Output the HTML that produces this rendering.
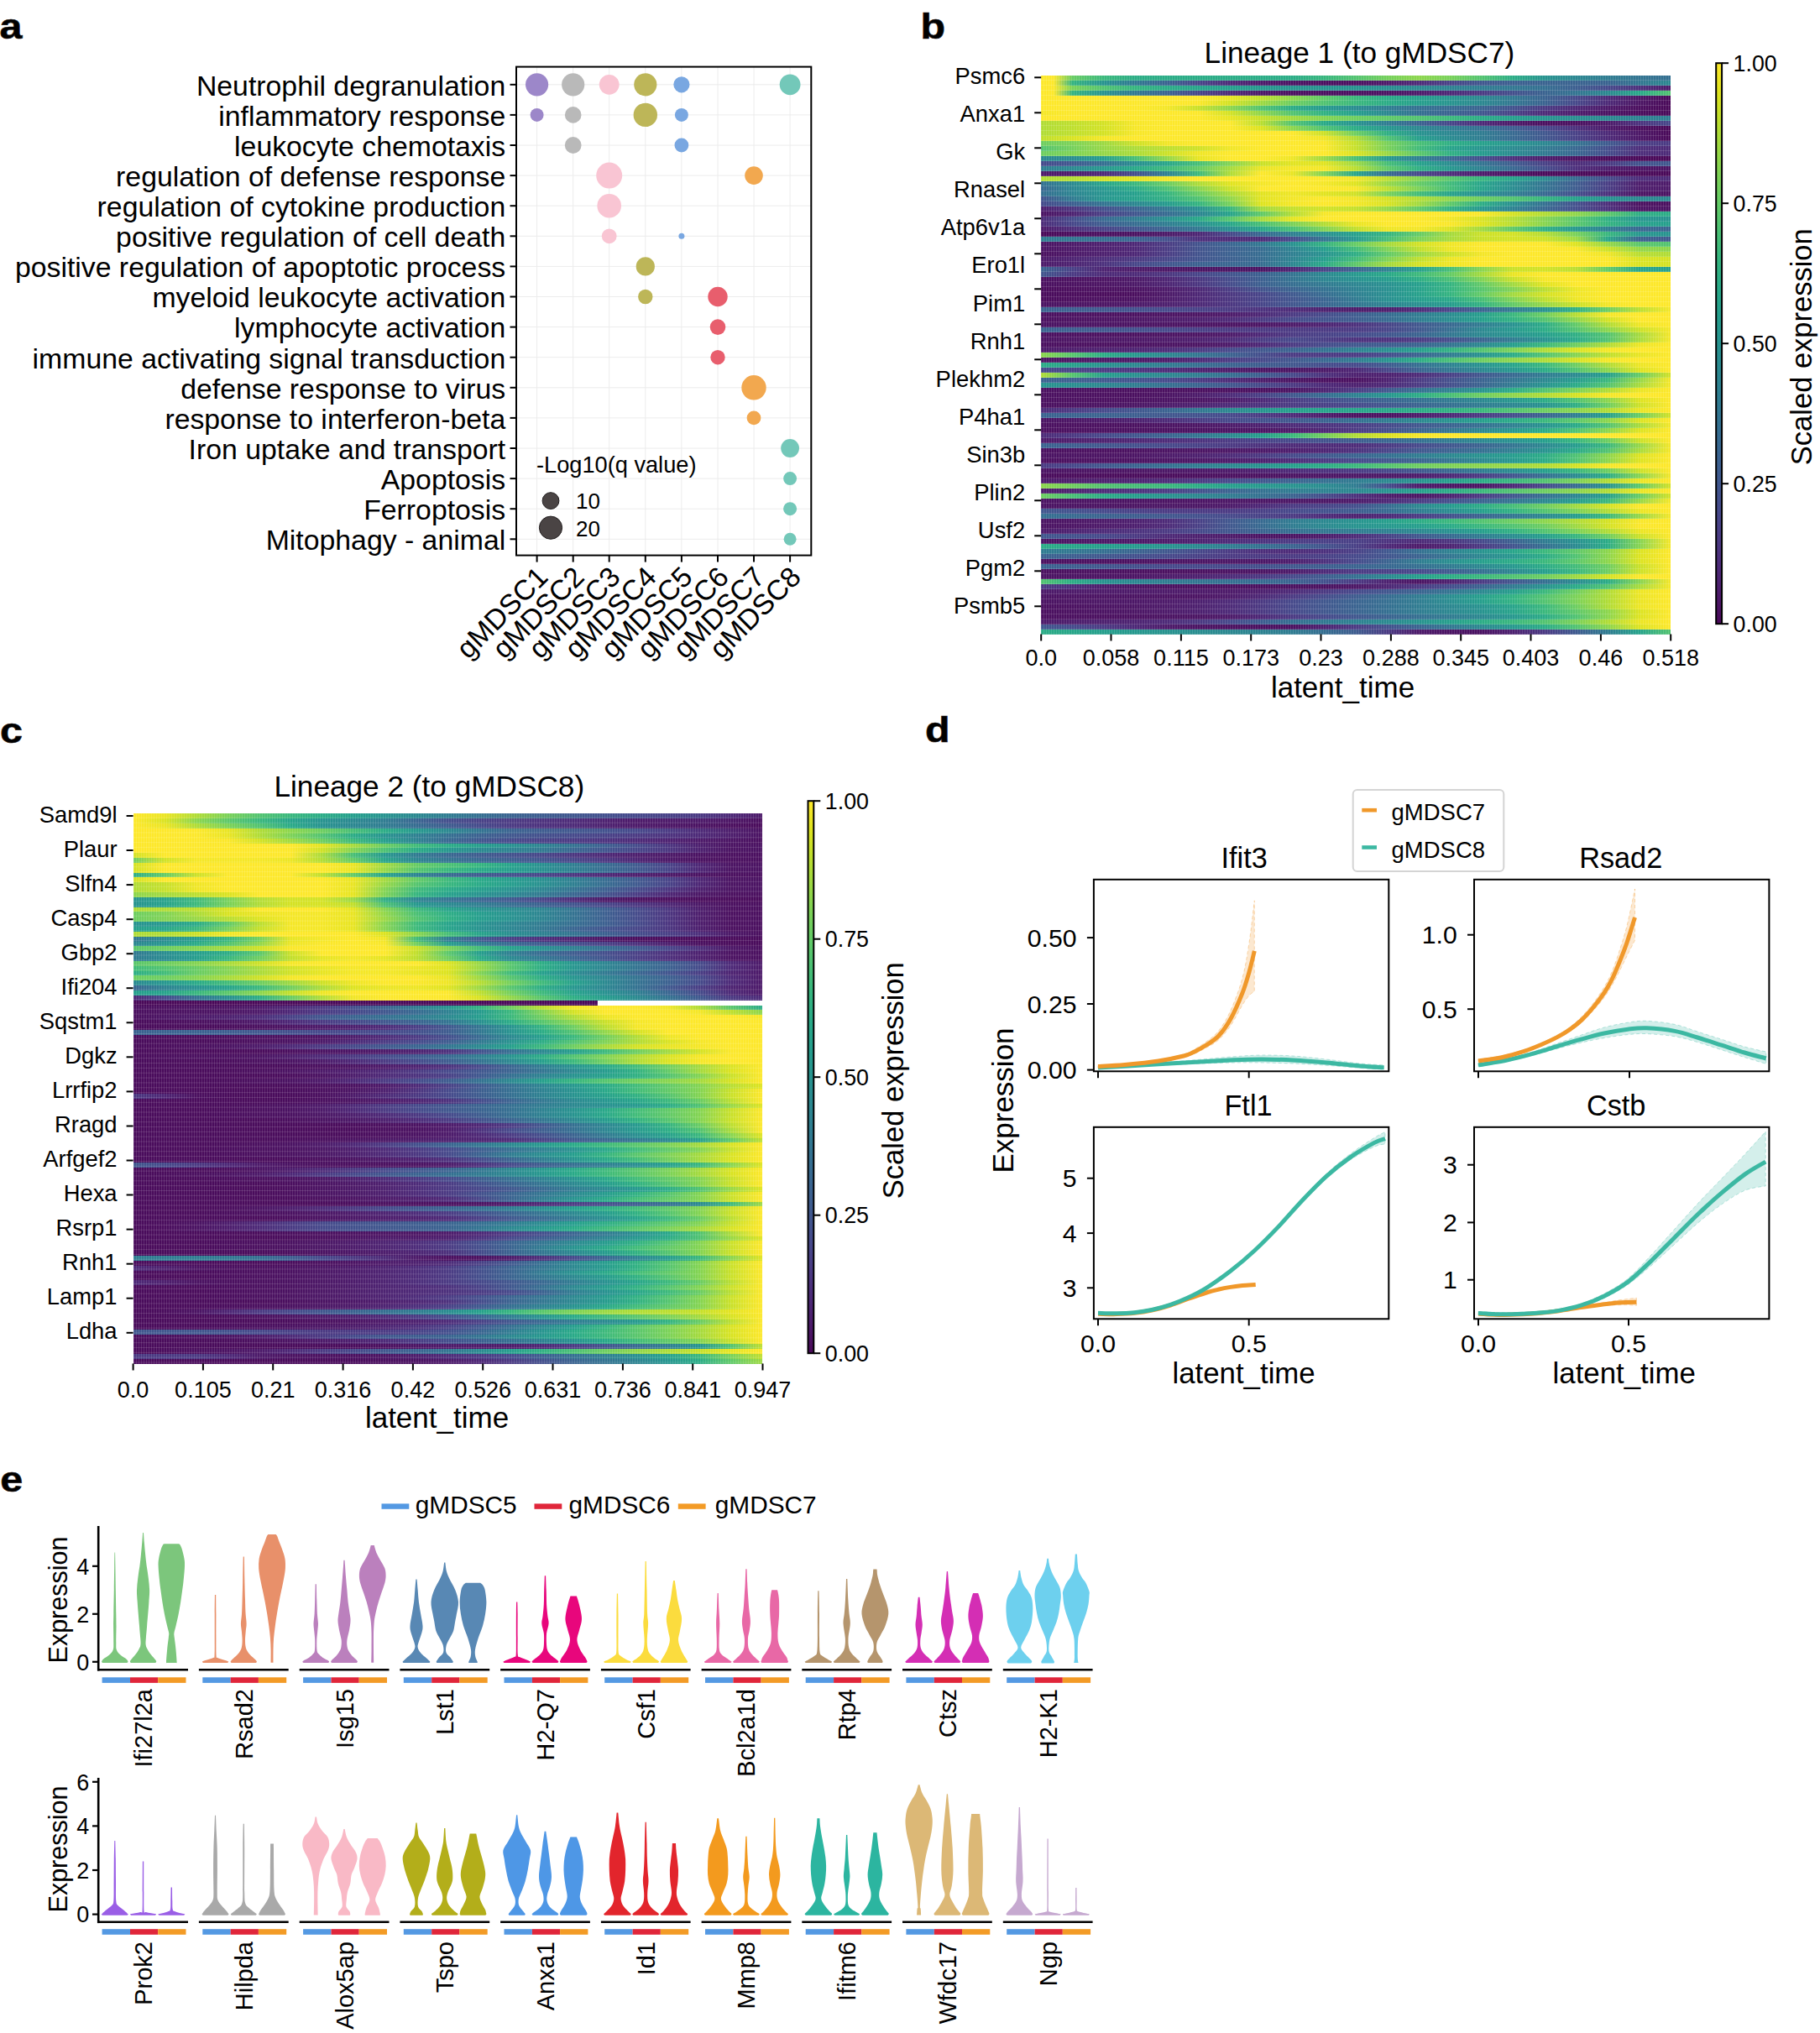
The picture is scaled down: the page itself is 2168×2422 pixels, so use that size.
<!DOCTYPE html><html><head><meta charset="utf-8"><title>Figure</title><style>
html,body{margin:0;padding:0;background:#fff}
#pg{position:relative;width:2168px;height:2422px;overflow:hidden;background:#fff;font-family:"Liberation Sans", Arial, Helvetica, sans-serif}
.hm{position:absolute;overflow:hidden}.hm i{position:absolute;left:0;width:100%;display:block}
.gr{position:absolute;left:0;top:0;width:100%;height:100%;display:block;background-image:linear-gradient(90deg,rgba(255,255,255,.13) 1px,transparent 1px),linear-gradient(0deg,rgba(255,255,255,.13) 1px,transparent 1px)}
svg{position:absolute;left:0;top:0}
svg text{font-family:"Liberation Sans", Arial, Helvetica, sans-serif;fill:#000}
</style></head><body><div id="pg">
<div class="hm" style="left:1240.2px;top:89.5px;width:750.0px;height:666.1px"><i style="top:0.00px;height:6.60px;background:linear-gradient(90deg,#fde82b 0.0%,#fde82b 2.0%,#68cc63 5.0%,#3ab87c 10.0%,#2cad85 15.0%,#2bac86 20.0%,#2bac86 25.0%,#2bac86 30.0%,#2bac86 35.0%,#2bac86 40.0%,#37b67e 45.0%,#52c370 50.0%,#74d05b 55.0%,#8cd64c 60.0%,#78d159 65.0%,#52c370 70.0%,#2bac86 75.0%,#27938f 80.0%,#2b8691 85.0%,#2f7c91 90.0%,#327491 95.0%,#346f91 100.0%)"></i><i style="top:6.00px;height:6.60px;background:linear-gradient(90deg,#fde82b 0.0%,#fde82b 2.0%,#34b480 5.0%,#27938f 10.0%,#317891 15.0%,#3a6390 20.0%,#474689 25.0%,#4d2a78 30.0%,#4d1b6b 35.0%,#4b1363 40.0%,#4b1060 45.0%,#4b1060 50.0%,#4d1a6a 55.0%,#4d2a78 60.0%,#484287 65.0%,#40578e 70.0%,#3c5f90 75.0%,#3a6390 80.0%,#3a6390 85.0%,#3a6390 90.0%,#327691 95.0%,#2b8890 100.0%)"></i><i style="top:12.00px;height:6.60px;background:linear-gradient(90deg,#fde82b 0.0%,#fde82b 2.0%,#7bd257 5.0%,#52c370 10.0%,#35b57f 15.0%,#2bac86 20.0%,#27a48a 25.0%,#259f8c 30.0%,#26988e 35.0%,#27938f 40.0%,#27938f 45.0%,#27938f 50.0%,#288e90 55.0%,#2b8890 60.0%,#2d8291 65.0%,#2f7c91 70.0%,#317791 75.0%,#346f91 80.0%,#3c5e90 85.0%,#46498b 90.0%,#4d2f7c 95.0%,#4d1a6a 100.0%)"></i><i style="top:18.00px;height:6.60px;background:linear-gradient(90deg,#fde82b 0.0%,#fde82b 2.0%,#34b480 5.0%,#27938f 10.0%,#317891 15.0%,#3a6390 20.0%,#464689 25.0%,#4d2a78 30.0%,#4c1969 35.0%,#4b1060 40.0%,#4b1060 45.0%,#4b1060 50.0%,#4b1363 55.0%,#4d1a6a 60.0%,#4d2776 65.0%,#4b3a83 70.0%,#434f8c 75.0%,#3a6390 80.0%,#327491 85.0%,#2b8890 90.0%,#28a889 95.0%,#52c370 100.0%)"></i><i style="top:24.00px;height:6.60px;background:linear-gradient(90deg,#fde82b,#fde82b,#fde82b,#fde82b,#fde82b,#fde82b,#e8e522,#bfdf2d,#8cd64c,#5ec968,#3ab87c,#2aab87,#259f8c,#27948f,#2b8890,#317791,#3a6390,#46488a,#4d2a78,#4c1665,#4a0959)"></i><i style="top:30.00px;height:6.60px;background:linear-gradient(90deg,#fde82b,#fde82b,#fde82b,#fde82b,#fde82b,#fbe72a,#d4e224,#9ed941,#6dce60,#50c371,#3ab87c,#2bac86,#259f8c,#27948f,#2b8890,#317791,#3a6390,#46488a,#4d2a78,#4c1665,#4a0959)"></i><i style="top:36.01px;height:6.60px;background:linear-gradient(90deg,#fde82b,#fde82b,#fde82b,#fde82b,#f5e727,#c9e028,#8cd64c,#51c370,#2bac86,#259a8e,#298c90,#2f7d91,#346f91,#376a91,#3a6390,#42518d,#4b3a83,#4d2876,#4d1a6a,#4b0f5f,#4a0959)"></i><i style="top:42.01px;height:6.60px;background:linear-gradient(90deg,#f5e727,#fde82b,#fde82b,#fde82b,#fde82b,#fde82a,#d4e224,#8fd64b,#52c370,#31b282,#259f8c,#2b8790,#346f91,#3a6290,#40578e,#484186,#4d2a78,#4d1c6c,#4b1363,#4a0c5d,#4a0959)"></i><i style="top:48.01px;height:6.60px;background:linear-gradient(90deg,#fde82b,#fde82b,#fde82b,#fde82b,#fde82b,#fde82b,#e8e522,#c6e02a,#a1da3f,#83d452,#6dce60,#60c967,#52c370,#3cb97c,#2bac86,#259e8c,#27938f,#298d90,#2b8890,#2d8191,#2f7c91)"></i><i style="top:54.01px;height:6.60px;background:linear-gradient(90deg,#b0dc36,#bedf2d,#d4e224,#f7e728,#fde82b,#fde82b,#fde82b,#b9de30,#52c370,#29aa87,#27938f,#2f7c91,#3a6390,#464689,#4d2a78,#4c1968,#4b1060,#4b1060,#4d1a6a,#4c327e,#46498b)"></i><i style="top:60.01px;height:6.60px;background:linear-gradient(90deg,#b0dc36,#bedf2d,#d4e224,#f7e728,#fde82b,#fde82b,#fde82b,#dde320,#8cd64c,#50c371,#2bac86,#26988e,#2b8890,#2f7c91,#346f91,#3d5e90,#46498b,#4c307c,#4d1a6a,#4b0e5e,#4a0959)"></i><i style="top:66.01px;height:6.60px;background:linear-gradient(90deg,#b0dc36,#bedf2d,#d4e224,#f7e728,#fde82b,#fde82b,#fde82b,#fde82b,#fde82b,#cde127,#6dce60,#2faf83,#27938f,#2b8691,#2f7c91,#376a91,#40578e,#484086,#4d2a78,#4c1767,#4a0959)"></i><i style="top:72.01px;height:6.60px;background:linear-gradient(90deg,#bfdf2d,#d9e322,#f5e727,#fde82b,#fde82b,#fde82b,#fde82b,#fde82b,#fde82b,#f1e626,#b0dc36,#52c370,#259f8c,#298b90,#2f7c91,#376991,#40578e,#484086,#4d2a78,#4c1767,#4a0959)"></i><i style="top:78.01px;height:6.60px;background:linear-gradient(90deg,#6dce60,#7cd257,#9cd942,#cde127,#f2e626,#fde82b,#fde82b,#fde82b,#fde82b,#fbe72a,#c4e02a,#79d159,#49c074,#2eaf84,#26a18b,#26968f,#2b8791,#337491,#3e5a8f,#493e85,#4b3a83)"></i><i style="top:84.01px;height:6.60px;background:linear-gradient(90deg,#52c370,#74d05b,#98d845,#addc38,#bddf2e,#d0e126,#f1e626,#fde82b,#fde82b,#fce82a,#c6e02a,#79d158,#41bb79,#27a38a,#26958f,#2a8a90,#307b91,#386791,#444d8c,#4d2e7b,#4d2a78)"></i><i style="top:90.01px;height:6.60px;background:linear-gradient(90deg,#6dce60,#7ed355,#95d747,#abdc39,#cce127,#efe625,#fde82b,#fde82b,#fde82b,#fde82b,#dde320,#9ad844,#5cc869,#30b083,#259c8d,#298b90,#307a91,#386791,#444d8c,#4d2e7b,#4d2a78)"></i><i style="top:96.01px;height:6.60px;background:linear-gradient(90deg,#2b8890,#298c90,#259d8d,#46be76,#91d74a,#e8e522,#fde82b,#fde82b,#efe625,#9ed941,#48bf75,#269a8e,#2e7f91,#386891,#444d8c,#4d2f7c,#4d1c6c,#4b1161,#4a0b5b,#4a0959,#4a0959)"></i><i style="top:102.02px;height:6.60px;background:linear-gradient(90deg,#46498b,#40588f,#356f91,#288e90,#28a689,#47bf75,#84d452,#c9e128,#e2e420,#e2e420,#a0da40,#46be76,#26a38b,#298c90,#337491,#3e5c8f,#484186,#4d2c79,#4b3982,#41538d,#40578e)"></i><i style="top:108.02px;height:6.60px;background:linear-gradient(90deg,#2f7c91,#2a8a90,#26998e,#28a988,#3cb97b,#64cb65,#a6db3c,#ece524,#f5e727,#f5e727,#bade2f,#60c967,#2fb083,#26988e,#2d8191,#386891,#444d8c,#4d2f7c,#4d1d6d,#4c1464,#4b1363)"></i><i style="top:114.02px;height:6.60px;background:linear-gradient(90deg,#4d1a6a,#4d1b6a,#4d2a78,#434f8c,#2d8191,#3dba7b,#aedc37,#fde82b,#e9e523,#81d353,#27a58a,#356d91,#46488a,#4d2e7b,#4d1c6c,#4b1161,#4a0b5b,#4a0959,#4a0959,#4a0959,#4a0959)"></i><i style="top:120.02px;height:6.60px;background:linear-gradient(90deg,#b0dc36,#b3dd34,#d1e225,#e2e420,#f3e626,#fde82b,#fde82b,#fde82b,#fde82b,#fde82b,#f2e626,#b9de30,#82d353,#57c66c,#35b57f,#26a38b,#2a8a90,#376a91,#454c8b,#4d2c7a,#4d2a78)"></i><i style="top:126.02px;height:6.60px;background:linear-gradient(90deg,#347091,#2a8990,#27a58a,#39b77d,#68cc63,#addc38,#e0e41f,#f5e727,#fde82b,#f5e727,#dfe41f,#98d845,#65cb64,#40bb7a,#27a58a,#298d90,#327491,#3e5c8f,#493e85,#4d1d6c,#4d1a6a)"></i><i style="top:132.02px;height:6.60px;background:linear-gradient(90deg,#386791,#2b8691,#26988e,#2aab87,#4bc173,#87d450,#cbe127,#fde82b,#fde82b,#fde82b,#f9e729,#bedf2d,#7bd258,#43bd78,#27a48a,#298c90,#327491,#3e5c8f,#493e85,#4d1d6c,#4d1a6a)"></i><i style="top:138.02px;height:6.60px;background:linear-gradient(90deg,#356e91,#2c8491,#26958f,#25a08c,#34b480,#68cc63,#a8db3b,#e2e420,#efe625,#e2e420,#d0e126,#7cd257,#42bc78,#27a38a,#288f90,#2e7f91,#376991,#434e8c,#4c317d,#4c1464,#4b1363)"></i><i style="top:144.02px;height:6.60px;background:linear-gradient(90deg,#42518d,#307a91,#26978e,#26a18b,#30b083,#4fc271,#8dd64c,#e3e420,#f3e627,#fde82b,#f3e627,#d5e223,#b2dd35,#8dd64c,#6ece5f,#53c46f,#35b57f,#26a18b,#279290,#2b8890,#2b8890)"></i><i style="top:150.02px;height:6.60px;background:linear-gradient(90deg,#454a8b,#3c5e90,#327491,#2b8790,#259b8d,#34b480,#77d15a,#dee420,#f4e727,#fde82b,#f4e727,#dae322,#a2da3f,#5fc968,#2dae85,#288f90,#347091,#43508d,#4d2f7b,#4b1161,#4b1060)"></i><i style="top:156.02px;height:6.60px;background:linear-gradient(90deg,#4d1e6e,#4c337e,#434e8c,#3b6290,#317791,#288f90,#35b57f,#a3da3e,#c4e02b,#d2e225,#c4e02b,#96d846,#60ca67,#31b182,#26988e,#2d8191,#386891,#444e8c,#4c317d,#4c1464,#4b1363)"></i><i style="top:162.02px;height:6.60px;background:linear-gradient(90deg,#4b1363,#4d2271,#494086,#40568e,#366b91,#2c8491,#26a38a,#5fc968,#b2dd34,#f7e728,#fde82b,#fde82b,#fde82b,#fde82b,#f9e729,#d5e223,#b2dd34,#90d64a,#5dc869,#2eae84,#2bac86)"></i><i style="top:168.03px;height:6.60px;background:linear-gradient(90deg,#4d2a78,#454b8b,#376991,#307b91,#289090,#28a888,#55c56e,#a7db3c,#e5e521,#fde82b,#fde82b,#fde82b,#fde82b,#f2e626,#d8e322,#b3dd34,#85d451,#59c76b,#2fb083,#26968f,#27938f)"></i><i style="top:174.03px;height:6.60px;background:linear-gradient(90deg,#4d2a78,#464689,#3d5e90,#366d91,#2f7d91,#288f90,#27a689,#47bf75,#7ad158,#b3dd34,#eae523,#fde82b,#fde82b,#fae729,#dfe41f,#b9de30,#88d54f,#5ac76b,#34b480,#26a28b,#259f8c)"></i><i style="top:180.03px;height:6.60px;background:linear-gradient(90deg,#4d1a6a,#4d2d7a,#484187,#41548e,#3a6491,#317891,#288e90,#28a689,#48bf75,#80d355,#c1df2c,#efe625,#f4e627,#dce321,#a1da3f,#5dc869,#30b183,#26988e,#2e7f91,#386691,#3a6390)"></i><i style="top:186.03px;height:6.60px;background:linear-gradient(90deg,#4a0959,#4a0d5d,#4b1060,#4b1262,#4c1968,#4d2674,#464789,#376991,#2e8091,#289090,#26a18b,#34b480,#64cb65,#a4da3d,#cce127,#d4e224,#b6dd32,#78d159,#38b77e,#26988e,#27938f)"></i><i style="top:192.03px;height:6.60px;background:linear-gradient(90deg,#2f7c91,#327591,#356d91,#396591,#434f8c,#4d2f7c,#4d2a78,#4d2a78,#46498b,#337491,#269a8e,#45bd77,#7bd257,#a8db3b,#c8e029,#d4e224,#cee126,#9dd942,#28a789,#3b6190,#40578e)"></i><i style="top:198.03px;height:6.60px;background:linear-gradient(90deg,#4b1363,#4c1969,#4d1f6f,#4d2776,#4a3b83,#42538d,#396491,#317891,#279290,#32b281,#66cc64,#a4da3e,#d3e224,#f0e625,#fde82b,#fde82b,#fde82b,#dee420,#98d845,#5ac76b,#52c370)"></i><i style="top:204.03px;height:6.60px;background:linear-gradient(90deg,#4b1363,#4c1969,#4d1f6f,#4d2776,#4a3c84,#42538d,#3c6090,#366c91,#2d8391,#259e8d,#41bb79,#7ed356,#bfdf2d,#eee624,#fde82b,#fde82b,#fde82b,#fae72a,#cde127,#94d747,#8cd64c)"></i><i style="top:210.03px;height:6.60px;background:linear-gradient(90deg,#4b1060,#4c1868,#4d206f,#4d2776,#4a3c84,#42538d,#3b6190,#366d91,#2e7f91,#27938f,#2eae84,#61ca67,#99d845,#cbe128,#f4e627,#fde82b,#fde82b,#fde82b,#f0e626,#b9de30,#b0dc36)"></i><i style="top:216.03px;height:6.60px;background:linear-gradient(90deg,#4d1a6a,#4d2372,#4d2e7b,#4b3881,#474589,#41548e,#3c5f90,#366c91,#2d8391,#259e8d,#41bb79,#7ed356,#bfdf2d,#eee624,#fde82b,#fde82b,#fde82b,#fde82b,#fce82a,#dae321,#d4e224)"></i><i style="top:222.03px;height:6.60px;background:linear-gradient(90deg,#4d1a6a,#4d2271,#4c317d,#474689,#41558e,#3b6190,#396691,#366d91,#2b8791,#29aa88,#5dc869,#a2da3f,#d5e224,#f0e625,#fde82b,#fde82b,#fde82b,#fde82b,#fce82a,#dae321,#d4e224)"></i><i style="top:228.03px;height:6.60px;background:linear-gradient(90deg,#3a6390,#484086,#4d2271,#4d1b6a,#4c1666,#4b1363,#4b1363,#4b1363,#4d2473,#484387,#3b6290,#2d8291,#25a08c,#46be76,#89d54f,#cbe127,#d4e224,#bbde2f,#63cb65,#27a58a,#259f8c)"></i><i style="top:234.04px;height:6.60px;background:linear-gradient(90deg,#40578e,#4a3a83,#4d2a78,#4d2a78,#4c357f,#474589,#41538d,#3b6090,#337391,#2a8890,#26998e,#28a888,#3db97b,#64cb65,#a4da3d,#ebe523,#fde82b,#fde82b,#fde82b,#fde82b,#fde82b)"></i><i style="top:240.04px;height:6.60px;background:linear-gradient(90deg,#4b1060,#4b1161,#4c1464,#4c1968,#4d2473,#4b3680,#454b8b,#3c5f90,#337391,#2c8591,#279190,#259c8d,#2cad85,#49bf75,#80d355,#c8e029,#f6e728,#fde82b,#fde82b,#fde82b,#fde82b)"></i><i style="top:246.04px;height:6.60px;background:linear-gradient(90deg,#4b1060,#4b1161,#4c1464,#4c1968,#4d2473,#4b3680,#454b8b,#3c6090,#356e91,#307a91,#2c8591,#289190,#25a08c,#34b480,#62ca67,#a2da3f,#e2e420,#fde82b,#fde82b,#fde82b,#fde82b)"></i><i style="top:252.04px;height:6.60px;background:linear-gradient(90deg,#4a0c5c,#4b0e5e,#4b1060,#4b1262,#4d1a6a,#4d2775,#4a3c84,#42538d,#3a6390,#337191,#2d8191,#289090,#26a18b,#34b480,#57c66c,#82d353,#bbde2f,#ede624,#fde82b,#fde82b,#fde82b)"></i><i style="top:258.04px;height:6.60px;background:linear-gradient(90deg,#4a0c5c,#4a0c5c,#4a0c5c,#4b0f5f,#4c1968,#4d2775,#4b3680,#474589,#3f598f,#366c91,#2e7e91,#289090,#26a18b,#34b480,#63cb66,#a3da3e,#d3e224,#f0e625,#fde82b,#fde82b,#fde82b)"></i><i style="top:264.04px;height:6.60px;background:linear-gradient(90deg,#4a0c5c,#4b0e5e,#4b1060,#4b1262,#4d1b6a,#4d2776,#4b3680,#474589,#41558e,#396491,#307a91,#289090,#259d8d,#28a888,#45be76,#7fd355,#bddf2e,#eee624,#fde82b,#fde82b,#fde82b)"></i><i style="top:270.04px;height:6.60px;background:linear-gradient(90deg,#4b1363,#4b1363,#4c1464,#4c1969,#4d1f6e,#4d2876,#4b3580,#474589,#40568e,#396591,#327591,#2c8591,#289090,#259c8d,#32b281,#62ca66,#97d846,#cbe128,#f4e627,#fde82b,#fde82b)"></i><i style="top:276.04px;height:6.60px;background:linear-gradient(90deg,#3a6390,#3d5e90,#40578e,#43508d,#46498b,#484187,#4b3a83,#4c327e,#4d2a78,#4d206f,#4d1a6a,#4d1d6c,#4d2a78,#474689,#3a6390,#307b91,#27938f,#31b282,#6dce60,#bcde2f,#f5e727)"></i><i style="top:282.04px;height:6.60px;background:linear-gradient(90deg,#4b1060,#4b1060,#4b1060,#4b1161,#4b1363,#4c1564,#4d1a6a,#4d2876,#4b3a83,#454b8b,#3e5c8f,#366b91,#2f7c91,#298c90,#259f8c,#39b77d,#6dce60,#b7de32,#f5e727,#fde82b,#fde82b)"></i><i style="top:288.04px;height:6.60px;background:linear-gradient(90deg,#4b1060,#4b1161,#4b1363,#4c1665,#4d1a6a,#4d206f,#4d2a78,#4b3a83,#46498b,#42528d,#3e5c8f,#376a91,#2f7c91,#298d90,#259f8c,#31b182,#52c370,#8fd64b,#d4e224,#fde82a,#fde82b)"></i><i style="top:294.04px;height:6.60px;background:linear-gradient(90deg,#4b1363,#4b1363,#4b1363,#4b1363,#4b1363,#4b1363,#4b1363,#4c1565,#4d1a6a,#4d2372,#4c307c,#484387,#40578e,#386891,#2f7c91,#279290,#2bac86,#61ca67,#b0dc36,#efe625,#fde82b)"></i><i style="top:300.05px;height:6.60px;background:linear-gradient(90deg,#3a6390,#3d5e90,#40578e,#43508d,#46498b,#484086,#4b3a83,#4b3a83,#4b3a83,#4b3a83,#4b3a83,#474589,#40578e,#356f91,#2b8890,#26998e,#2bac86,#52c370,#8cd64c,#cbe127,#f5e727)"></i><i style="top:306.05px;height:6.60px;background:linear-gradient(90deg,#4b1060,#4b1060,#4b1060,#4b1161,#4b1363,#4c1564,#4d1a6a,#4d2978,#4b3a83,#484187,#46498b,#41558e,#3a6390,#327691,#2b8890,#27938f,#259f8c,#2faf83,#52c370,#a5da3d,#f5e727)"></i><i style="top:312.05px;height:6.60px;background:linear-gradient(90deg,#4b1363,#4c1564,#4c1766,#4c1767,#4d1a6a,#4d206f,#4d2a78,#4a3c84,#46498b,#493e85,#4c307c,#4c307d,#4b3a83,#444d8c,#3a6390,#307b91,#27938f,#2aab87,#52c370,#a7db3c,#f5e727)"></i><i style="top:318.05px;height:6.60px;background:linear-gradient(90deg,#4b1060,#4b1060,#4b1060,#4b1161,#4b1363,#4c1564,#4d1a6a,#4d2877,#4b3a83,#454a8b,#40578e,#3d5c8f,#3a6390,#337391,#2b8890,#259e8c,#3ab87c,#6fce5e,#b0dc36,#ede624,#fde82b)"></i><i style="top:324.05px;height:6.60px;background:linear-gradient(90deg,#4d1a6a,#4d1d6c,#4d206f,#4d2372,#4d2a78,#4b3982,#46498b,#40578e,#3a6390,#337191,#2d8191,#288f90,#259f8c,#31b182,#52c370,#7dd256,#b0dc36,#d9e322,#f5e727,#fde82b,#fde82b)"></i><i style="top:330.05px;height:6.60px;background:linear-gradient(90deg,#8cd64c,#57c66d,#2bac86,#26988e,#2b8890,#327691,#3a6390,#444d8c,#4b3a83,#4b3a83,#4b3a83,#444c8c,#3a6390,#307b91,#27938f,#2bac86,#52c370,#86d450,#bfdf2d,#e9e522,#fde82b)"></i><i style="top:336.05px;height:6.60px;background:linear-gradient(90deg,#4b1363,#4c1564,#4c1766,#4c1766,#4d1a6a,#4d2877,#4b3a83,#46488a,#40578e,#386891,#2f7c91,#27938f,#2bac86,#48bf75,#6dce60,#8fd64b,#b0dc36,#d6e223,#f5e727,#fde82b,#fde82b)"></i><i style="top:342.05px;height:6.60px;background:linear-gradient(90deg,#2bac86,#26a18b,#27938f,#2b8890,#2f7c91,#356f91,#3a6390,#3d5c8f,#40578e,#444c8c,#46498b,#3e5a8f,#346f91,#2d8291,#27938f,#27a48a,#3ab87c,#6dce60,#b0dc36,#ede624,#fde82b)"></i><i style="top:348.05px;height:6.60px;background:linear-gradient(90deg,#46498b,#484287,#4b3a83,#4c327e,#4d2a78,#4d2170,#4d1a6a,#4c1464,#4b1363,#4c1968,#4d2675,#474689,#3a6390,#317791,#2b8890,#26988e,#2bac86,#50c371,#8cd64c,#dde320,#fde82b)"></i><i style="top:354.05px;height:6.60px;background:linear-gradient(90deg,#b0dc36,#55c56e,#259f8c,#289090,#2b8890,#2f7d91,#346f91,#3d5d90,#46498b,#4c317d,#4d206f,#4d206f,#4d2a78,#493f86,#40578e,#376991,#2f7c91,#2a8b90,#259f8c,#64cb65,#d4e224)"></i><i style="top:360.05px;height:6.60px;background:linear-gradient(90deg,#3a6390,#3d5e90,#40578e,#42518d,#46498b,#4a3a83,#4d2a78,#4d1d6c,#4b1363,#4b1060,#4b1060,#4d2271,#4b3a83,#43508c,#3a6390,#327591,#2b8890,#259d8d,#3ab87c,#95d747,#f5e727)"></i><i style="top:366.05px;height:6.60px;background:linear-gradient(90deg,#27938f,#288f90,#2b8890,#2f7d91,#346f91,#3a6390,#40578e,#46488a,#4b3a83,#4d2978,#4d206f,#4d2877,#4b3a83,#444e8c,#3a6390,#307b91,#27938f,#2aab87,#52c370,#a7db3c,#f5e727)"></i><i style="top:372.06px;height:6.60px;background:linear-gradient(90deg,#4b1060,#4b1060,#4b1060,#4b1060,#4b1060,#4b1060,#4b1060,#4b1060,#4b1363,#4d2372,#4b3a83,#40578e,#346f91,#2d8291,#27938f,#2bac86,#52c370,#7dd256,#b0dc36,#ebe523,#fde82b)"></i><i style="top:378.06px;height:6.60px;background:linear-gradient(90deg,#4b1060,#4b1060,#4b1060,#4b1060,#4b1363,#4d1c6b,#4d2a78,#494086,#40578e,#366b91,#2d8191,#26968f,#2bac86,#47bf75,#6dce60,#8fd64b,#b0dc36,#d6e223,#f5e727,#fde82b,#fde82b)"></i><i style="top:384.06px;height:6.60px;background:linear-gradient(90deg,#4b1060,#4b1060,#4b1060,#4b1161,#4b1363,#4c1564,#4d1a6a,#4d2877,#4b3a83,#46498b,#40578e,#3a6390,#346f91,#307b91,#2b8890,#26988e,#2bac86,#50c371,#8cd64c,#dde320,#fde82b)"></i><i style="top:390.06px;height:6.60px;background:linear-gradient(90deg,#4b1060,#4b1161,#4b1363,#4c1665,#4d1a6a,#4d2170,#4d2a78,#4c327e,#4b3a83,#484086,#46498b,#40568e,#3a6390,#346f91,#2f7c91,#2b8691,#27938f,#2faf83,#6dce60,#cde127,#fde82b)"></i><i style="top:396.06px;height:6.60px;background:linear-gradient(90deg,#4d2a78,#4b3882,#46498b,#40568e,#3a6390,#327691,#2b8890,#26958f,#259f8c,#26a38b,#27a48a,#28a789,#2bac86,#30b182,#3ab87c,#50c371,#6dce60,#8ad54e,#b0dc36,#e9e523,#fde82b)"></i><i style="top:402.06px;height:6.60px;background:linear-gradient(90deg,#3a6390,#3a6390,#3a6390,#3d5e90,#40578e,#42518d,#46498b,#4a3b83,#4d2a78,#4d1b6a,#4b1060,#4b1161,#4d1a6a,#4d2776,#4b3a83,#444d8c,#3a6390,#2e7f91,#259f8c,#68cc63,#d4e224)"></i><i style="top:408.06px;height:6.60px;background:linear-gradient(90deg,#4b1363,#4c1565,#4d1a6a,#4d206f,#4d2a78,#4b3a83,#46498b,#43508d,#40578e,#3a6290,#346f91,#2f7c91,#2b8890,#27938f,#259f8c,#2aab87,#3ab87c,#5cc86a,#8cd64c,#dbe321,#fde82b)"></i><i style="top:414.06px;height:6.60px;background:linear-gradient(90deg,#4b1060,#4b1060,#4b1060,#4b1161,#4b1363,#4c1665,#4d1a6a,#4d2170,#4d2a78,#4c317d,#4b3a83,#46488a,#40578e,#3a6290,#346f91,#2e8091,#27938f,#29aa87,#52c370,#a7db3c,#f5e727)"></i><i style="top:420.06px;height:6.60px;background:linear-gradient(90deg,#4b1060,#4b1060,#4b1060,#4b1060,#4b1060,#4b1161,#4b1363,#4c1564,#4d1a6a,#4d2776,#4b3a83,#434f8c,#3a6390,#327691,#2b8890,#26988e,#2bac86,#50c371,#8cd64c,#dde320,#fde82b)"></i><i style="top:426.06px;height:6.60px;background:linear-gradient(90deg,#4d2a78,#4b3882,#46498b,#40568e,#3a6390,#327491,#2b8890,#259e8c,#3ab87c,#71cf5d,#b0dc36,#dbe321,#f5e727,#fde82b,#fde82b,#fde82b,#fde82b,#fde82b,#fde82b,#fde82b,#fde82b)"></i><i style="top:432.06px;height:6.60px;background:linear-gradient(90deg,#4d1a6a,#4d1d6c,#4d206f,#4d2473,#4d2a78,#4c317d,#4b3a83,#484187,#46498b,#42528d,#3e5c8f,#396591,#346f91,#307c91,#2b8890,#279290,#259f8c,#36b67f,#6dce60,#cbe127,#fde82b)"></i><i style="top:438.07px;height:6.60px;background:linear-gradient(90deg,#3a6390,#3d5e90,#40578e,#43508d,#46498b,#484187,#4b3a83,#4c317d,#4d2a78,#4d2a78,#4d2a78,#4b3882,#46498b,#40568e,#3a6390,#327491,#2b8890,#259d8d,#3ab87c,#95d747,#f5e727)"></i><i style="top:444.07px;height:6.60px;background:linear-gradient(90deg,#4b1060,#4b1060,#4b1060,#4b1161,#4b1363,#4c1564,#4c1766,#4c1969,#4d1d6d,#4d2473,#4c307c,#474488,#40578e,#3a6390,#346f91,#2e8091,#27938f,#29aa87,#52c370,#a7db3c,#f5e727)"></i><i style="top:450.07px;height:6.60px;background:linear-gradient(90deg,#4b1363,#4b1363,#4b1363,#4c1565,#4d1a6a,#4d206f,#4d2a78,#4b3982,#46498b,#40578e,#3a6390,#346f91,#2f7c91,#2b8890,#27938f,#259d8d,#2bac86,#4ec272,#8cd64c,#dde320,#fde82b)"></i><i style="top:456.07px;height:6.60px;background:linear-gradient(90deg,#4b1060,#4b1060,#4b1060,#4b1161,#4b1363,#4c1665,#4d1a6a,#4d206f,#4d2a78,#4b3982,#46498b,#40568e,#3a6390,#327591,#2b8890,#26988e,#2bac86,#50c371,#8cd64c,#dde320,#fde82b)"></i><i style="top:462.07px;height:6.60px;background:linear-gradient(90deg,#4b3a83,#46478a,#40578e,#3a6390,#346f91,#2f7c91,#2b8890,#27938f,#259f8c,#2bac86,#3ab87c,#53c46f,#6dce60,#7dd256,#8cd64c,#9cd943,#b0dc36,#d4e224,#f5e727,#fde82b,#fde82b)"></i><i style="top:468.07px;height:6.60px;background:linear-gradient(90deg,#4b1363,#4b1363,#4b1363,#4c1564,#4c1766,#4c1767,#4d1a6a,#4d2170,#4d2a78,#4c317d,#4b3a83,#46478a,#40578e,#386891,#2f7c91,#298d90,#259f8c,#37b67e,#6dce60,#cbe127,#fde82b)"></i><i style="top:474.07px;height:6.60px;background:linear-gradient(90deg,#4a0c5c,#4a0c5c,#4a0c5c,#4a0c5c,#4a0c5c,#4a0e5e,#4b1060,#4b1161,#4b1363,#4c1565,#4c1766,#4c1766,#4d1a6a,#4d2675,#4b3a83,#41548e,#346f91,#298b90,#2bac86,#86d451,#f5e727)"></i><i style="top:480.07px;height:6.60px;background:linear-gradient(90deg,#4d1a6a,#4d1d6c,#4d206f,#4d2372,#4d2a78,#4b3982,#46498b,#40578e,#3a6390,#346f91,#2f7c91,#2b8890,#27938f,#259f8c,#2bac86,#39b77d,#52c370,#7ad158,#b0dc36,#ebe523,#fde82b)"></i><i style="top:486.07px;height:6.60px;background:linear-gradient(90deg,#8cd64c,#6fce5e,#52c370,#45be77,#3ab87c,#2bac86,#259f8c,#26998e,#27938f,#298c90,#2f7c91,#434e8c,#4d1a6a,#4b1363,#4b1363,#4d2877,#46498b,#366c91,#27938f,#5cc86a,#d4e224)"></i><i style="top:492.07px;height:6.60px;background:linear-gradient(90deg,#4d1a6a,#4d2170,#4d2a78,#4c307c,#4b3a83,#434f8c,#3a6390,#347191,#2f7c91,#2d8291,#2b8890,#279390,#259f8c,#2bac86,#3ab87c,#52c370,#6dce60,#8ad54e,#b0dc36,#e9e523,#fde82b)"></i><i style="top:498.07px;height:6.60px;background:linear-gradient(90deg,#6dce60,#48bf75,#2bac86,#259e8c,#27938f,#2b8890,#2f7c91,#347191,#3a6390,#454b8b,#4c307c,#4d1c6b,#4b1363,#4d2170,#4b3a83,#40568e,#346f91,#2b8691,#259f8c,#66cc64,#d4e224)"></i><i style="top:504.08px;height:6.60px;background:linear-gradient(90deg,#4b1363,#4b1363,#4b1363,#4b1363,#4b1363,#4c1565,#4c1766,#4c1766,#4c1766,#4c1766,#4d1a6a,#4d2776,#4b3a83,#434f8c,#3a6390,#327591,#2b8890,#259d8d,#3ab87c,#95d747,#f5e727)"></i><i style="top:510.08px;height:6.60px;background:linear-gradient(90deg,#4b1363,#4b1363,#4b1363,#4c1564,#4c1766,#4c1766,#4d1a6a,#4d2877,#4b3a83,#484287,#434e8c,#376a91,#2b8890,#259a8e,#2bac86,#45be77,#6dce60,#a0da40,#d4e224,#fbe72a,#fde82b)"></i><i style="top:516.08px;height:6.60px;background:linear-gradient(90deg,#40578e,#42518d,#46498b,#484086,#4b3a83,#4b3a83,#4b3a83,#494086,#46498b,#42518d,#3e5c8f,#376a91,#2f7c91,#298d90,#259f8c,#31b282,#52c370,#7bd257,#b0dc36,#ebe523,#fde82b)"></i><i style="top:522.08px;height:6.60px;background:linear-gradient(90deg,#346f91,#376a91,#3a6390,#3d5d8f,#40578e,#43508d,#46498b,#484287,#4b3a83,#4d2a79,#4d206f,#4d2877,#4b3a83,#434f8c,#3a6390,#327591,#2b8890,#259d8d,#3ab87c,#95d747,#f5e727)"></i><i style="top:528.08px;height:6.60px;background:linear-gradient(90deg,#4b1363,#4c1565,#4d1a6a,#4d1f6f,#4d2a78,#494086,#40578e,#376a91,#2f7c91,#2a8890,#27938f,#259f8c,#2bac86,#3ab87c,#52c370,#6dce60,#8cd64c,#b0dc36,#d4e224,#f9e729,#fde82b)"></i><i style="top:534.08px;height:6.60px;background:linear-gradient(90deg,#4b1363,#4c1565,#4d1a6a,#4d1f6f,#4d2a78,#494086,#40578e,#376a91,#2f7c91,#2a8990,#27938f,#26998e,#259f8c,#2aab87,#3ab87c,#50c371,#6dce60,#9ed941,#d4e224,#fbe72a,#fde82b)"></i><i style="top:540.08px;height:6.60px;background:linear-gradient(90deg,#4d1a6a,#4d2170,#4d2a78,#4c317d,#4b3a83,#46488a,#40578e,#3a6490,#346f91,#327791,#2f7c91,#2d8191,#2b8890,#279290,#259f8c,#31b182,#52c370,#7bd257,#b0dc36,#ebe523,#fde82b)"></i><i style="top:546.08px;height:6.60px;background:linear-gradient(90deg,#40578e,#42528d,#46498b,#4b3a83,#4d2a78,#4d206f,#4d1a6a,#4c1464,#4b1363,#4d1b6b,#4d2a78,#494086,#40578e,#376991,#2f7c91,#298d90,#259f8c,#37b67e,#6dce60,#cbe127,#fde82b)"></i><i style="top:552.08px;height:6.60px;background:linear-gradient(90deg,#4b1363,#4c1564,#4c1766,#4c1767,#4d1a6a,#4d2170,#4d2a78,#4c327e,#4b3a83,#493f86,#494086,#4c337f,#4d2a78,#4c357f,#46498b,#3b6190,#2f7c91,#279190,#2bac86,#84d452,#f5e727)"></i><i style="top:558.08px;height:6.60px;background:linear-gradient(90deg,#2bac86,#27a689,#259f8c,#269a8e,#27938f,#2a8890,#2f7c91,#347091,#3a6390,#42538d,#494086,#4d2877,#4d1a6a,#4d2372,#4b3a83,#41548e,#346f91,#298b90,#2bac86,#86d451,#f5e727)"></i><i style="top:564.08px;height:6.60px;background:linear-gradient(90deg,#2f7c91,#317791,#346f91,#3a6490,#40578e,#46488a,#4b3a83,#4d2e7b,#4d2a78,#4c307d,#494086,#3f588f,#346f91,#2d8291,#27938f,#27a58a,#3ab87c,#5ec869,#8cd64c,#dbe321,#fde82b)"></i><i style="top:570.09px;height:6.60px;background:linear-gradient(90deg,#3a6390,#3d5e90,#40578e,#43508d,#46498b,#484086,#4b3a83,#4b3a83,#4b3a83,#494086,#46498b,#41558e,#3a6390,#327591,#2b8890,#26988e,#2bac86,#50c371,#8cd64c,#dde320,#fde82b)"></i><i style="top:576.09px;height:6.60px;background:linear-gradient(90deg,#4b1060,#4b1060,#4b1060,#4b1161,#4b1363,#4c1564,#4c1766,#4c1767,#4d1d6d,#4c307c,#46498b,#3a6390,#2f7c91,#288f90,#259f8c,#2bac86,#3ab87c,#5cc86a,#8cd64c,#dbe321,#fde82b)"></i><i style="top:582.09px;height:6.60px;background:linear-gradient(90deg,#3a6390,#3d5e90,#40578e,#434f8c,#46498b,#46498b,#46498b,#434f8c,#40578e,#3d5d8f,#3a6390,#386891,#346f91,#307a91,#2b8890,#26988e,#2bac86,#42bc78,#6dce60,#c9e028,#fde82b)"></i><i style="top:588.09px;height:6.60px;background:linear-gradient(90deg,#4b1060,#4b1060,#4b1060,#4b1060,#4b1060,#4b1161,#4b1363,#4c1564,#4d1a6a,#4d2978,#4b3a83,#484086,#46498b,#3e5b8f,#346f91,#2b8790,#259f8c,#39b77d,#6dce60,#cbe127,#fde82b)"></i><i style="top:594.09px;height:6.60px;background:linear-gradient(90deg,#4b1363,#4b1363,#4b1363,#4c1565,#4d1a6a,#4d206f,#4d2a78,#4b3882,#46498b,#3e5c8f,#346f91,#2a8890,#259f8c,#2cad85,#3ab87c,#50c371,#6dce60,#9ed941,#d4e224,#fbe72a,#fde82b)"></i><i style="top:600.09px;height:6.60px;background:linear-gradient(90deg,#52c370,#2cad85,#27938f,#2b8691,#2f7c91,#327591,#346f91,#366b91,#3a6390,#42518d,#4b3a83,#4d2170,#4b1363,#4d206f,#4b3a83,#41558e,#346f91,#298b90,#2bac86,#86d451,#f5e727)"></i><i style="top:606.09px;height:6.60px;background:linear-gradient(90deg,#4b3a83,#4d2a79,#4d1a6a,#4b1363,#4b1060,#4b1060,#4b1060,#4b1060,#4b1060,#4b1161,#4c1766,#4d2674,#4b3a83,#434e8c,#3a6390,#307b91,#27938f,#2aab87,#52c370,#a7db3c,#f5e727)"></i><i style="top:612.09px;height:6.60px;background:linear-gradient(90deg,#4d1a6a,#4d1a6a,#4d1a6a,#4d1a6a,#4d1a6a,#4d1a6a,#4d1a6a,#4d206f,#4d2a78,#4b3982,#46498b,#40568e,#3a6390,#327491,#2b8890,#259e8c,#3ab87c,#6fce5e,#b0dc36,#ede624,#fde82b)"></i><i style="top:618.09px;height:6.60px;background:linear-gradient(90deg,#4b1363,#4b1363,#4b1363,#4b1363,#4b1363,#4c1464,#4d1a6a,#4d2876,#4b3a83,#454b8b,#3e5c8f,#366b91,#2f7c91,#298d90,#259f8c,#31b282,#52c370,#7bd257,#b0dc36,#ebe523,#fde82b)"></i><i style="top:624.09px;height:6.60px;background:linear-gradient(90deg,#4b1363,#4c1564,#4c1766,#4c1767,#4d1a6a,#4d206f,#4d2a78,#4b3982,#46498b,#40578e,#3a6390,#356f91,#2f7c91,#298d90,#259f8c,#31b282,#52c370,#7bd257,#b0dc36,#ebe523,#fde82b)"></i><i style="top:630.09px;height:6.60px;background:linear-gradient(90deg,#4b1060,#4b1161,#4b1363,#4c1665,#4d1a6a,#4d206f,#4d2a78,#4b3982,#46498b,#40578e,#3a6390,#346f91,#2f7c91,#2b8790,#27938f,#27a48a,#3ab87c,#6dce60,#b0dc36,#ede624,#fde82b)"></i><i style="top:636.10px;height:6.60px;background:linear-gradient(90deg,#4b1060,#4b1161,#4b1363,#4c1665,#4d1a6a,#4d206f,#4d2a78,#4b3982,#46498b,#40578e,#3a6390,#346f91,#2f7c91,#2b8790,#27938f,#27a48a,#3ab87c,#5ec869,#8cd64c,#dbe321,#fde82b)"></i><i style="top:642.10px;height:6.60px;background:linear-gradient(90deg,#4b1060,#4b1060,#4b1060,#4b1161,#4b1363,#4c1564,#4d1a6a,#4d2877,#4b3a83,#46498b,#40578e,#3a6390,#346f91,#307b91,#2b8890,#26988e,#2bac86,#50c371,#8cd64c,#dde320,#fde82b)"></i><i style="top:648.10px;height:6.60px;background:linear-gradient(90deg,#4d1a6a,#4d1d6c,#4d206f,#4d2372,#4d2a78,#4b3881,#46498b,#3d5d90,#346f91,#307991,#2d8191,#2a8a90,#27938f,#259f8c,#2bac86,#39b77d,#52c370,#7ad158,#b0dc36,#ebe523,#fde82b)"></i><i style="top:654.10px;height:6.60px;background:linear-gradient(90deg,#40578e,#454a8b,#4b3a83,#4d2877,#4d1a6a,#4b1363,#4b1060,#4b1060,#4b1060,#4d2271,#4b3a83,#43508c,#3a6390,#327691,#2b8890,#26988e,#2bac86,#50c371,#8cd64c,#dde320,#fde82b)"></i><i style="top:660.10px;height:6.60px;background:linear-gradient(90deg,#2bac86,#27a689,#259f8c,#26998e,#27938f,#298e90,#2b8890,#2d8391,#2f7c91,#356e91,#3e5c8f,#4a3b83,#4d1a6a,#4b1363,#4b1363,#4d2170,#4b3a83,#3e5a8f,#2f7c91,#26a38b,#52c370)"></i><b class="gr" style="background-size:3px 6.001px"></b></div>
<div class="hm" style="left:158.6px;top:969.4px;width:749.9px;height:655.3px"><i style="top:0.00px;height:6.45px;background:linear-gradient(90deg,#fde82b,#ebe523,#b0dc36,#7ad158,#52c370,#39b77d,#2bac86,#259f8c,#27938f,#2b8890,#2f7c91,#356f91,#3a6390,#3d5c8f,#40578e,#43508d,#46498b,#484287,#4b3a83,#4d2977,#4d1a6a)"></i><i style="top:5.85px;height:6.45px;background:linear-gradient(90deg,#fde82b,#dbe321,#8cd64c,#5ec869,#3ab87c,#27a48a,#27938f,#2a8890,#2f7c91,#396591,#434e8c,#484287,#4b3a83,#4c317d,#4d2a78,#4d2170,#4d1a6a,#4d1a6a,#4d1a6a,#4c1565,#4b1060)"></i><i style="top:11.70px;height:6.45px;background:linear-gradient(90deg,#fde82b,#ebe523,#b0dc36,#7dd256,#52c370,#2aab87,#27938f,#2b8791,#2f7c91,#366c91,#3e5c8f,#454a8b,#4b3a83,#4c307d,#4d2a78,#4d2170,#4d1a6a,#4c1666,#4b1363,#4b0f5f,#4a0c5c)"></i><i style="top:17.55px;height:6.45px;background:linear-gradient(90deg,#fde82b,#fde82b,#fde82b,#e9e523,#b0dc36,#8cd64c,#6dce60,#47be76,#2bac86,#26998e,#2b8890,#327491,#3a6390,#3e5c8f,#40578e,#42518d,#46498b,#4a3a83,#4d2a78,#4d1d6c,#4b1363)"></i><i style="top:23.40px;height:6.45px;background:linear-gradient(90deg,#fde82b,#fde82b,#fde82b,#ebe523,#b0dc36,#7dd256,#52c370,#2bac86,#27938f,#2e8091,#346f91,#3b6190,#40578e,#434f8c,#46498b,#484187,#4b3a83,#4c327e,#4d2a78,#4d1e6d,#4b1363)"></i><i style="top:29.25px;height:6.45px;background:linear-gradient(90deg,#fde82b,#fde82b,#fde82b,#fbe72a,#d4e224,#a2da3f,#6dce60,#3cb97b,#259f8c,#2d8391,#386891,#40578e,#46498b,#494086,#4b3a83,#4c327e,#4d2a78,#4d2171,#4d1a6a,#4b1464,#4b1060)"></i><i style="top:35.11px;height:6.45px;background:linear-gradient(90deg,#fde82b,#fde82b,#fde82b,#fde82b,#fde82b,#fde82b,#e3e420,#a7db3c,#6bcd61,#40bb79,#2bac86,#259e8c,#279290,#2c8491,#337291,#3c5f90,#454b8b,#4b3580,#4d206f,#4b1363,#4b1363)"></i><i style="top:40.96px;height:6.45px;background:linear-gradient(90deg,#fde82b,#fde82b,#fde82b,#fde82b,#fde82b,#fde82b,#cfe126,#84d452,#4cc173,#2aab86,#26978e,#2a8990,#2d8291,#317991,#396691,#41548e,#474589,#4b3680,#4d2170,#4b1363,#4b1363)"></i><i style="top:46.81px;height:6.45px;background:linear-gradient(90deg,#d4e224,#fde82b,#fde82b,#fde82b,#fde82b,#fde82b,#aadb3a,#48bf75,#26998e,#307b91,#386891,#3e5c8f,#42518d,#474689,#4b3680,#4d2876,#4d1f6e,#4c1968,#4b1363,#4b1060,#4b1060)"></i><i style="top:52.66px;height:6.45px;background:linear-gradient(90deg,#6dce60,#d2e225,#f5e727,#f5e727,#f5e727,#ede624,#b2dd35,#63cb66,#27a58a,#2c8591,#337491,#386791,#3d5e90,#41548e,#474689,#4b3781,#4d2574,#4c1868,#4b1262,#4b1060,#4b1060)"></i><i style="top:58.51px;height:6.45px;background:linear-gradient(90deg,#d4e224,#fde82b,#fde82b,#fde82b,#fde82b,#fde82b,#fde82b,#eae523,#a1da40,#65cb64,#4bc173,#35b57f,#26a28b,#289090,#2e7e91,#366c91,#3f5a8f,#474388,#4d2675,#4b1363,#4b1363)"></i><i style="top:64.36px;height:6.45px;background:linear-gradient(90deg,#d4e224,#fde82b,#fde82b,#fde82b,#fde82b,#fde82b,#fde82b,#e9e523,#96d846,#55c56e,#38b77d,#29aa87,#259e8d,#289090,#2e7f91,#366c91,#3f5a8f,#474388,#4d2675,#4b1363,#4b1363)"></i><i style="top:70.21px;height:6.45px;background:linear-gradient(90deg,#2bac86,#64cb65,#cde127,#fde82b,#fde82b,#fde82b,#c0df2c,#62ca66,#27a58a,#2c8491,#366c91,#3e5b8f,#42518d,#474689,#4b3680,#4d2876,#4d1f6e,#4c1968,#4b1363,#4b1060,#4b1060)"></i><i style="top:76.06px;height:6.45px;background:linear-gradient(90deg,#d4e224,#fde82b,#fde82b,#fde82b,#fde82b,#fde82b,#fde82b,#ebe523,#a3da3e,#63cb66,#3db97b,#29aa88,#259d8d,#289090,#2e7f91,#366c91,#3f5a8f,#474388,#4d2675,#4b1363,#4b1363)"></i><i style="top:81.91px;height:6.45px;background:linear-gradient(90deg,#b0dc36,#c6e02a,#f0e625,#fde82b,#fde82b,#fde82b,#fde82b,#e9e523,#96d846,#55c56e,#38b77d,#29aa87,#259e8d,#289090,#2e7f91,#366c91,#3f5a8f,#474388,#4d2675,#4b1363,#4b1363)"></i><i style="top:87.76px;height:6.45px;background:linear-gradient(90deg,#b0dc36,#c6e02a,#f0e625,#fde82b,#fde82b,#fde82b,#fde82b,#e7e522,#83d452,#3fba7a,#2aab87,#259e8c,#279290,#2c8491,#337291,#3c5f90,#454b8b,#4b3580,#4d206f,#4b1363,#4b1363)"></i><i style="top:93.61px;height:6.45px;background:linear-gradient(90deg,#8cd64c,#a4da3e,#bddf2e,#dbe321,#fde82b,#fde82b,#fde82b,#e6e521,#7dd256,#36b67f,#26a28b,#27938f,#2b8791,#317991,#396691,#42538d,#4a3c84,#4d2675,#4c1867,#4b1060,#4b1060)"></i><i style="top:99.47px;height:6.45px;background:linear-gradient(90deg,#27938f,#26a28b,#3db97b,#77d15a,#b2dd35,#d4e224,#d3e224,#9cd942,#2faf83,#2c8591,#337391,#396691,#40588f,#474488,#4d2b79,#4c1867,#4b1161,#4b0f5f,#4a0d5d,#4a0c5c,#4a0c5c)"></i><i style="top:105.32px;height:6.45px;background:linear-gradient(90deg,#27938f,#26a28b,#3db97b,#77d05a,#b0dc36,#d5e224,#d6e223,#c2df2b,#4cc173,#26998e,#2a8a90,#2f7e91,#356e91,#3b6090,#41548e,#474689,#4b3680,#4d2775,#4c1968,#4b1060,#4b1060)"></i><i style="top:111.17px;height:6.45px;background:linear-gradient(90deg,#b0dc36,#b0dc36,#bbde2f,#dbe321,#fde82b,#fde82b,#fde82b,#e7e522,#85d451,#3db97b,#26a38a,#27948f,#298e90,#2c8591,#337391,#3c5f90,#454b8b,#4b3580,#4d1e6d,#4b1060,#4b1060)"></i><i style="top:117.02px;height:6.45px;background:linear-gradient(90deg,#6dce60,#7fd355,#a8db3b,#d9e322,#ece524,#f5e727,#f5e727,#e9e523,#91d749,#4ac074,#2dae85,#259e8d,#279290,#2c8491,#337291,#3c5f90,#454b8b,#4b3580,#4d1e6d,#4b1060,#4b1060)"></i><i style="top:122.87px;height:6.45px;background:linear-gradient(90deg,#6dce60,#81d354,#99d845,#b7de32,#dee420,#f5e727,#f5e727,#eae523,#9ad844,#53c46f,#2fb083,#259e8d,#279290,#2c8491,#337291,#3c5f90,#454b8b,#4b3580,#4d1e6d,#4b1060,#4b1060)"></i><i style="top:128.72px;height:6.45px;background:linear-gradient(90deg,#27938f,#26998e,#2aab87,#5fc968,#b9de30,#f5e727,#f5e727,#e8e522,#87d550,#3dba7b,#27a48a,#27938f,#2b8691,#307a91,#356e91,#3c6090,#444c8b,#4b3580,#4d1e6d,#4b1060,#4b1060)"></i><i style="top:134.57px;height:6.45px;background:linear-gradient(90deg,#259f8c,#27a689,#3bb87c,#79d159,#c6e029,#f5e727,#f5e727,#e8e522,#87d550,#3dba7b,#27a48a,#27938f,#2b8691,#317891,#396591,#41548e,#474689,#4b3680,#4d1f6e,#4b1060,#4b1060)"></i><i style="top:140.42px;height:6.45px;background:linear-gradient(90deg,#b0dc36,#b0dc36,#cde127,#f3e627,#fde82b,#fde82b,#fde82b,#fde82b,#dde320,#8cd64c,#47bf76,#27a48a,#288e90,#2d8191,#337391,#3b6090,#444e8c,#494086,#4d2f7c,#4c1868,#4b1060)"></i><i style="top:146.27px;height:6.45px;background:linear-gradient(90deg,#317891,#298c90,#259e8c,#37b67e,#74d05c,#e8e522,#f5e727,#fde82b,#f2e626,#42bc78,#307b91,#3f598f,#493f85,#4d2d7b,#4d2170,#4c1464,#4a0e5e,#4a0c5c,#4a0c5c,#4a0c5c,#4a0c5c)"></i><i style="top:152.12px;height:6.45px;background:linear-gradient(90deg,#2b8790,#26978e,#2aab87,#4fc271,#90d64a,#eee625,#fbe72a,#fde82b,#f8e729,#72cf5d,#259f8c,#2e7f91,#386791,#3e5a8f,#434e8c,#494086,#4c307c,#4d1f6e,#4b1161,#4a0c5c,#4a0c5c)"></i><i style="top:157.97px;height:6.45px;background:linear-gradient(90deg,#59c66b,#6ccd60,#84d451,#a7db3c,#cfe126,#fae729,#fde82b,#fde82b,#fde82b,#cbe127,#7dd256,#41bb79,#26a28b,#289090,#2e8091,#356d91,#3e5b8f,#474589,#4d2f7b,#4c1767,#4b1060)"></i><i style="top:163.83px;height:6.45px;background:linear-gradient(90deg,#317891,#298d90,#259d8d,#2dad85,#58c66c,#cbe127,#fde82b,#fde82b,#fde82b,#c1df2c,#5cc86a,#259f8c,#2e7e91,#376a91,#3e5c8f,#444e8c,#494086,#4c307c,#4d2170,#4b1262,#4b1060)"></i><i style="top:169.68px;height:6.45px;background:linear-gradient(90deg,#307b91,#298b90,#259e8c,#38b77d,#6fce5e,#c1df2c,#e6e521,#f3e626,#e6e521,#bcde2e,#6fce5f,#2aab87,#2a8a90,#317891,#386691,#41538d,#493f86,#4d2f7c,#4d2170,#4b1262,#4b1060)"></i><i style="top:175.53px;height:6.45px;background:linear-gradient(90deg,#59c66b,#6ccd60,#84d451,#a7db3c,#cee126,#f5e727,#fde82b,#fde82b,#fde82b,#fde82b,#dee420,#98d845,#57c66d,#2cad85,#26968f,#2c8591,#337391,#3b6190,#454b8b,#4d2978,#4d1a6a)"></i><i style="top:181.38px;height:6.45px;background:linear-gradient(90deg,#40bb79,#50c370,#67cc63,#84d452,#a9db3a,#d2e225,#e8e522,#f5e727,#f5e727,#ece524,#dfe41f,#9ad844,#57c66d,#2cad85,#26968f,#2c8591,#337391,#3b6190,#454b8b,#4d2978,#4d1a6a)"></i><i style="top:187.23px;height:6.45px;background:linear-gradient(90deg,#2dae84,#41bc79,#68cc63,#85d451,#a9db3a,#d2e225,#e8e522,#f5e727,#f5e727,#e9e523,#dce320,#84d452,#3eba7b,#25a08c,#2a8b90,#317991,#386791,#41548e,#493e85,#4d2372,#4d1a6a)"></i><i style="top:193.08px;height:6.45px;background:linear-gradient(90deg,#6dce60,#6dce60,#84d451,#a7db3c,#cee126,#f4e727,#fde82b,#fde82b,#fde82b,#fde82b,#eae523,#9ed941,#57c56d,#2cad85,#26968f,#2c8591,#337391,#3b6190,#454b8b,#4d2978,#4d1a6a)"></i><i style="top:198.93px;height:6.45px;background:linear-gradient(90deg,#2a8a90,#26978f,#29aa88,#42bc78,#6bcd61,#9ed941,#cee126,#efe625,#fce82a,#fbe72a,#efe625,#b8de31,#73d05c,#3fba7a,#26a18b,#2a8990,#337391,#3b6190,#454b8b,#4d2978,#4d1a6a)"></i><i style="top:204.78px;height:6.45px;background:linear-gradient(90deg,#396591,#2d8291,#279290,#26a38b,#3ab87d,#70ce5e,#addc38,#dee420,#ebe523,#eee624,#e1e41f,#9dd942,#57c66d,#2cad85,#26978f,#2b8691,#337291,#3f598f,#493e85,#4d2372,#4d1a6a)"></i><i style="top:210.63px;height:6.45px;background:linear-gradient(90deg,#259f8c,#26a28b,#37b67e,#5bc76a,#8ad54e,#c3e02b,#efe625,#fde82b,#fde82b,#fde82b,#fde82b,#c0df2c,#73cf5c,#3db97b,#26a28b,#279190,#2e7f91,#396691,#454b8b,#4d2977,#4d1a6a)"></i><i style="top:216.48px;height:6.45px;background:linear-gradient(90deg,#4d2675,#46498b,#347091,#288e90,#2cad85,#66cb64,#b1dd36,#f1e626,#fde82b,#fde82b,#fde82b,#d9e322,#94d748,#57c56d,#2eaf84,#259d8d,#2a8a90,#337391,#3f598f,#4b3982,#4d2a78)"></i><i style="top:222.33px;height:6.45px;background:linear-gradient(90deg,#4a0959 0,#4a0959 73.86%,#fff 73.86%,#fff 100%)"></i><i style="top:228.18px;height:6.45px;background:linear-gradient(90deg,#4b1060,#4b1161,#4b1363,#4c1564,#4d1a6a,#4d2776,#4b3a83,#444e8c,#3a6390,#307a91,#27938f,#31b282,#6dce60,#b9de30,#f5e727,#fde82b,#fde82b,#f1e626,#b0dc36,#5ac76b,#2bac86)"></i><i style="top:234.04px;height:6.45px;background:linear-gradient(90deg,#4b1060,#4b1161,#4b1363,#4c1564,#4d1a6a,#4d2877,#4b3a83,#46478a,#40578e,#376a91,#2d8191,#259a8e,#3ab87c,#81d354,#d4e224,#fde82b,#fde82b,#fde82b,#f5e727,#c0df2c,#8cd64c)"></i><i style="top:239.89px;height:6.45px;background:linear-gradient(90deg,#4b1060,#4b1464,#4d1a6a,#4d206f,#4d2a78,#484086,#40578e,#3a6490,#346f91,#307a91,#2b8890,#259d8d,#3ab87c,#6fce5e,#b0dc36,#ede624,#fde82b,#fde82b,#fde82b,#fde82b,#f5e727)"></i><i style="top:245.74px;height:6.45px;background:linear-gradient(90deg,#4a0c5c,#4a0d5d,#4b1060,#4b1363,#4d1a6a,#4d2877,#4b3a83,#46488a,#40578e,#3a6390,#327491,#288f90,#2bac86,#54c56e,#8cd64c,#c9e028,#f5e727,#fde82b,#fde82b,#fde82b,#fde82b)"></i><i style="top:251.59px;height:6.45px;background:linear-gradient(90deg,#4a0c5c,#4a0c5c,#4a0c5c,#4a0d5d,#4b1060,#4c1464,#4d1a6a,#4d206f,#4d2a78,#493e85,#40578e,#327491,#27938f,#32b381,#6dce60,#b9de30,#f5e727,#fde82b,#fde82b,#fde82b,#fde82b)"></i><i style="top:257.44px;height:6.45px;background:linear-gradient(90deg,#3a6390,#3a6390,#3a6390,#3d5e90,#40578e,#434f8c,#46498b,#46498b,#46498b,#434f8c,#3e5c8f,#327691,#27938f,#2bac86,#52c370,#91d74a,#d4e224,#fde82a,#fde82b,#fde82b,#fde82b)"></i><i style="top:263.29px;height:6.45px;background:linear-gradient(90deg,#4a0c5c,#4a0c5c,#4a0c5c,#4a0e5e,#4b1060,#4b1060,#4b1363,#4d1d6c,#4d2a78,#4b3a83,#434e8c,#376a91,#2b8890,#259f8c,#3ab87c,#6fce5e,#b0dc36,#ede624,#fde82b,#fde82b,#fde82b)"></i><i style="top:269.14px;height:6.45px;background:linear-gradient(90deg,#4a0c5c,#4a0c5c,#4a0c5c,#4a0d5d,#4b1060,#4b1363,#4d1a6a,#4d2877,#4b3a83,#46498b,#3e5c8f,#317791,#27938f,#2cad85,#52c370,#7fd355,#b0dc36,#d9e322,#f5e727,#fde82b,#fde82b)"></i><i style="top:274.99px;height:6.45px;background:linear-gradient(90deg,#4a0c5c,#4a0d5d,#4b1060,#4b1363,#4d1a6a,#4d2877,#4b3a83,#46488a,#40578e,#3a6491,#327491,#2a8990,#259f8c,#3bb87c,#6dce60,#a5da3d,#d4e224,#e9e523,#f5e727,#fde82b,#fde82b)"></i><i style="top:280.84px;height:6.45px;background:linear-gradient(90deg,#4a0c5c,#4a0c5c,#4a0c5c,#4a0c5c,#4a0c5c,#4b0f5f,#4b1363,#4c1565,#4d1a6a,#4d2170,#4c307c,#43508d,#346f91,#2a8890,#259f8c,#3cb97c,#6dce60,#a2da3f,#d4e224,#fbe72a,#fde82b)"></i><i style="top:286.69px;height:6.45px;background:linear-gradient(90deg,#4a0c5c,#4a0e5e,#4b1060,#4b1060,#4b1363,#4d1d6c,#4d2a78,#4b3982,#46498b,#3f588f,#386891,#2f7d91,#27938f,#2bac86,#52c370,#7fd355,#b0dc36,#d9e322,#f5e727,#fde82b,#fde82b)"></i><i style="top:292.54px;height:6.45px;background:linear-gradient(90deg,#4a0c5c,#4a0c5c,#4a0c5c,#4a0d5d,#4b1060,#4b1363,#4d1a6a,#4d2877,#4b3a83,#454a8b,#3e5c8f,#347191,#2b8890,#259f8c,#3ab87c,#71cf5d,#b0dc36,#dbe321,#f5e727,#fde82b,#fde82b)"></i><i style="top:298.40px;height:6.45px;background:linear-gradient(90deg,#4a0c5c,#4a0c5c,#4a0c5c,#4a0c5c,#4a0c5c,#4a0d5d,#4b1060,#4b1463,#4d1a6a,#4d2271,#4c307c,#46498b,#3a6390,#2f7c91,#27938f,#28a889,#41bc79,#6fce5f,#a4da3e,#dae321,#fde82b)"></i><i style="top:304.25px;height:6.45px;background:linear-gradient(90deg,#4a0c5c,#4a0c5c,#4a0c5c,#4a0d5d,#4b1060,#4c1464,#4d1a6a,#4d2070,#4d2a78,#4b3982,#46498b,#40568e,#3a6390,#327491,#2b8890,#259b8d,#30b182,#62ca66,#a4da3e,#dce320,#fde82b)"></i><i style="top:310.10px;height:6.45px;background:linear-gradient(90deg,#4a0c5c,#4a0c5c,#4a0c5c,#4a0c5c,#4a0c5c,#4b0e5e,#4b1363,#4d1e6d,#4d2a78,#4c337e,#494086,#3f588f,#346f91,#2d8391,#27938f,#26a18b,#30b182,#52c370,#83d452,#cae128,#fde82b)"></i><i style="top:315.95px;height:6.45px;background:linear-gradient(90deg,#4a0c5c,#4a0c5c,#4a0c5c,#4a0d5d,#4b1060,#4b1363,#4d1a6a,#4d2877,#4b3a83,#454a8b,#3e5c8f,#347191,#2b8890,#259f8c,#35b57f,#55c56e,#73cf5c,#89d54e,#a4da3e,#d6e223,#fde82b)"></i><i style="top:321.80px;height:6.45px;background:linear-gradient(90deg,#4a0c5c,#4a0c5c,#4a0c5c,#4a0c5c,#4a0c5c,#4a0d5d,#4b1060,#4b1262,#4d1a6a,#4d2a78,#494086,#3f598f,#346f91,#2c8491,#26988e,#29aa87,#41bc79,#61ca67,#83d452,#b7de32,#e0e41f)"></i><i style="top:327.65px;height:6.45px;background:linear-gradient(90deg,#4a0c5c,#4a0c5c,#4a0c5c,#4a0c5c,#4a0c5c,#4a0d5d,#4b1060,#4c1665,#4d206f,#4c337e,#46498b,#3d5d8f,#346f91,#2d8191,#27938f,#28a889,#41bc79,#60c967,#83d452,#c8e029,#fde82b)"></i><i style="top:333.50px;height:6.45px;background:linear-gradient(90deg,#4b3a83,#4d2574,#4b1060,#4a0c5c,#4a0c5c,#4a0c5c,#4b1060,#4d1b6b,#4d2a78,#4b3982,#46498b,#3d5c8f,#346f91,#2d8291,#27938f,#26a18b,#30b182,#52c370,#83d452,#cae128,#fde82b)"></i><i style="top:339.35px;height:6.45px;background:linear-gradient(90deg,#4a0c5c,#4a0c5c,#4a0c5c,#4a0c5c,#4a0c5c,#4a0d5d,#4b1060,#4b1463,#4d1a6a,#4d2271,#4c307c,#454a8b,#3a6390,#327791,#2b8890,#26968f,#27a58a,#3bb87c,#68cc63,#b9de30,#fde82b)"></i><i style="top:345.20px;height:6.45px;background:linear-gradient(90deg,#4a0c5c,#4a0c5c,#4a0c5c,#4a0d5d,#4b1060,#4b1363,#4d1a6a,#4d2877,#4b3a83,#46498b,#40578e,#3a6390,#346f91,#2f7c91,#2b8890,#289090,#269a8e,#2bac86,#4fc271,#97d845,#e0e41f)"></i><i style="top:351.05px;height:6.45px;background:linear-gradient(90deg,#4a0c5c,#4a0c5c,#4a0c5c,#4a0d5d,#4b1060,#4b1363,#4d1a6a,#4d2877,#4b3a83,#46498b,#40578e,#3a6290,#346f91,#2d8191,#27938f,#28a889,#41bc79,#60c967,#83d452,#c8e029,#fde82b)"></i><i style="top:356.90px;height:6.45px;background:linear-gradient(90deg,#4a0c5c,#4a0c5c,#4a0c5c,#4a0d5e,#4b1060,#4b1262,#4c1766,#4d1f6e,#4d2a78,#4b3882,#46498b,#3d5c8f,#346f91,#2d8191,#27938f,#28a889,#41bc79,#60c967,#83d452,#c8e029,#fde82b)"></i><i style="top:362.76px;height:6.45px;background:linear-gradient(90deg,#4a0c5c,#4a0c5c,#4a0c5c,#4a0c5c,#4a0c5c,#4b0f5f,#4b1363,#4c1968,#4d206f,#4d2b79,#4b3a83,#434f8c,#3a6390,#327591,#2b8890,#259b8d,#30b182,#53c46f,#83d452,#cae128,#fde82b)"></i><i style="top:368.61px;height:6.45px;background:linear-gradient(90deg,#4a0c5c,#4a0c5c,#4a0c5c,#4a0c5c,#4a0c5c,#4a0c5c,#4a0c5c,#4a0d5d,#4b1060,#4b1363,#4d1a6a,#4d2675,#4b3a83,#40568e,#346f91,#2c8591,#269a8e,#33b380,#68cc63,#bbde2f,#fde82b)"></i><i style="top:374.46px;height:6.45px;background:linear-gradient(90deg,#4a0c5c,#4a0c5c,#4a0c5c,#4a0c5c,#4a0c5c,#4a0c5c,#4a0c5c,#4a0d5d,#4b1060,#4b1262,#4d1a6a,#4c2f7c,#46498b,#3d5d8f,#346f91,#2c8591,#269a8e,#2cad85,#4fc271,#a8db3b,#fde82b)"></i><i style="top:380.31px;height:6.45px;background:linear-gradient(90deg,#4a0c5c,#4a0c5c,#4a0c5c,#4a0c5c,#4a0c5c,#4a0c5c,#4a0c5c,#4a0d5d,#4b1060,#4b1363,#4d1a6a,#4d2776,#4b3a83,#434e8c,#3a6390,#317991,#288f90,#26a18b,#39b77d,#87d550,#e0e41f)"></i><i style="top:386.16px;height:6.45px;background:linear-gradient(90deg,#4a0c5c,#4a0c5c,#4a0c5c,#4a0c5c,#4a0c5c,#4a0d5e,#4b1060,#4b1363,#4c1766,#4d1b6b,#4d206f,#4d2372,#4d2a78,#494086,#40578e,#396691,#317791,#2a8990,#26a08c,#5ec968,#bfdf2d)"></i><i style="top:392.01px;height:6.45px;background:linear-gradient(90deg,#4a0c5c,#4a0c5c,#4a0c5c,#4a0d5d,#4b1060,#4b1363,#4d1a6a,#4d2776,#4b3a83,#434f8c,#3a6390,#327691,#2b8890,#26998e,#29aa88,#3cb97b,#59c66c,#7ad258,#a4da3e,#d8e322,#fde82b)"></i><i style="top:397.86px;height:6.45px;background:linear-gradient(90deg,#4a0c5c,#4a0c5c,#4a0c5c,#4a0d5e,#4b1060,#4b1262,#4c1766,#4d1f6e,#4d2a78,#4b3882,#46498b,#3d5c8f,#346f91,#2d8191,#27938f,#28a889,#41bc79,#60c967,#83d452,#c8e029,#fde82b)"></i><i style="top:403.71px;height:6.45px;background:linear-gradient(90deg,#4a0c5c,#4a0c5c,#4a0c5c,#4a0d5e,#4b1060,#4b1262,#4c1766,#4d1f6e,#4d2a78,#4b3781,#46498b,#3a6290,#2f7c91,#298e90,#259e8d,#33b380,#59c66c,#7cd257,#a4da3e,#d8e322,#fde82b)"></i><i style="top:409.56px;height:6.45px;background:linear-gradient(90deg,#4a0c5c,#4a0c5c,#4a0c5c,#4a0c5c,#4a0c5c,#4a0d5d,#4b1060,#4b1463,#4d1a6a,#4d2271,#4c307c,#46498b,#3a6390,#2f7c91,#27938f,#28a889,#41bc79,#6fce5f,#a4da3e,#dae321,#fde82b)"></i><i style="top:415.41px;height:6.45px;background:linear-gradient(90deg,#40578e,#454a8b,#4b3a83,#4d2877,#4d1a6a,#4b1363,#4b1060,#4b1060,#4b1060,#4b1262,#4d1a6a,#4c2f7c,#46498b,#3d5d8f,#346f91,#2e7f91,#288f90,#26a08c,#39b77d,#87d550,#e0e41f)"></i><i style="top:421.26px;height:6.45px;background:linear-gradient(90deg,#4a0c5c,#4a0c5c,#4a0c5c,#4b0e5e,#4b1363,#4d1d6d,#4d2a78,#4b3982,#46498b,#40568e,#3a6390,#327591,#2b8890,#26998e,#29aa88,#3cb97b,#59c66c,#7ad258,#a4da3e,#d8e322,#fde82b)"></i><i style="top:427.12px;height:6.45px;background:linear-gradient(90deg,#4a0c5c,#4a0d5d,#4b1060,#4b1363,#4d1a6a,#4d2877,#4b3a83,#46498b,#40578e,#3a6390,#346f91,#307b91,#2b8890,#26988e,#29aa88,#3cb97b,#59c66c,#7ad258,#a4da3e,#d8e322,#fde82b)"></i><i style="top:432.97px;height:6.45px;background:linear-gradient(90deg,#4a0c5c,#4a0c5c,#4a0c5c,#4a0d5e,#4b1060,#4b1262,#4c1766,#4d1f6e,#4d2a78,#4b3882,#46498b,#3d5c8f,#346f91,#2d8191,#27938f,#28a889,#41bc79,#60c967,#83d452,#c8e029,#fde82b)"></i><i style="top:438.82px;height:6.45px;background:linear-gradient(90deg,#4a0c5c,#4a0c5c,#4a0c5c,#4a0c5c,#4a0c5c,#4b0f5f,#4b1363,#4c1968,#4d206f,#4d2b79,#4b3a83,#434f8c,#3a6390,#327591,#2b8890,#259b8d,#30b182,#53c46f,#83d452,#cae128,#fde82b)"></i><i style="top:444.67px;height:6.45px;background:linear-gradient(90deg,#4a0c5c,#4a0c5c,#4a0c5c,#4a0c5c,#4a0c5c,#4b0f5f,#4b1363,#4c1968,#4d206f,#4d2c7a,#4b3a83,#46478a,#40578e,#376991,#2f7c91,#2a8b90,#269a8e,#2cad85,#4fc271,#97d845,#e0e41f)"></i><i style="top:450.52px;height:6.45px;background:linear-gradient(90deg,#4a0c5c,#4a0c5c,#4a0c5c,#4a0c5c,#4a0c5c,#4b0f5f,#4b1363,#4c1968,#4d206f,#4d2b79,#4b3a83,#434f8c,#3a6390,#327591,#2b8890,#259b8d,#30b182,#53c46f,#83d452,#cae128,#fde82b)"></i><i style="top:456.37px;height:6.45px;background:linear-gradient(90deg,#4a0c5c,#4a0c5c,#4a0c5c,#4a0c5c,#4a0c5c,#4a0d5d,#4b1060,#4c1464,#4d1a6a,#4d1f6e,#4d2a78,#474689,#3a6390,#2f7c91,#27938f,#28a888,#41bc79,#60c967,#83d452,#c8e029,#fde82b)"></i><i style="top:462.22px;height:6.45px;background:linear-gradient(90deg,#4a0c5c,#4a0c5c,#4a0c5c,#4a0c5c,#4a0c5c,#4a0c5c,#4a0c5c,#4a0e5e,#4b1060,#4b1060,#4b1060,#4b1363,#4d1a6a,#4d2876,#4b3a83,#454c8b,#3c5e90,#347091,#2a8a90,#3cb97b,#9dd942)"></i><i style="top:468.07px;height:6.45px;background:linear-gradient(90deg,#4a0c5c,#4a0c5c,#4a0c5c,#4b0e5e,#4b1363,#4d1d6d,#4d2a78,#4b3982,#46498b,#40578e,#3a6390,#356f91,#2f7c91,#298d90,#259e8d,#2dad85,#41bc79,#5ec968,#83d452,#c8e029,#fde82b)"></i><i style="top:473.92px;height:6.45px;background:linear-gradient(90deg,#4a0c5c,#4a0c5c,#4a0c5c,#4a0d5e,#4b1060,#4b1262,#4c1766,#4d1c6c,#4d2372,#4d2c7a,#4b3a83,#434e8c,#3a6390,#327591,#2b8890,#259b8d,#30b182,#53c46f,#83d452,#cae128,#fde82b)"></i><i style="top:479.77px;height:6.45px;background:linear-gradient(90deg,#4a0c5c,#4a0c5c,#4a0c5c,#4a0c5c,#4a0c5c,#4b0f5f,#4b1363,#4c1868,#4d1d6d,#4d2170,#4d2a78,#493f86,#40578e,#376991,#2f7c91,#289190,#27a58a,#3cb97b,#68cc63,#b9de30,#fde82b)"></i><i style="top:485.62px;height:6.45px;background:linear-gradient(90deg,#4a0c5c,#4b0e5e,#4b1363,#4d1d6d,#4d2a78,#4a3a83,#46498b,#42518d,#40578e,#3d5c8f,#3a6390,#356e91,#2f7c91,#298d90,#259e8d,#2dad85,#41bc79,#5ec968,#83d452,#c8e029,#fde82b)"></i><i style="top:491.48px;height:6.45px;background:linear-gradient(90deg,#4a0c5c,#4b0e5e,#4b1363,#4d1d6d,#4d2a78,#4a3a83,#46498b,#42518d,#40578e,#3e5c8f,#3a6390,#327491,#2b8890,#26998e,#29aa88,#3cb97b,#59c66c,#7ad258,#a4da3e,#d8e322,#fde82b)"></i><i style="top:497.33px;height:6.45px;background:linear-gradient(90deg,#4a0c5c,#4a0c5c,#4a0c5c,#4a0c5c,#4a0c5c,#4a0e5e,#4b1060,#4b1161,#4b1363,#4c1564,#4d1a6a,#4d2776,#4b3a83,#434e8c,#3a6390,#317891,#288f90,#28a789,#4fc271,#aadb3a,#fde82b)"></i><i style="top:503.18px;height:6.45px;background:linear-gradient(90deg,#4a0c5c,#4a0c5c,#4a0c5c,#4a0c5c,#4a0c5c,#4a0d5d,#4b1060,#4c1564,#4d1a6a,#4d1b6b,#4d206f,#4c327e,#46498b,#3d5c8f,#346f91,#2c8591,#269a8e,#2dad85,#4fc271,#97d845,#e0e41f)"></i><i style="top:509.03px;height:6.45px;background:linear-gradient(90deg,#4a0c5c,#4a0c5c,#4a0c5c,#4a0d5e,#4b1060,#4b1262,#4c1766,#4d1c6c,#4d2372,#4d2c7a,#4b3a83,#434e8c,#3a6390,#327591,#2b8890,#259b8d,#30b182,#53c46f,#83d452,#cae128,#fde82b)"></i><i style="top:514.88px;height:6.45px;background:linear-gradient(90deg,#4a0c5c,#4a0c5c,#4a0c5c,#4a0d5e,#4b1060,#4b1262,#4c1766,#4d1c6c,#4d2372,#4d2c7a,#4b3a83,#444e8c,#3a6390,#307c91,#27938f,#28a888,#41bc79,#60c967,#83d452,#c8e029,#fde82b)"></i><i style="top:520.73px;height:6.45px;background:linear-gradient(90deg,#4a0c5c,#4a0c5c,#4a0c5c,#4a0c5c,#4a0c5c,#4b0f5f,#4b1363,#4c1767,#4d1d6d,#4d2473,#4c307c,#454a8b,#3a6390,#327691,#2b8890,#259b8d,#30b182,#53c46f,#83d452,#cae128,#fde82b)"></i><i style="top:526.58px;height:6.45px;background:linear-gradient(90deg,#2f7c91,#2f7c91,#2f7c91,#317891,#346f91,#3d5e90,#46498b,#4b3982,#4d2a78,#4d1b6a,#4b1060,#4b1060,#4d1a6a,#4d2e7b,#46498b,#396591,#2d8391,#259c8d,#39b77d,#89d54e,#e0e41f)"></i><i style="top:532.43px;height:6.45px;background:linear-gradient(90deg,#4a0c5c,#4a0c5c,#4a0c5c,#4a0c5c,#4a0c5c,#4a0d5d,#4b1060,#4c1464,#4d1a6a,#4d206f,#4d2a78,#493f85,#40578e,#346f91,#2b8890,#259c8d,#30b182,#53c46f,#83d452,#cae128,#fde82b)"></i><i style="top:538.28px;height:6.45px;background:linear-gradient(90deg,#4d2a78,#4d1f6e,#4b1363,#4b1060,#4b1060,#4b1262,#4c1766,#4d1c6c,#4d2372,#4d2c7a,#4b3a83,#434e8c,#3a6390,#327591,#2b8890,#259b8d,#30b182,#53c46f,#83d452,#cae128,#fde82b)"></i><i style="top:544.13px;height:6.45px;background:linear-gradient(90deg,#4a0c5c,#4a0c5c,#4a0c5c,#4a0d5e,#4b1060,#4b1262,#4c1766,#4d1c6c,#4d2372,#4d2c7a,#4b3a83,#444e8c,#3a6390,#307c91,#27938f,#28a888,#41bc79,#60c967,#83d452,#c8e029,#fde82b)"></i><i style="top:549.98px;height:6.45px;background:linear-gradient(90deg,#4a0c5c,#4a0c5c,#4a0c5c,#4a0d5e,#4b1060,#4b1262,#4c1766,#4d1c6c,#4d2372,#4d2c7a,#4b3a83,#434e8c,#3a6390,#327591,#2b8890,#259b8d,#30b182,#53c46f,#83d452,#cae128,#fde82b)"></i><i style="top:555.83px;height:6.45px;background:linear-gradient(90deg,#4d2a78,#4d1f6e,#4b1363,#4b1060,#4b1060,#4b1262,#4c1766,#4d1c6c,#4d2372,#4d2d7b,#4b3a83,#46478a,#40578e,#386891,#2f7c91,#289190,#27a58a,#3cb97b,#68cc63,#b9de30,#fde82b)"></i><i style="top:561.69px;height:6.45px;background:linear-gradient(90deg,#4a0c5c,#4a0c5c,#4a0c5c,#4a0d5e,#4b1060,#4b1262,#4c1766,#4d1d6c,#4d2372,#4d2877,#4c307c,#484187,#40578e,#356f91,#2b8890,#259c8d,#30b182,#53c46f,#83d452,#cae128,#fde82b)"></i><i style="top:567.54px;height:6.45px;background:linear-gradient(90deg,#4a0c5c,#4a0c5c,#4a0c5c,#4a0d5e,#4b1060,#4b1262,#4c1766,#4d1d6c,#4d2372,#4d2977,#4c307c,#4b3a83,#46498b,#3b6190,#2f7c91,#279190,#27a58a,#3cb97b,#68cc63,#b9de30,#fde82b)"></i><i style="top:573.39px;height:6.45px;background:linear-gradient(90deg,#4a0c5c,#4a0c5c,#4a0c5c,#4a0d5e,#4b1060,#4b1262,#4c1766,#4d1c6c,#4d2372,#4d2c7a,#4b3a83,#434e8c,#3a6390,#327591,#2b8890,#259b8d,#30b182,#53c46f,#83d452,#cae128,#fde82b)"></i><i style="top:579.24px;height:6.45px;background:linear-gradient(90deg,#4a0c5c,#4a0c5c,#4a0c5c,#4a0c5c,#4a0c5c,#4b0f5f,#4b1363,#4c1767,#4d1d6d,#4d2473,#4c307c,#454a8b,#3a6390,#327691,#2b8890,#259b8d,#30b182,#53c46f,#83d452,#cae128,#fde82b)"></i><i style="top:585.09px;height:6.45px;background:linear-gradient(90deg,#4a0c5c,#4a0c5c,#4a0c5c,#4a0d5e,#4b1060,#4b1262,#4c1766,#4d1c6b,#4d2372,#4d2f7c,#494086,#3f598f,#346f91,#2d8291,#27938f,#28a889,#41bc79,#60c967,#83d452,#c8e029,#fde82b)"></i><i style="top:590.94px;height:6.45px;background:linear-gradient(90deg,#4a0c5c,#4a0d5d,#4b1363,#4d2574,#4b3a83,#46498b,#40578e,#3a6390,#346f91,#2f7d91,#298c90,#25a08c,#35b57f,#59c76b,#7dd256,#9bd943,#b1dd35,#bbde2f,#c6e02a,#e4e421,#fde82b)"></i><i style="top:596.79px;height:6.45px;background:linear-gradient(90deg,#4a0c5c,#4a0c5c,#4a0c5c,#4a0d5d,#4b1060,#4c1464,#4d1a6a,#4d206f,#4d2a78,#4a3b83,#434e8c,#3a6491,#2f7c91,#27948f,#29aa88,#3db97b,#59c66c,#7ad258,#a4da3e,#d8e322,#fde82b)"></i><i style="top:602.64px;height:6.45px;background:linear-gradient(90deg,#4a0c5c,#4a0c5c,#4a0c5c,#4a0c5c,#4a0c5c,#4a0d5d,#4b1060,#4c1464,#4d1a6a,#4d206f,#4d2a78,#494086,#40578e,#376991,#2f7c91,#2a8a90,#269a8e,#32b381,#68cc63,#bbde2f,#fde82b)"></i><i style="top:608.49px;height:6.45px;background:linear-gradient(90deg,#4a0c5c,#4a0c5c,#4a0c5c,#4a0d5e,#4b1060,#4b1262,#4c1766,#4d1c6b,#4d2372,#4d2f7c,#494086,#40588f,#346f91,#2b8890,#259e8d,#34b480,#59c66c,#7cd257,#a4da3e,#d8e322,#fde82b)"></i><i style="top:614.34px;height:6.45px;background:linear-gradient(90deg,#40578e,#40578e,#40578e,#42518d,#46498b,#484086,#4b3a83,#4b3a83,#4b3a83,#484187,#434e8c,#3a6390,#2f7c91,#27948f,#29aa88,#3db97b,#59c66c,#7ad258,#a4da3e,#d8e322,#fde82b)"></i><i style="top:620.19px;height:6.45px;background:linear-gradient(90deg,#4a0c5c,#4a0d5d,#4b1060,#4b1363,#4d1a6a,#4d2877,#4b3a83,#454a8b,#40578e,#3d5c8f,#3a6390,#327491,#2b8890,#26998e,#29aa88,#3cb97b,#59c66c,#7ad258,#a4da3e,#d8e322,#fde82b)"></i><i style="top:626.05px;height:6.45px;background:linear-gradient(90deg,#4a0c5c,#4a0c5c,#4a0c5c,#4a0d5d,#4b1060,#4c1464,#4d1a6a,#4d206f,#4d2a78,#4a3c84,#434e8c,#3c5f90,#346f91,#2d8191,#27938f,#28a889,#41bc79,#60c967,#83d452,#c8e029,#fde82b)"></i><i style="top:631.90px;height:6.45px;background:linear-gradient(90deg,#4a0c5c,#4a0c5c,#4a0c5c,#4a0c5c,#4a0c5c,#4a0c5c,#4a0c5c,#4a0d5d,#4b1060,#4c1565,#4d1a6a,#4d1a6a,#4d1a6a,#4d2675,#4b3a83,#42538d,#376a91,#2f7e91,#26958f,#52c370,#bfdf2d)"></i><i style="top:637.75px;height:6.45px;background:linear-gradient(90deg,#4a0c5c,#4a0d5d,#4b1060,#4b1363,#4d1a6a,#4d2877,#4b3a83,#46488a,#40578e,#3a6491,#327491,#2a8a90,#259e8d,#30b083,#4ac074,#6dce60,#90d64a,#acdc38,#c6e02a,#e6e521,#fde82b)"></i><i style="top:643.60px;height:6.45px;background:linear-gradient(90deg,#4b3a83,#4b3a83,#4b3a83,#4d2a79,#4d1a6a,#4b1262,#4b1060,#4b1060,#4b1363,#4d1d6c,#4d2a78,#4b3882,#46498b,#3d5d8f,#346f91,#2e7f91,#288f90,#26a18b,#39b77d,#78d159,#bfdf2d)"></i><i style="top:649.45px;height:6.45px;background:linear-gradient(90deg,#4a0c5c,#4a0c5c,#4a0c5c,#4a0c5c,#4a0c5c,#4a0c5c,#4a0c5c,#4a0d5d,#4b1060,#4b1363,#4d1a6a,#4d2776,#4b3a83,#434f8c,#3a6390,#337391,#2d8391,#26968f,#2bac86,#5ec968,#9dd942)"></i><b class="gr" style="background-size:3px 5.851px"></b></div>
<svg width="2168" height="2422" viewBox="0 0 2168 2422">
<text transform="translate(-0.5 45.8) scale(1.1 0.97)" font-size="44" font-weight="bold" fill="#231815" stroke="#231815" stroke-width="0.7">a</text>
<text transform="translate(1096.6 45.8) scale(1.1 0.97)" font-size="44" font-weight="bold" fill="#231815" stroke="#231815" stroke-width="0.7">b</text>
<text transform="translate(0.0 884.8) scale(1.1 0.97)" font-size="44" font-weight="bold" fill="#231815" stroke="#231815" stroke-width="0.7">c</text>
<text transform="translate(1102.0 884.0) scale(1.1 0.97)" font-size="44" font-weight="bold" fill="#231815" stroke="#231815" stroke-width="0.7">d</text>
<text transform="translate(0.3 1776.5) scale(1.1 0.97)" font-size="44" font-weight="bold" fill="#231815" stroke="#231815" stroke-width="0.7">e</text>
<g>
<line x1="639.6" y1="79.6" x2="639.6" y2="661.6" stroke="#ececec" stroke-width="1.00"/>
<line x1="682.7" y1="79.6" x2="682.7" y2="661.6" stroke="#ececec" stroke-width="1.00"/>
<line x1="725.7" y1="79.6" x2="725.7" y2="661.6" stroke="#ececec" stroke-width="1.00"/>
<line x1="768.8" y1="79.6" x2="768.8" y2="661.6" stroke="#ececec" stroke-width="1.00"/>
<line x1="811.9" y1="79.6" x2="811.9" y2="661.6" stroke="#ececec" stroke-width="1.00"/>
<line x1="855.0" y1="79.6" x2="855.0" y2="661.6" stroke="#ececec" stroke-width="1.00"/>
<line x1="898.0" y1="79.6" x2="898.0" y2="661.6" stroke="#ececec" stroke-width="1.00"/>
<line x1="941.1" y1="79.6" x2="941.1" y2="661.6" stroke="#ececec" stroke-width="1.00"/>
<line x1="615.0" y1="100.8" x2="966.3" y2="100.8" stroke="#ececec" stroke-width="1.00"/>
<line x1="615.0" y1="136.9" x2="966.3" y2="136.9" stroke="#ececec" stroke-width="1.00"/>
<line x1="615.0" y1="173.0" x2="966.3" y2="173.0" stroke="#ececec" stroke-width="1.00"/>
<line x1="615.0" y1="209.1" x2="966.3" y2="209.1" stroke="#ececec" stroke-width="1.00"/>
<line x1="615.0" y1="245.2" x2="966.3" y2="245.2" stroke="#ececec" stroke-width="1.00"/>
<line x1="615.0" y1="281.3" x2="966.3" y2="281.3" stroke="#ececec" stroke-width="1.00"/>
<line x1="615.0" y1="317.4" x2="966.3" y2="317.4" stroke="#ececec" stroke-width="1.00"/>
<line x1="615.0" y1="353.5" x2="966.3" y2="353.5" stroke="#ececec" stroke-width="1.00"/>
<line x1="615.0" y1="389.6" x2="966.3" y2="389.6" stroke="#ececec" stroke-width="1.00"/>
<line x1="615.0" y1="425.7" x2="966.3" y2="425.7" stroke="#ececec" stroke-width="1.00"/>
<line x1="615.0" y1="461.8" x2="966.3" y2="461.8" stroke="#ececec" stroke-width="1.00"/>
<line x1="615.0" y1="497.9" x2="966.3" y2="497.9" stroke="#ececec" stroke-width="1.00"/>
<line x1="615.0" y1="534.0" x2="966.3" y2="534.0" stroke="#ececec" stroke-width="1.00"/>
<line x1="615.0" y1="570.1" x2="966.3" y2="570.1" stroke="#ececec" stroke-width="1.00"/>
<line x1="615.0" y1="606.2" x2="966.3" y2="606.2" stroke="#ececec" stroke-width="1.00"/>
<line x1="615.0" y1="642.3" x2="966.3" y2="642.3" stroke="#ececec" stroke-width="1.00"/>
<circle cx="639.6" cy="100.8" r="13.6" fill="#9c87c9"/>
<circle cx="682.7" cy="100.8" r="13.6" fill="#b9b9b9"/>
<circle cx="725.7" cy="100.8" r="11.9" fill="#f9c5d3"/>
<circle cx="768.8" cy="100.8" r="13.6" fill="#bdb658"/>
<circle cx="811.9" cy="100.8" r="9.6" fill="#79a7e1"/>
<circle cx="941.1" cy="100.8" r="12.4" fill="#73c8b9"/>
<circle cx="639.6" cy="136.9" r="8.0" fill="#9c87c9"/>
<circle cx="682.7" cy="136.9" r="9.8" fill="#b9b9b9"/>
<circle cx="768.8" cy="136.9" r="14.2" fill="#bdb658"/>
<circle cx="811.9" cy="136.9" r="8.0" fill="#79a7e1"/>
<circle cx="682.7" cy="173.0" r="9.9" fill="#b9b9b9"/>
<circle cx="811.9" cy="173.0" r="8.4" fill="#79a7e1"/>
<circle cx="725.7" cy="209.1" r="15.5" fill="#f9c5d3"/>
<circle cx="898.0" cy="209.1" r="10.8" fill="#f2a84f"/>
<circle cx="725.7" cy="245.2" r="14.3" fill="#f9c5d3"/>
<circle cx="725.7" cy="281.3" r="8.9" fill="#f9c5d3"/>
<circle cx="811.9" cy="281.3" r="3.5" fill="#79a7e1"/>
<circle cx="768.8" cy="317.4" r="11.1" fill="#bdb658"/>
<circle cx="768.8" cy="353.5" r="8.7" fill="#bdb658"/>
<circle cx="855.0" cy="353.5" r="11.7" fill="#e85e6d"/>
<circle cx="855.0" cy="389.6" r="9.3" fill="#e85e6d"/>
<circle cx="855.0" cy="425.7" r="8.7" fill="#e85e6d"/>
<circle cx="898.0" cy="461.8" r="14.7" fill="#f2a84f"/>
<circle cx="898.0" cy="497.9" r="8.4" fill="#f2a84f"/>
<circle cx="941.1" cy="534.0" r="10.9" fill="#73c8b9"/>
<circle cx="941.1" cy="570.1" r="8.0" fill="#73c8b9"/>
<circle cx="941.1" cy="606.2" r="8.0" fill="#73c8b9"/>
<circle cx="941.1" cy="642.3" r="7.5" fill="#73c8b9"/>
<rect x="615.0" y="79.6" width="351.3" height="582.0" fill="none" stroke="#000" stroke-width="2"/>
<line x1="607.5" y1="100.8" x2="615.0" y2="100.8" stroke="#000" stroke-width="2.00"/>
<text x="602.2" y="113.6" font-size="33.8" text-anchor="end">Neutrophil degranulation</text>
<line x1="607.5" y1="136.9" x2="615.0" y2="136.9" stroke="#000" stroke-width="2.00"/>
<text x="602.2" y="149.7" font-size="33.8" text-anchor="end">inflammatory response</text>
<line x1="607.5" y1="173.0" x2="615.0" y2="173.0" stroke="#000" stroke-width="2.00"/>
<text x="602.2" y="185.8" font-size="33.8" text-anchor="end">leukocyte chemotaxis</text>
<line x1="607.5" y1="209.1" x2="615.0" y2="209.1" stroke="#000" stroke-width="2.00"/>
<text x="602.2" y="221.9" font-size="33.8" text-anchor="end">regulation of defense response</text>
<line x1="607.5" y1="245.2" x2="615.0" y2="245.2" stroke="#000" stroke-width="2.00"/>
<text x="602.2" y="258.0" font-size="33.8" text-anchor="end">regulation of cytokine production</text>
<line x1="607.5" y1="281.3" x2="615.0" y2="281.3" stroke="#000" stroke-width="2.00"/>
<text x="602.2" y="294.1" font-size="33.8" text-anchor="end">positive regulation of cell death</text>
<line x1="607.5" y1="317.4" x2="615.0" y2="317.4" stroke="#000" stroke-width="2.00"/>
<text x="602.2" y="330.2" font-size="33.8" text-anchor="end">positive regulation of apoptotic process</text>
<line x1="607.5" y1="353.5" x2="615.0" y2="353.5" stroke="#000" stroke-width="2.00"/>
<text x="602.2" y="366.3" font-size="33.8" text-anchor="end">myeloid leukocyte activation</text>
<line x1="607.5" y1="389.6" x2="615.0" y2="389.6" stroke="#000" stroke-width="2.00"/>
<text x="602.2" y="402.4" font-size="33.8" text-anchor="end">lymphocyte activation</text>
<line x1="607.5" y1="425.7" x2="615.0" y2="425.7" stroke="#000" stroke-width="2.00"/>
<text x="602.2" y="438.5" font-size="33.8" text-anchor="end">immune activating signal transduction</text>
<line x1="607.5" y1="461.8" x2="615.0" y2="461.8" stroke="#000" stroke-width="2.00"/>
<text x="602.2" y="474.6" font-size="33.8" text-anchor="end">defense response to virus</text>
<line x1="607.5" y1="497.9" x2="615.0" y2="497.9" stroke="#000" stroke-width="2.00"/>
<text x="602.2" y="510.7" font-size="33.8" text-anchor="end">response to interferon-beta</text>
<line x1="607.5" y1="534.0" x2="615.0" y2="534.0" stroke="#000" stroke-width="2.00"/>
<text x="602.2" y="546.8" font-size="33.8" text-anchor="end">Iron uptake and transport</text>
<line x1="607.5" y1="570.1" x2="615.0" y2="570.1" stroke="#000" stroke-width="2.00"/>
<text x="602.2" y="582.9" font-size="33.8" text-anchor="end">Apoptosis</text>
<line x1="607.5" y1="606.2" x2="615.0" y2="606.2" stroke="#000" stroke-width="2.00"/>
<text x="602.2" y="619.0" font-size="33.8" text-anchor="end">Ferroptosis</text>
<line x1="607.5" y1="642.3" x2="615.0" y2="642.3" stroke="#000" stroke-width="2.00"/>
<text x="602.2" y="655.1" font-size="33.8" text-anchor="end">Mitophagy - animal</text>
<line x1="639.6" y1="661.6" x2="639.6" y2="669.6" stroke="#000" stroke-width="2.00"/>
<text x="654.6" y="689.5" font-size="33.8" text-anchor="end" transform="rotate(-45 654.6 689.5)">gMDSC1</text>
<line x1="682.7" y1="661.6" x2="682.7" y2="669.6" stroke="#000" stroke-width="2.00"/>
<text x="697.7" y="689.5" font-size="33.8" text-anchor="end" transform="rotate(-45 697.7 689.5)">gMDSC2</text>
<line x1="725.7" y1="661.6" x2="725.7" y2="669.6" stroke="#000" stroke-width="2.00"/>
<text x="740.7" y="689.5" font-size="33.8" text-anchor="end" transform="rotate(-45 740.7 689.5)">gMDSC3</text>
<line x1="768.8" y1="661.6" x2="768.8" y2="669.6" stroke="#000" stroke-width="2.00"/>
<text x="783.8" y="689.5" font-size="33.8" text-anchor="end" transform="rotate(-45 783.8 689.5)">gMDSC4</text>
<line x1="811.9" y1="661.6" x2="811.9" y2="669.6" stroke="#000" stroke-width="2.00"/>
<text x="826.9" y="689.5" font-size="33.8" text-anchor="end" transform="rotate(-45 826.9 689.5)">gMDSC5</text>
<line x1="855.0" y1="661.6" x2="855.0" y2="669.6" stroke="#000" stroke-width="2.00"/>
<text x="870.0" y="689.5" font-size="33.8" text-anchor="end" transform="rotate(-45 870.0 689.5)">gMDSC6</text>
<line x1="898.0" y1="661.6" x2="898.0" y2="669.6" stroke="#000" stroke-width="2.00"/>
<text x="913.0" y="689.5" font-size="33.8" text-anchor="end" transform="rotate(-45 913.0 689.5)">gMDSC7</text>
<line x1="941.1" y1="661.6" x2="941.1" y2="669.6" stroke="#000" stroke-width="2.00"/>
<text x="956.1" y="689.5" font-size="33.8" text-anchor="end" transform="rotate(-45 956.1 689.5)">gMDSC8</text>
<text x="639.0" y="563.0" font-size="27.2">-Log10(q value)</text>
<circle cx="656" cy="596.6" r="9.9" fill="#4a4444" stroke="#231f20" stroke-width="1"/>
<circle cx="656" cy="628.7" r="13.6" fill="#4a4444" stroke="#231f20" stroke-width="1"/>
<text x="686.0" y="606.0" font-size="26.0">10</text>
<text x="686.0" y="638.5" font-size="26.0">20</text>
</g>
<g>
<text x="1619.4" y="74.5" font-size="35.2" text-anchor="middle">Lineage 1 (to gMDSC7)</text>
<line x1="1232.2" y1="92.3" x2="1240.2" y2="92.3" stroke="#000" stroke-width="2.00"/>
<line x1="1232.2" y1="134.3" x2="1240.2" y2="134.3" stroke="#000" stroke-width="2.00"/>
<line x1="1232.2" y1="176.3" x2="1240.2" y2="176.3" stroke="#000" stroke-width="2.00"/>
<line x1="1232.2" y1="218.3" x2="1240.2" y2="218.3" stroke="#000" stroke-width="2.00"/>
<line x1="1232.2" y1="260.3" x2="1240.2" y2="260.3" stroke="#000" stroke-width="2.00"/>
<line x1="1232.2" y1="302.3" x2="1240.2" y2="302.3" stroke="#000" stroke-width="2.00"/>
<line x1="1232.2" y1="344.3" x2="1240.2" y2="344.3" stroke="#000" stroke-width="2.00"/>
<line x1="1232.2" y1="386.3" x2="1240.2" y2="386.3" stroke="#000" stroke-width="2.00"/>
<line x1="1232.2" y1="428.3" x2="1240.2" y2="428.3" stroke="#000" stroke-width="2.00"/>
<line x1="1232.2" y1="470.3" x2="1240.2" y2="470.3" stroke="#000" stroke-width="2.00"/>
<line x1="1232.2" y1="512.3" x2="1240.2" y2="512.3" stroke="#000" stroke-width="2.00"/>
<line x1="1232.2" y1="554.3" x2="1240.2" y2="554.3" stroke="#000" stroke-width="2.00"/>
<line x1="1232.2" y1="596.3" x2="1240.2" y2="596.3" stroke="#000" stroke-width="2.00"/>
<line x1="1232.2" y1="638.3" x2="1240.2" y2="638.3" stroke="#000" stroke-width="2.00"/>
<line x1="1232.2" y1="680.3" x2="1240.2" y2="680.3" stroke="#000" stroke-width="2.00"/>
<line x1="1232.2" y1="722.3" x2="1240.2" y2="722.3" stroke="#000" stroke-width="2.00"/>
<text x="1221.2" y="99.8" font-size="27.4" text-anchor="end">Psmc6</text>
<text x="1221.2" y="144.9" font-size="27.4" text-anchor="end">Anxa1</text>
<text x="1221.2" y="190.0" font-size="27.4" text-anchor="end">Gk</text>
<text x="1221.2" y="235.1" font-size="27.4" text-anchor="end">Rnasel</text>
<text x="1221.2" y="280.2" font-size="27.4" text-anchor="end">Atp6v1a</text>
<text x="1221.2" y="325.4" font-size="27.4" text-anchor="end">Ero1l</text>
<text x="1221.2" y="370.5" font-size="27.4" text-anchor="end">Pim1</text>
<text x="1221.2" y="415.6" font-size="27.4" text-anchor="end">Rnh1</text>
<text x="1221.2" y="460.7" font-size="27.4" text-anchor="end">Plekhm2</text>
<text x="1221.2" y="505.8" font-size="27.4" text-anchor="end">P4ha1</text>
<text x="1221.2" y="550.9" font-size="27.4" text-anchor="end">Sin3b</text>
<text x="1221.2" y="596.0" font-size="27.4" text-anchor="end">Plin2</text>
<text x="1221.2" y="641.1" font-size="27.4" text-anchor="end">Usf2</text>
<text x="1221.2" y="686.2" font-size="27.4" text-anchor="end">Pgm2</text>
<text x="1221.2" y="731.3" font-size="27.4" text-anchor="end">Psmb5</text>
<line x1="1240.2" y1="755.5" x2="1240.2" y2="763.5" stroke="#000" stroke-width="2.00"/>
<text x="1240.2" y="793.0" font-size="27.0" text-anchor="middle">0.0</text>
<line x1="1323.5" y1="755.5" x2="1323.5" y2="763.5" stroke="#000" stroke-width="2.00"/>
<text x="1323.5" y="793.0" font-size="27.0" text-anchor="middle">0.058</text>
<line x1="1406.9" y1="755.5" x2="1406.9" y2="763.5" stroke="#000" stroke-width="2.00"/>
<text x="1406.9" y="793.0" font-size="27.0" text-anchor="middle">0.115</text>
<line x1="1490.2" y1="755.5" x2="1490.2" y2="763.5" stroke="#000" stroke-width="2.00"/>
<text x="1490.2" y="793.0" font-size="27.0" text-anchor="middle">0.173</text>
<line x1="1573.5" y1="755.5" x2="1573.5" y2="763.5" stroke="#000" stroke-width="2.00"/>
<text x="1573.5" y="793.0" font-size="27.0" text-anchor="middle">0.23</text>
<line x1="1656.9" y1="755.5" x2="1656.9" y2="763.5" stroke="#000" stroke-width="2.00"/>
<text x="1656.9" y="793.0" font-size="27.0" text-anchor="middle">0.288</text>
<line x1="1740.2" y1="755.5" x2="1740.2" y2="763.5" stroke="#000" stroke-width="2.00"/>
<text x="1740.2" y="793.0" font-size="27.0" text-anchor="middle">0.345</text>
<line x1="1823.5" y1="755.5" x2="1823.5" y2="763.5" stroke="#000" stroke-width="2.00"/>
<text x="1823.5" y="793.0" font-size="27.0" text-anchor="middle">0.403</text>
<line x1="1906.9" y1="755.5" x2="1906.9" y2="763.5" stroke="#000" stroke-width="2.00"/>
<text x="1906.9" y="793.0" font-size="27.0" text-anchor="middle">0.46</text>
<line x1="1990.2" y1="755.5" x2="1990.2" y2="763.5" stroke="#000" stroke-width="2.00"/>
<text x="1990.2" y="793.0" font-size="27.0" text-anchor="middle">0.518</text>
<text x="1599.5" y="831.0" font-size="35.0" text-anchor="middle">latent_time</text>
<defs><linearGradient id="cb1240" x1="0" y1="1" x2="0" y2="0">
<stop offset="0.00" stop-color="#4a0959"/>
<stop offset="0.05" stop-color="#4d1a6a"/>
<stop offset="0.10" stop-color="#4d2a78"/>
<stop offset="0.15" stop-color="#4b3a83"/>
<stop offset="0.20" stop-color="#46498b"/>
<stop offset="0.25" stop-color="#40578e"/>
<stop offset="0.30" stop-color="#3a6390"/>
<stop offset="0.35" stop-color="#346f91"/>
<stop offset="0.40" stop-color="#2f7c91"/>
<stop offset="0.45" stop-color="#2b8890"/>
<stop offset="0.50" stop-color="#27938f"/>
<stop offset="0.55" stop-color="#259e8d"/>
<stop offset="0.60" stop-color="#29aa88"/>
<stop offset="0.65" stop-color="#35b57f"/>
<stop offset="0.70" stop-color="#4ac074"/>
<stop offset="0.75" stop-color="#63cb66"/>
<stop offset="0.80" stop-color="#7dd256"/>
<stop offset="0.85" stop-color="#9dd942"/>
<stop offset="0.90" stop-color="#bfdf2d"/>
<stop offset="0.95" stop-color="#e0e41f"/>
<stop offset="1.00" stop-color="#fde82b"/>
</linearGradient></defs>
<rect x="2044.2" y="75.2" width="6.9" height="668.0" fill="url(#cb1240)" stroke="#000" stroke-width="2"/>
<line x1="2051.1" y1="743.2" x2="2059.1" y2="743.2" stroke="#000" stroke-width="2.00"/>
<text x="2064.6" y="752.7" font-size="26.8">0.00</text>
<line x1="2051.1" y1="576.2" x2="2059.1" y2="576.2" stroke="#000" stroke-width="2.00"/>
<text x="2064.6" y="585.7" font-size="26.8">0.25</text>
<line x1="2051.1" y1="409.2" x2="2059.1" y2="409.2" stroke="#000" stroke-width="2.00"/>
<text x="2064.6" y="418.7" font-size="26.8">0.50</text>
<line x1="2051.1" y1="242.2" x2="2059.1" y2="242.2" stroke="#000" stroke-width="2.00"/>
<text x="2064.6" y="251.7" font-size="26.8">0.75</text>
<line x1="2051.1" y1="75.2" x2="2059.1" y2="75.2" stroke="#000" stroke-width="2.00"/>
<text x="2064.6" y="84.7" font-size="26.8">1.00</text>
<text x="2158.1" y="413.2" font-size="34.5" text-anchor="middle" transform="rotate(-90 2158.1 413.2)">Scaled expression</text>
</g>
<g>
<text x="511.3" y="948.5" font-size="35.2" text-anchor="middle">Lineage 2 (to gMDSC8)</text>
<line x1="150.6" y1="972.0" x2="158.6" y2="972.0" stroke="#000" stroke-width="2.00"/>
<line x1="150.6" y1="1013.0" x2="158.6" y2="1013.0" stroke="#000" stroke-width="2.00"/>
<line x1="150.6" y1="1054.1" x2="158.6" y2="1054.1" stroke="#000" stroke-width="2.00"/>
<line x1="150.6" y1="1095.2" x2="158.6" y2="1095.2" stroke="#000" stroke-width="2.00"/>
<line x1="150.6" y1="1136.2" x2="158.6" y2="1136.2" stroke="#000" stroke-width="2.00"/>
<line x1="150.6" y1="1177.2" x2="158.6" y2="1177.2" stroke="#000" stroke-width="2.00"/>
<line x1="150.6" y1="1218.3" x2="158.6" y2="1218.3" stroke="#000" stroke-width="2.00"/>
<line x1="150.6" y1="1259.3" x2="158.6" y2="1259.3" stroke="#000" stroke-width="2.00"/>
<line x1="150.6" y1="1300.4" x2="158.6" y2="1300.4" stroke="#000" stroke-width="2.00"/>
<line x1="150.6" y1="1341.5" x2="158.6" y2="1341.5" stroke="#000" stroke-width="2.00"/>
<line x1="150.6" y1="1382.5" x2="158.6" y2="1382.5" stroke="#000" stroke-width="2.00"/>
<line x1="150.6" y1="1423.5" x2="158.6" y2="1423.5" stroke="#000" stroke-width="2.00"/>
<line x1="150.6" y1="1464.6" x2="158.6" y2="1464.6" stroke="#000" stroke-width="2.00"/>
<line x1="150.6" y1="1505.7" x2="158.6" y2="1505.7" stroke="#000" stroke-width="2.00"/>
<line x1="150.6" y1="1546.7" x2="158.6" y2="1546.7" stroke="#000" stroke-width="2.00"/>
<line x1="150.6" y1="1587.8" x2="158.6" y2="1587.8" stroke="#000" stroke-width="2.00"/>
<text x="139.6" y="979.5" font-size="27.4" text-anchor="end">Samd9l</text>
<text x="139.6" y="1020.5" font-size="27.4" text-anchor="end">Plaur</text>
<text x="139.6" y="1061.6" font-size="27.4" text-anchor="end">Slfn4</text>
<text x="139.6" y="1102.7" font-size="27.4" text-anchor="end">Casp4</text>
<text x="139.6" y="1143.7" font-size="27.4" text-anchor="end">Gbp2</text>
<text x="139.6" y="1184.8" font-size="27.4" text-anchor="end">Ifi204</text>
<text x="139.6" y="1225.8" font-size="27.4" text-anchor="end">Sqstm1</text>
<text x="139.6" y="1266.8" font-size="27.4" text-anchor="end">Dgkz</text>
<text x="139.6" y="1307.9" font-size="27.4" text-anchor="end">Lrrfip2</text>
<text x="139.6" y="1349.0" font-size="27.4" text-anchor="end">Rragd</text>
<text x="139.6" y="1390.0" font-size="27.4" text-anchor="end">Arfgef2</text>
<text x="139.6" y="1431.0" font-size="27.4" text-anchor="end">Hexa</text>
<text x="139.6" y="1472.1" font-size="27.4" text-anchor="end">Rsrp1</text>
<text x="139.6" y="1513.2" font-size="27.4" text-anchor="end">Rnh1</text>
<text x="139.6" y="1554.2" font-size="27.4" text-anchor="end">Lamp1</text>
<text x="139.6" y="1595.2" font-size="27.4" text-anchor="end">Ldha</text>
<line x1="158.6" y1="1624.5" x2="158.6" y2="1632.5" stroke="#000" stroke-width="2.00"/>
<text x="158.6" y="1664.7" font-size="27.0" text-anchor="middle">0.0</text>
<line x1="241.9" y1="1624.5" x2="241.9" y2="1632.5" stroke="#000" stroke-width="2.00"/>
<text x="241.9" y="1664.7" font-size="27.0" text-anchor="middle">0.105</text>
<line x1="325.2" y1="1624.5" x2="325.2" y2="1632.5" stroke="#000" stroke-width="2.00"/>
<text x="325.2" y="1664.7" font-size="27.0" text-anchor="middle">0.21</text>
<line x1="408.6" y1="1624.5" x2="408.6" y2="1632.5" stroke="#000" stroke-width="2.00"/>
<text x="408.6" y="1664.7" font-size="27.0" text-anchor="middle">0.316</text>
<line x1="491.9" y1="1624.5" x2="491.9" y2="1632.5" stroke="#000" stroke-width="2.00"/>
<text x="491.9" y="1664.7" font-size="27.0" text-anchor="middle">0.42</text>
<line x1="575.2" y1="1624.5" x2="575.2" y2="1632.5" stroke="#000" stroke-width="2.00"/>
<text x="575.2" y="1664.7" font-size="27.0" text-anchor="middle">0.526</text>
<line x1="658.5" y1="1624.5" x2="658.5" y2="1632.5" stroke="#000" stroke-width="2.00"/>
<text x="658.5" y="1664.7" font-size="27.0" text-anchor="middle">0.631</text>
<line x1="741.9" y1="1624.5" x2="741.9" y2="1632.5" stroke="#000" stroke-width="2.00"/>
<text x="741.9" y="1664.7" font-size="27.0" text-anchor="middle">0.736</text>
<line x1="825.2" y1="1624.5" x2="825.2" y2="1632.5" stroke="#000" stroke-width="2.00"/>
<text x="825.2" y="1664.7" font-size="27.0" text-anchor="middle">0.841</text>
<line x1="908.5" y1="1624.5" x2="908.5" y2="1632.5" stroke="#000" stroke-width="2.00"/>
<text x="908.5" y="1664.7" font-size="27.0" text-anchor="middle">0.947</text>
<text x="520.5" y="1701.0" font-size="35.0" text-anchor="middle">latent_time</text>
<defs><linearGradient id="cb158" x1="0" y1="1" x2="0" y2="0">
<stop offset="0.00" stop-color="#4a0959"/>
<stop offset="0.05" stop-color="#4d1a6a"/>
<stop offset="0.10" stop-color="#4d2a78"/>
<stop offset="0.15" stop-color="#4b3a83"/>
<stop offset="0.20" stop-color="#46498b"/>
<stop offset="0.25" stop-color="#40578e"/>
<stop offset="0.30" stop-color="#3a6390"/>
<stop offset="0.35" stop-color="#346f91"/>
<stop offset="0.40" stop-color="#2f7c91"/>
<stop offset="0.45" stop-color="#2b8890"/>
<stop offset="0.50" stop-color="#27938f"/>
<stop offset="0.55" stop-color="#259e8d"/>
<stop offset="0.60" stop-color="#29aa88"/>
<stop offset="0.65" stop-color="#35b57f"/>
<stop offset="0.70" stop-color="#4ac074"/>
<stop offset="0.75" stop-color="#63cb66"/>
<stop offset="0.80" stop-color="#7dd256"/>
<stop offset="0.85" stop-color="#9dd942"/>
<stop offset="0.90" stop-color="#bfdf2d"/>
<stop offset="0.95" stop-color="#e0e41f"/>
<stop offset="1.00" stop-color="#fde82b"/>
</linearGradient></defs>
<rect x="962.5" y="954.2" width="6.8" height="658.0" fill="url(#cb158)" stroke="#000" stroke-width="2"/>
<line x1="969.3" y1="1612.2" x2="977.3" y2="1612.2" stroke="#000" stroke-width="2.00"/>
<text x="982.8" y="1621.7" font-size="26.8">0.00</text>
<line x1="969.3" y1="1447.7" x2="977.3" y2="1447.7" stroke="#000" stroke-width="2.00"/>
<text x="982.8" y="1457.2" font-size="26.8">0.25</text>
<line x1="969.3" y1="1283.2" x2="977.3" y2="1283.2" stroke="#000" stroke-width="2.00"/>
<text x="982.8" y="1292.7" font-size="26.8">0.50</text>
<line x1="969.3" y1="1118.7" x2="977.3" y2="1118.7" stroke="#000" stroke-width="2.00"/>
<text x="982.8" y="1128.2" font-size="26.8">0.75</text>
<line x1="969.3" y1="954.2" x2="977.3" y2="954.2" stroke="#000" stroke-width="2.00"/>
<text x="982.8" y="963.7" font-size="26.8">1.00</text>
<text x="1076.3" y="1287.2" font-size="34.5" text-anchor="middle" transform="rotate(-90 1076.3 1287.2)">Scaled expression</text>
</g>
<g>
<path d="M1308.0 1271.0C1316.7 1270.4 1341.3 1268.8 1360.0 1267.5C1378.7 1266.2 1401.7 1264.5 1420.0 1263.0C1438.3 1261.5 1456.2 1259.8 1470.0 1258.8C1483.8 1257.8 1491.2 1257.1 1502.9 1257.0C1514.6 1256.9 1527.2 1257.2 1540.0 1258.0C1552.8 1258.8 1566.7 1260.5 1580.0 1262.0C1593.3 1263.5 1608.6 1265.9 1620.0 1267.0C1631.4 1268.1 1643.8 1268.5 1648.5 1268.8L1648.5 1274.2C1643.8 1273.9 1631.4 1273.2 1620.0 1272.4C1608.6 1271.6 1593.3 1270.1 1580.0 1269.2C1566.7 1268.3 1552.8 1267.5 1540.0 1267.0C1527.2 1266.5 1514.6 1266.2 1502.9 1266.0C1491.2 1265.8 1483.8 1265.8 1470.0 1266.0C1456.2 1266.2 1438.3 1266.8 1420.0 1267.5C1401.7 1268.2 1378.7 1269.3 1360.0 1270.2C1341.3 1271.1 1316.7 1272.4 1308.0 1272.8Z" fill="#3cb8a2" fill-opacity="0.22" stroke="#3cb8a2" stroke-opacity="0.35" stroke-width="1" stroke-dasharray="4 3"/>
<path d="M1308.0 1269.5C1313.3 1269.2 1328.0 1268.7 1340.0 1267.5C1352.0 1266.3 1368.3 1264.4 1380.0 1262.5C1391.7 1260.6 1402.8 1258.1 1410.0 1256.0C1417.2 1253.9 1418.4 1252.4 1422.9 1249.9C1427.4 1247.4 1432.2 1244.6 1437.0 1241.0C1441.8 1237.4 1446.6 1234.4 1451.4 1228.3C1456.2 1222.2 1460.9 1214.9 1465.7 1204.3C1470.5 1193.7 1476.3 1178.5 1480.0 1164.9C1483.7 1151.4 1485.6 1138.3 1488.0 1123.0C1490.4 1107.7 1493.2 1081.2 1494.3 1072.9L1494.3 1180.9C1493.2 1181.8 1490.4 1183.3 1488.0 1186.0C1485.6 1188.7 1483.7 1191.3 1480.0 1197.3C1476.3 1203.4 1470.5 1215.3 1465.7 1222.3C1460.9 1229.3 1456.2 1234.8 1451.4 1239.1C1446.6 1243.4 1441.8 1245.5 1437.0 1248.2C1432.2 1250.9 1427.4 1253.4 1422.9 1255.3C1418.4 1257.2 1417.2 1257.9 1410.0 1259.6C1402.8 1261.2 1391.7 1263.6 1380.0 1265.2C1368.3 1266.8 1352.0 1268.3 1340.0 1269.3C1328.0 1270.3 1313.3 1271.0 1308.0 1271.3Z" fill="#f0982a" fill-opacity="0.22" stroke="#f0982a" stroke-opacity="0.35" stroke-width="1" stroke-dasharray="4 3"/>
<path d="M1308.0 1272.0C1316.7 1271.5 1341.3 1270.1 1360.0 1269.0C1378.7 1267.9 1401.7 1266.5 1420.0 1265.5C1438.3 1264.5 1456.2 1263.4 1470.0 1262.8C1483.8 1262.2 1491.2 1262.0 1502.9 1262.0C1514.6 1262.0 1527.2 1262.3 1540.0 1263.0C1552.8 1263.7 1566.7 1264.8 1580.0 1266.0C1593.3 1267.2 1608.6 1269.0 1620.0 1270.0C1631.4 1271.0 1643.8 1271.5 1648.5 1271.8" fill="none" stroke="#3cb8a2" stroke-width="5" stroke-linecap="butt"/>
<path d="M1308.0 1270.5C1313.3 1270.2 1328.0 1269.6 1340.0 1268.5C1352.0 1267.4 1368.3 1265.8 1380.0 1264.0C1391.7 1262.2 1402.8 1259.8 1410.0 1258.0C1417.2 1256.2 1418.4 1255.1 1422.9 1252.9C1427.4 1250.7 1432.2 1248.1 1437.0 1245.0C1441.8 1241.9 1446.6 1239.4 1451.4 1234.3C1456.2 1229.2 1460.9 1222.9 1465.7 1214.3C1470.5 1205.7 1476.3 1192.3 1480.0 1182.9C1483.7 1173.5 1485.6 1166.3 1488.0 1158.0C1490.4 1149.7 1493.2 1137.1 1494.3 1132.9" fill="none" stroke="#f0982a" stroke-width="5" stroke-linecap="butt"/>
<rect x="1302.9" y="1047.8" width="351.4" height="228.5" fill="none" stroke="#000" stroke-width="2"/>
<text x="1482.1" y="1033.6" font-size="34.3" text-anchor="middle">Ifit3</text>
<line x1="1294.9" y1="1117.1" x2="1302.9" y2="1117.1" stroke="#000" stroke-width="2.00"/>
<text x="1282.6" y="1127.7" font-size="30.2" text-anchor="end">0.50</text>
<line x1="1294.9" y1="1196.0" x2="1302.9" y2="1196.0" stroke="#000" stroke-width="2.00"/>
<text x="1282.6" y="1206.6" font-size="30.2" text-anchor="end">0.25</text>
<line x1="1294.9" y1="1274.6" x2="1302.9" y2="1274.6" stroke="#000" stroke-width="2.00"/>
<text x="1282.6" y="1285.2" font-size="30.2" text-anchor="end">0.00</text>
<line x1="1308.0" y1="1276.3" x2="1308.0" y2="1284.3" stroke="#000" stroke-width="2.00"/>
<line x1="1487.7" y1="1276.3" x2="1487.7" y2="1284.3" stroke="#000" stroke-width="2.00"/>
</g>
<g>
<path d="M1761.0 1266.9C1766.7 1265.9 1783.9 1263.4 1795.0 1261.0C1806.1 1258.6 1817.5 1255.4 1827.5 1252.4C1837.5 1249.4 1845.7 1246.2 1855.0 1243.0C1864.3 1239.8 1874.0 1236.4 1883.3 1233.2C1892.6 1230.0 1901.7 1226.5 1911.0 1224.0C1920.3 1221.5 1930.6 1219.5 1939.0 1218.2C1947.4 1216.9 1952.1 1215.9 1961.4 1216.3C1970.7 1216.7 1984.9 1218.3 1995.0 1220.4C2005.1 1222.5 2012.7 1226.0 2022.0 1229.0C2031.3 1232.0 2041.5 1235.2 2050.8 1238.2C2060.1 1241.2 2069.2 1244.5 2078.0 1247.0C2086.8 1249.5 2099.5 1252.0 2103.8 1253.0L2103.8 1267.4C2099.5 1266.1 2086.8 1262.4 2078.0 1259.6C2069.2 1256.8 2060.1 1253.8 2050.8 1250.8C2041.5 1247.8 2031.3 1244.3 2022.0 1241.6C2012.7 1238.9 2005.1 1236.5 1995.0 1234.8C1984.9 1233.1 1970.7 1232.0 1961.4 1231.6C1952.1 1231.2 1947.4 1231.8 1939.0 1232.6C1930.6 1233.4 1920.3 1235.0 1911.0 1236.6C1901.7 1238.2 1892.6 1240.1 1883.3 1242.2C1874.0 1244.3 1864.3 1246.8 1855.0 1249.3C1845.7 1251.8 1837.5 1254.4 1827.5 1256.9C1817.5 1259.5 1806.1 1262.3 1795.0 1264.6C1783.9 1266.9 1766.7 1269.5 1761.0 1270.5Z" fill="#3cb8a2" fill-opacity="0.22" stroke="#3cb8a2" stroke-opacity="0.35" stroke-width="1" stroke-dasharray="4 3"/>
<path d="M1761.0 1261.9C1765.8 1261.2 1780.8 1259.5 1790.0 1257.5C1799.2 1255.5 1808.6 1252.7 1816.3 1250.2C1824.0 1247.7 1829.5 1245.4 1836.0 1242.5C1842.5 1239.6 1849.7 1236.1 1855.4 1232.9C1861.1 1229.7 1865.3 1227.0 1870.0 1223.5C1874.7 1220.0 1878.6 1216.7 1883.3 1211.9C1888.0 1207.2 1893.3 1201.1 1898.0 1195.0C1902.7 1188.9 1907.5 1181.6 1911.2 1175.4C1914.9 1169.2 1917.2 1164.6 1920.0 1158.0C1922.8 1151.4 1925.0 1145.1 1928.0 1135.9C1931.0 1126.7 1934.8 1115.8 1938.0 1103.0C1941.2 1090.2 1945.9 1066.3 1947.5 1059.0L1947.5 1120.2C1945.9 1123.3 1941.2 1132.5 1938.0 1139.0C1934.8 1145.5 1931.0 1153.4 1928.0 1159.3C1925.0 1165.2 1922.8 1169.4 1920.0 1174.2C1917.2 1179.0 1914.9 1183.0 1911.2 1188.0C1907.5 1193.0 1902.7 1198.8 1898.0 1204.0C1893.3 1209.2 1888.0 1215.0 1883.3 1219.1C1878.6 1223.3 1874.7 1225.9 1870.0 1228.9C1865.3 1232.0 1861.1 1234.5 1855.4 1237.4C1849.7 1240.3 1842.5 1243.4 1836.0 1246.1C1829.5 1248.8 1824.0 1251.3 1816.3 1253.8C1808.6 1256.3 1799.2 1259.1 1790.0 1261.1C1780.8 1263.0 1765.8 1264.8 1761.0 1265.5Z" fill="#f0982a" fill-opacity="0.22" stroke="#f0982a" stroke-opacity="0.35" stroke-width="1" stroke-dasharray="4 3"/>
<path d="M1761.0 1268.9C1766.7 1267.9 1783.9 1265.3 1795.0 1263.0C1806.1 1260.7 1817.5 1257.7 1827.5 1254.9C1837.5 1252.2 1845.7 1249.3 1855.0 1246.5C1864.3 1243.7 1874.0 1240.8 1883.3 1238.2C1892.6 1235.6 1901.7 1233.0 1911.0 1231.0C1920.3 1229.0 1930.6 1227.2 1939.0 1226.2C1947.4 1225.2 1952.1 1224.4 1961.4 1224.8C1970.7 1225.2 1984.9 1226.5 1995.0 1228.4C2005.1 1230.3 2012.7 1233.2 2022.0 1236.0C2031.3 1238.8 2041.5 1242.2 2050.8 1245.2C2060.1 1248.2 2069.2 1251.4 2078.0 1254.0C2086.8 1256.6 2099.5 1259.8 2103.8 1261.0" fill="none" stroke="#3cb8a2" stroke-width="5" stroke-linecap="butt"/>
<path d="M1761.0 1263.9C1765.8 1263.2 1780.8 1261.5 1790.0 1259.5C1799.2 1257.5 1808.6 1254.7 1816.3 1252.2C1824.0 1249.7 1829.5 1247.3 1836.0 1244.5C1842.5 1241.7 1849.7 1238.4 1855.4 1235.4C1861.1 1232.4 1865.3 1229.8 1870.0 1226.5C1874.7 1223.2 1878.6 1220.3 1883.3 1215.9C1888.0 1211.5 1893.3 1205.6 1898.0 1200.0C1902.7 1194.4 1907.5 1187.9 1911.2 1182.4C1914.9 1176.9 1917.2 1172.6 1920.0 1167.0C1922.8 1161.4 1925.0 1156.2 1928.0 1148.9C1931.0 1141.6 1934.8 1132.3 1938.0 1123.0C1941.2 1113.7 1945.9 1098.0 1947.5 1093.0" fill="none" stroke="#f0982a" stroke-width="5" stroke-linecap="butt"/>
<rect x="1756.0" y="1047.8" width="351.4" height="228.5" fill="none" stroke="#000" stroke-width="2"/>
<text x="1930.7" y="1033.6" font-size="34.3" text-anchor="middle">Rsad2</text>
<line x1="1748.0" y1="1113.7" x2="1756.0" y2="1113.7" stroke="#000" stroke-width="2.00"/>
<text x="1735.7" y="1124.3" font-size="30.2" text-anchor="end">1.0</text>
<line x1="1748.0" y1="1202.2" x2="1756.0" y2="1202.2" stroke="#000" stroke-width="2.00"/>
<text x="1735.7" y="1212.8" font-size="30.2" text-anchor="end">0.5</text>
<line x1="1761.0" y1="1276.3" x2="1761.0" y2="1284.3" stroke="#000" stroke-width="2.00"/>
<line x1="1941.0" y1="1276.3" x2="1941.0" y2="1284.3" stroke="#000" stroke-width="2.00"/>
</g>
<g>
<path d="M1308.0 1563.3C1311.7 1563.4 1322.8 1563.9 1330.0 1563.8C1337.2 1563.7 1344.4 1563.4 1351.4 1562.7C1358.4 1562.0 1364.8 1561.1 1372.0 1559.5C1379.2 1557.9 1387.1 1555.7 1394.3 1553.3C1401.5 1550.9 1407.9 1548.3 1415.0 1545.0C1422.1 1541.7 1428.6 1538.6 1437.1 1533.3C1445.5 1528.0 1456.2 1520.7 1465.7 1513.3C1475.2 1505.9 1484.8 1497.9 1494.3 1489.0C1503.8 1480.1 1513.4 1470.1 1522.9 1459.9C1532.4 1449.7 1541.9 1438.2 1551.4 1428.0C1560.9 1417.8 1570.5 1407.3 1580.0 1398.4C1589.5 1389.5 1599.1 1381.8 1608.6 1374.6C1618.1 1367.4 1630.2 1359.8 1637.1 1355.4C1644.0 1351.1 1647.8 1349.7 1650.0 1348.5L1650.0 1362.9C1647.8 1363.5 1644.0 1363.1 1637.1 1366.2C1630.2 1369.3 1618.1 1375.5 1608.6 1381.8C1599.1 1388.1 1589.5 1395.5 1580.0 1403.8C1570.5 1412.1 1560.9 1421.8 1551.4 1431.6C1541.9 1441.4 1532.4 1452.7 1522.9 1462.6C1513.4 1472.5 1503.8 1482.0 1494.3 1490.8C1484.8 1499.5 1475.2 1507.7 1465.7 1515.1C1456.2 1522.5 1445.5 1529.8 1437.1 1535.1C1428.6 1540.4 1422.1 1543.5 1415.0 1546.8C1407.9 1550.1 1401.5 1552.7 1394.3 1555.1C1387.1 1557.5 1379.2 1559.7 1372.0 1561.3C1364.8 1562.9 1358.4 1563.8 1351.4 1564.5C1344.4 1565.2 1337.2 1565.5 1330.0 1565.6C1322.8 1565.7 1311.7 1565.2 1308.0 1565.1Z" fill="#3cb8a2" fill-opacity="0.22" stroke="#3cb8a2" stroke-opacity="0.35" stroke-width="1" stroke-dasharray="4 3"/>
<path d="M1308.0 1565.3C1311.7 1565.3 1322.8 1565.8 1330.0 1565.6C1337.2 1565.4 1344.4 1565.1 1351.4 1564.3C1358.4 1563.5 1364.8 1562.5 1372.0 1561.0C1379.2 1559.5 1387.1 1557.2 1394.3 1555.0C1401.5 1552.8 1407.9 1550.0 1415.0 1547.5C1422.1 1545.0 1431.1 1541.9 1437.1 1540.0C1443.1 1538.1 1446.2 1537.4 1451.0 1536.3C1455.8 1535.2 1460.9 1534.2 1465.7 1533.4C1470.5 1532.6 1475.0 1532.1 1480.0 1531.6C1485.0 1531.1 1493.1 1530.8 1495.7 1530.6" fill="none" stroke="#f0982a" stroke-width="5" stroke-linecap="butt"/>
<path d="M1308.0 1564.3C1311.7 1564.4 1322.8 1564.9 1330.0 1564.8C1337.2 1564.7 1344.4 1564.4 1351.4 1563.7C1358.4 1563.0 1364.8 1562.1 1372.0 1560.5C1379.2 1558.9 1387.1 1556.7 1394.3 1554.3C1401.5 1551.9 1407.9 1549.3 1415.0 1546.0C1422.1 1542.7 1428.6 1539.6 1437.1 1534.3C1445.5 1529.0 1456.2 1521.7 1465.7 1514.3C1475.2 1506.9 1484.8 1498.8 1494.3 1490.0C1503.8 1481.2 1513.4 1471.4 1522.9 1461.4C1532.4 1451.4 1541.9 1440.0 1551.4 1430.0C1560.9 1420.0 1570.5 1410.0 1580.0 1401.4C1589.5 1392.8 1599.1 1385.3 1608.6 1378.6C1618.1 1371.9 1630.2 1365.1 1637.1 1361.4C1644.0 1357.7 1647.8 1357.3 1650.0 1356.5" fill="none" stroke="#3cb8a2" stroke-width="5" stroke-linecap="butt"/>
<rect x="1302.9" y="1342.8" width="351.4" height="228.5" fill="none" stroke="#000" stroke-width="2"/>
<text x="1487.0" y="1328.6" font-size="34.3" text-anchor="middle">Ftl1</text>
<line x1="1294.9" y1="1403.7" x2="1302.9" y2="1403.7" stroke="#000" stroke-width="2.00"/>
<text x="1282.6" y="1414.3" font-size="30.2" text-anchor="end">5</text>
<line x1="1294.9" y1="1469.1" x2="1302.9" y2="1469.1" stroke="#000" stroke-width="2.00"/>
<text x="1282.6" y="1479.7" font-size="30.2" text-anchor="end">4</text>
<line x1="1294.9" y1="1534.3" x2="1302.9" y2="1534.3" stroke="#000" stroke-width="2.00"/>
<text x="1282.6" y="1544.9" font-size="30.2" text-anchor="end">3</text>
<line x1="1308.0" y1="1571.3" x2="1308.0" y2="1579.3" stroke="#000" stroke-width="2.00"/>
<text x="1308.0" y="1611.0" font-size="30.2" text-anchor="middle">0.0</text>
<line x1="1487.7" y1="1571.3" x2="1487.7" y2="1579.3" stroke="#000" stroke-width="2.00"/>
<text x="1487.7" y="1611.0" font-size="30.2" text-anchor="middle">0.5</text>
<text x="1481.6" y="1648.0" font-size="34.8" text-anchor="middle">latent_time</text>
</g>
<g>
<path d="M1761.0 1564.2C1764.2 1564.4 1773.6 1565.0 1780.0 1565.2C1786.4 1565.4 1791.8 1565.5 1799.6 1565.3C1807.4 1565.1 1817.7 1564.7 1827.0 1564.0C1836.3 1563.3 1846.0 1562.3 1855.4 1561.0C1864.8 1559.7 1874.0 1557.5 1883.3 1556.0C1892.6 1554.5 1904.2 1552.9 1911.2 1551.8C1918.2 1550.7 1920.3 1550.0 1925.0 1549.3C1929.7 1548.6 1935.0 1548.0 1939.1 1547.5C1943.2 1547.0 1947.7 1546.5 1949.4 1546.3L1949.4 1555.3C1947.7 1555.2 1943.2 1554.8 1939.1 1554.7C1935.0 1554.6 1929.7 1554.6 1925.0 1554.7C1920.3 1554.8 1918.2 1554.7 1911.2 1555.4C1904.2 1556.1 1892.6 1557.5 1883.3 1558.7C1874.0 1559.9 1864.8 1561.6 1855.4 1562.8C1846.0 1564.0 1836.3 1565.1 1827.0 1565.8C1817.7 1566.5 1807.4 1566.9 1799.6 1567.1C1791.8 1567.3 1786.4 1567.2 1780.0 1567.0C1773.6 1566.8 1764.2 1566.2 1761.0 1566.0Z" fill="#f0982a" fill-opacity="0.22" stroke="#f0982a" stroke-opacity="0.35" stroke-width="1" stroke-dasharray="4 3"/>
<path d="M1761.0 1562.4C1764.2 1562.6 1773.6 1563.4 1780.0 1563.6C1786.4 1563.8 1791.8 1564.0 1799.6 1563.8C1807.4 1563.6 1817.7 1563.2 1827.0 1562.5C1836.3 1561.8 1846.0 1561.1 1855.4 1559.6C1864.8 1558.0 1874.0 1556.3 1883.3 1553.2C1892.6 1550.1 1901.9 1546.0 1911.2 1541.0C1920.5 1536.0 1929.8 1531.0 1939.1 1523.3C1948.4 1515.6 1957.7 1504.9 1967.0 1495.1C1976.3 1485.2 1985.6 1474.5 1994.9 1464.2C2004.2 1453.9 2013.6 1443.3 2022.9 1433.3C2032.2 1423.3 2041.5 1413.9 2050.8 1404.2C2060.1 1394.5 2070.0 1384.2 2078.7 1374.9C2087.4 1365.6 2099.1 1352.6 2103.2 1348.1L2103.2 1412.9C2099.1 1413.8 2087.4 1414.5 2078.7 1418.1C2070.0 1421.8 2060.1 1428.4 2050.8 1434.8C2041.5 1441.2 2032.2 1448.8 2022.9 1456.7C2013.6 1464.6 2004.2 1473.7 1994.9 1482.2C1985.6 1490.7 1976.3 1499.6 1967.0 1507.7C1957.7 1515.7 1948.4 1524.0 1939.1 1530.5C1929.8 1537.0 1920.5 1542.0 1911.2 1546.4C1901.9 1550.8 1892.6 1554.0 1883.3 1556.8C1874.0 1559.6 1864.8 1561.6 1855.4 1563.2C1846.0 1564.7 1836.3 1565.4 1827.0 1566.1C1817.7 1566.8 1807.4 1567.2 1799.6 1567.4C1791.8 1567.6 1786.4 1567.4 1780.0 1567.2C1773.6 1567.0 1764.2 1566.2 1761.0 1566.0Z" fill="#3cb8a2" fill-opacity="0.22" stroke="#3cb8a2" stroke-opacity="0.35" stroke-width="1" stroke-dasharray="4 3"/>
<path d="M1761.0 1565.2C1764.2 1565.4 1773.6 1566.0 1780.0 1566.2C1786.4 1566.4 1791.8 1566.5 1799.6 1566.3C1807.4 1566.1 1817.7 1565.7 1827.0 1565.0C1836.3 1564.3 1846.0 1563.2 1855.4 1562.0C1864.8 1560.8 1874.0 1558.9 1883.3 1557.5C1892.6 1556.1 1904.2 1554.7 1911.2 1553.8C1918.2 1552.9 1920.3 1552.7 1925.0 1552.3C1929.7 1551.9 1935.0 1551.7 1939.1 1551.5C1943.2 1551.3 1947.7 1551.3 1949.4 1551.3" fill="none" stroke="#f0982a" stroke-width="5" stroke-linecap="butt"/>
<path d="M1761.0 1564.4C1764.2 1564.6 1773.6 1565.4 1780.0 1565.6C1786.4 1565.8 1791.8 1566.0 1799.6 1565.8C1807.4 1565.6 1817.7 1565.2 1827.0 1564.5C1836.3 1563.8 1846.0 1563.1 1855.4 1561.6C1864.8 1560.0 1874.0 1558.1 1883.3 1555.2C1892.6 1552.3 1901.9 1548.7 1911.2 1544.0C1920.5 1539.3 1929.8 1534.3 1939.1 1527.3C1948.4 1520.3 1957.7 1510.9 1967.0 1502.1C1976.3 1493.2 1985.6 1483.5 1994.9 1474.2C2004.2 1464.9 2013.6 1455.1 2022.9 1446.3C2032.2 1437.5 2041.5 1429.1 2050.8 1421.2C2060.1 1413.3 2070.0 1405.1 2078.7 1398.9C2087.4 1392.7 2099.1 1386.6 2103.2 1384.1" fill="none" stroke="#3cb8a2" stroke-width="5" stroke-linecap="butt"/>
<rect x="1756.0" y="1342.8" width="351.4" height="228.5" fill="none" stroke="#000" stroke-width="2"/>
<text x="1925.2" y="1328.6" font-size="34.3" text-anchor="middle">Cstb</text>
<line x1="1748.0" y1="1387.7" x2="1756.0" y2="1387.7" stroke="#000" stroke-width="2.00"/>
<text x="1735.7" y="1398.3" font-size="30.2" text-anchor="end">3</text>
<line x1="1748.0" y1="1456.4" x2="1756.0" y2="1456.4" stroke="#000" stroke-width="2.00"/>
<text x="1735.7" y="1467.0" font-size="30.2" text-anchor="end">2</text>
<line x1="1748.0" y1="1524.7" x2="1756.0" y2="1524.7" stroke="#000" stroke-width="2.00"/>
<text x="1735.7" y="1535.3" font-size="30.2" text-anchor="end">1</text>
<line x1="1761.0" y1="1571.3" x2="1761.0" y2="1579.3" stroke="#000" stroke-width="2.00"/>
<text x="1761.0" y="1611.0" font-size="30.2" text-anchor="middle">0.0</text>
<line x1="1940.0" y1="1571.3" x2="1940.0" y2="1579.3" stroke="#000" stroke-width="2.00"/>
<text x="1940.0" y="1611.0" font-size="30.2" text-anchor="middle">0.5</text>
<text x="1934.7" y="1648.0" font-size="34.8" text-anchor="middle">latent_time</text>
</g>
<text x="1206.5" y="1311.0" font-size="35.0" text-anchor="middle" transform="rotate(-90 1206.5 1311.0)">Expression</text>
<rect x="1611.7" y="941" width="179.6" height="97" rx="5" fill="#fff" fill-opacity="0.9" stroke="#d4d4d4" stroke-width="2"/>
<line x1="1622.3" y1="965.2" x2="1640.0" y2="965.2" stroke="#f0982a" stroke-width="4.60"/>
<line x1="1622.3" y1="1009.5" x2="1640.0" y2="1009.5" stroke="#3cb8a2" stroke-width="4.60"/>
<text x="1657.5" y="977.3" font-size="27.5">gMDSC7</text>
<text x="1657.5" y="1021.8" font-size="27.5">gMDSC8</text>
<g>
<line x1="117.2" y1="1818.0" x2="117.2" y2="1990.5" stroke="#000" stroke-width="2.60"/>
<line x1="110.0" y1="1979.8" x2="117.2" y2="1979.8" stroke="#000" stroke-width="2.20"/>
<text x="106.3" y="1989.5" font-size="27.0" text-anchor="end">0</text>
<line x1="110.0" y1="1922.8" x2="117.2" y2="1922.8" stroke="#000" stroke-width="2.20"/>
<text x="106.3" y="1932.5" font-size="27.0" text-anchor="end">2</text>
<line x1="110.0" y1="1865.8" x2="117.2" y2="1865.8" stroke="#000" stroke-width="2.20"/>
<text x="106.3" y="1875.5" font-size="27.0" text-anchor="end">4</text>
<text x="80.0" y="1906.0" font-size="30.5" text-anchor="middle" transform="rotate(-90 80.0 1906.0)">Expression</text>
<line x1="116.0" y1="1989.2" x2="224.0" y2="1989.2" stroke="#000" stroke-width="2.60"/>
<rect x="121.6" y="1998.3" width="33.4" height="6.6" fill="#5499e3"/>
<rect x="155.0" y="1998.3" width="33.2" height="6.6" fill="#e0263a"/>
<rect x="188.2" y="1998.3" width="33.3" height="6.6" fill="#f39b26"/>
<path d="M151.4 1981.1C151.5 1980.9 152.5 1980.4 152.5 1979.8C152.5 1979.2 151.9 1978.2 151.4 1977.5C150.9 1976.8 150.7 1976.6 149.3 1975.5C147.9 1974.5 144.8 1972.9 143.1 1971.2C141.3 1969.6 139.7 1967.9 138.9 1965.5C138.1 1963.2 138.3 1961.8 138.3 1957.0C138.2 1952.2 138.5 1942.8 138.5 1937.0C138.5 1931.3 138.4 1929.9 138.3 1922.8C138.2 1915.7 138.0 1903.8 137.8 1894.3C137.7 1884.8 137.5 1873.3 137.4 1865.8C137.3 1858.3 137.2 1852.3 137.1 1849.6L136.5 1849.6C136.4 1852.3 136.3 1858.3 136.2 1865.8C136.1 1873.3 135.9 1884.8 135.8 1894.3C135.6 1903.8 135.4 1915.7 135.3 1922.8C135.2 1929.9 135.1 1931.3 135.1 1937.0C135.1 1942.8 135.4 1952.2 135.3 1957.0C135.3 1961.8 135.5 1963.2 134.7 1965.5C133.9 1967.9 132.3 1969.6 130.5 1971.2C128.8 1972.9 125.7 1974.5 124.3 1975.5C122.9 1976.6 122.7 1976.8 122.2 1977.5C121.7 1978.2 121.1 1979.2 121.1 1979.8C121.1 1980.4 122.1 1980.9 122.2 1981.1Z" fill="#7cc67c"/>
<path d="M185.1 1981.1C185.3 1980.9 186.2 1980.4 186.2 1979.8C186.2 1979.2 186.2 1978.9 185.2 1977.5C184.1 1976.1 181.5 1973.2 179.9 1971.2C178.4 1969.3 177.0 1967.5 176.0 1965.5C174.9 1963.6 174.0 1962.2 173.7 1959.8C173.3 1957.5 173.6 1955.1 173.9 1951.3C174.1 1947.5 174.6 1944.2 175.1 1937.0C175.7 1929.9 177.0 1915.7 177.4 1908.5C177.9 1901.4 178.2 1899.0 178.1 1894.3C178.0 1889.5 177.4 1884.8 176.8 1880.0C176.3 1875.3 175.4 1870.5 174.7 1865.8C174.1 1861.0 173.5 1856.3 173.1 1851.5C172.6 1846.8 172.2 1841.6 171.8 1837.3C171.5 1833.0 171.1 1827.8 171.0 1825.9L170.1 1825.9C170.0 1827.8 169.6 1833.0 169.3 1837.3C168.9 1841.6 168.5 1846.8 168.0 1851.5C167.6 1856.3 167.0 1861.0 166.4 1865.8C165.7 1870.5 164.8 1875.3 164.3 1880.0C163.7 1884.8 163.1 1889.5 163.0 1894.3C162.9 1899.0 163.2 1901.4 163.7 1908.5C164.1 1915.7 165.4 1929.9 166.0 1937.0C166.5 1944.2 167.0 1947.5 167.2 1951.3C167.5 1955.1 167.8 1957.5 167.4 1959.8C167.1 1962.2 166.2 1963.6 165.1 1965.5C164.1 1967.5 162.7 1969.3 161.2 1971.2C159.6 1973.2 157.0 1976.1 155.9 1977.5C154.9 1978.9 154.9 1979.2 154.9 1979.8C154.9 1980.4 155.8 1980.9 156.0 1981.1Z" fill="#7cc67c"/>
<path d="M210.1 1981.1C210.2 1980.9 210.7 1982.4 210.6 1979.8C210.5 1977.2 210.0 1970.3 209.5 1965.5C209.1 1960.8 208.2 1954.6 207.8 1951.3C207.5 1948.0 207.2 1948.0 207.4 1945.6C207.7 1943.2 208.7 1940.8 209.5 1937.0C210.4 1933.2 211.7 1927.5 212.7 1922.8C213.6 1918.0 214.4 1913.3 215.2 1908.5C215.9 1903.8 216.6 1899.0 217.2 1894.3C217.9 1889.5 218.5 1884.8 218.9 1880.0C219.4 1875.3 219.9 1869.6 220.0 1865.8C220.1 1862.0 220.1 1860.6 219.5 1857.2C219.0 1853.9 217.6 1848.6 216.8 1845.8C216.0 1843.1 215.4 1841.8 214.7 1840.7C214.1 1839.6 213.3 1839.5 213.1 1839.3L195.5 1839.3C195.3 1839.5 194.5 1839.6 193.9 1840.7C193.2 1841.8 192.6 1843.1 191.8 1845.8C191.0 1848.6 189.6 1853.9 189.1 1857.2C188.5 1860.6 188.5 1862.0 188.6 1865.8C188.7 1869.6 189.2 1875.3 189.7 1880.0C190.1 1884.8 190.7 1889.5 191.4 1894.3C192.0 1899.0 192.7 1903.8 193.4 1908.5C194.2 1913.3 195.0 1918.0 195.9 1922.8C196.9 1927.5 198.2 1933.2 199.1 1937.0C199.9 1940.8 200.9 1943.2 201.2 1945.6C201.4 1948.0 201.1 1948.0 200.8 1951.3C200.4 1954.6 199.5 1960.8 199.1 1965.5C198.6 1970.3 198.1 1977.2 198.0 1979.8C197.9 1982.4 198.4 1980.9 198.5 1981.1Z" fill="#7cc67c"/>
<text x="181.0" y="2012.0" font-size="29.0" text-anchor="end" transform="rotate(-90 181.0 2012.0)">Ifi27l2a</text>
<line x1="236.9" y1="1989.2" x2="343.7" y2="1989.2" stroke="#000" stroke-width="2.60"/>
<rect x="241.3" y="1998.3" width="33.4" height="6.6" fill="#5499e3"/>
<rect x="274.7" y="1998.3" width="33.2" height="6.6" fill="#e0263a"/>
<rect x="307.9" y="1998.3" width="33.3" height="6.6" fill="#f39b26"/>
<path d="M271.1 1981.1C271.3 1980.9 272.2 1980.2 272.2 1979.8C272.2 1979.4 272.4 1979.4 271.1 1978.9C269.9 1978.5 266.9 1977.6 264.9 1977.0C262.9 1976.3 260.3 1975.7 259.0 1975.0C257.8 1974.2 257.9 1976.6 257.6 1972.7C257.3 1968.7 257.4 1959.6 257.4 1951.3C257.3 1943.0 257.4 1931.3 257.4 1922.8C257.3 1914.2 257.2 1903.8 257.2 1900.0L255.9 1900.0C255.9 1903.8 255.7 1914.2 255.7 1922.8C255.7 1931.3 255.7 1943.0 255.7 1951.3C255.7 1959.6 255.8 1968.7 255.5 1972.7C255.2 1976.6 255.2 1974.2 254.0 1975.0C252.8 1975.7 250.2 1976.3 248.2 1977.0C246.2 1977.6 243.1 1978.5 241.9 1978.9C240.7 1979.4 240.9 1979.4 240.9 1979.8C240.9 1980.2 241.8 1980.9 242.0 1981.1Z" fill="#e8906a"/>
<path d="M304.8 1981.1C305.0 1980.9 306.0 1980.4 305.9 1979.8C305.9 1979.2 305.3 1978.5 304.5 1977.5C303.6 1976.6 302.2 1975.6 300.7 1974.1C299.2 1972.6 296.8 1970.3 295.5 1968.4C294.2 1966.5 293.4 1965.1 292.8 1962.7C292.2 1960.3 292.0 1957.5 292.0 1954.1C292.0 1950.8 292.5 1946.1 292.8 1942.8C293.1 1939.4 293.7 1937.5 293.6 1934.2C293.6 1930.9 292.9 1927.5 292.6 1922.8C292.3 1918.0 292.2 1912.8 292.0 1905.7C291.7 1898.6 291.5 1888.6 291.3 1880.0C291.2 1871.5 291.0 1858.7 290.9 1854.4L289.7 1854.4C289.6 1858.7 289.4 1871.5 289.2 1880.0C289.1 1888.6 288.8 1898.6 288.6 1905.7C288.4 1912.8 288.3 1918.0 288.0 1922.8C287.7 1927.5 287.0 1930.9 286.9 1934.2C286.9 1937.5 287.5 1939.4 287.8 1942.8C288.1 1946.1 288.6 1950.8 288.6 1954.1C288.6 1957.5 288.4 1960.3 287.8 1962.7C287.2 1965.1 286.4 1966.5 285.1 1968.4C283.7 1970.3 281.3 1972.6 279.8 1974.1C278.3 1975.6 277.0 1976.6 276.1 1977.5C275.2 1978.5 274.7 1979.2 274.6 1979.8C274.6 1980.4 275.5 1980.9 275.7 1981.1Z" fill="#e8906a"/>
<path d="M325.5 1980.7C325.5 1978.1 325.4 1970.4 325.5 1965.5C325.6 1960.7 325.7 1956.0 326.1 1951.3C326.5 1946.5 327.2 1941.8 327.8 1937.0C328.4 1932.3 329.1 1927.5 329.9 1922.8C330.6 1918.0 331.5 1913.3 332.4 1908.5C333.3 1903.8 334.3 1899.0 335.3 1894.3C336.3 1889.5 337.5 1884.3 338.2 1880.0C339.0 1875.8 339.7 1872.4 339.9 1868.6C340.1 1864.8 340.1 1861.0 339.5 1857.2C338.9 1853.5 337.3 1849.2 336.1 1845.8C335.0 1842.5 333.8 1839.9 332.8 1837.3C331.8 1834.7 331.0 1831.7 330.3 1830.2C329.6 1828.6 328.9 1828.3 328.6 1827.9L319.4 1827.9C319.2 1828.3 318.5 1828.6 317.8 1830.2C317.1 1831.7 316.2 1834.7 315.3 1837.3C314.3 1839.9 313.0 1842.5 311.9 1845.8C310.8 1849.2 309.2 1853.5 308.6 1857.2C308.0 1861.0 308.0 1864.8 308.2 1868.6C308.4 1872.4 309.1 1875.8 309.8 1880.0C310.6 1884.3 311.8 1889.5 312.8 1894.3C313.7 1899.0 314.8 1903.8 315.7 1908.5C316.6 1913.3 317.4 1918.0 318.2 1922.8C318.9 1927.5 319.6 1932.3 320.3 1937.0C320.9 1941.8 321.6 1946.5 321.9 1951.3C322.3 1956.0 322.5 1960.7 322.6 1965.5C322.7 1970.4 322.6 1978.1 322.6 1980.7Z" fill="#e8906a"/>
<text x="300.7" y="2012.0" font-size="29.0" text-anchor="end" transform="rotate(-90 300.7 2012.0)">Rsad2</text>
<line x1="356.7" y1="1989.2" x2="463.5" y2="1989.2" stroke="#000" stroke-width="2.60"/>
<rect x="361.1" y="1998.3" width="33.4" height="6.6" fill="#5499e3"/>
<rect x="394.5" y="1998.3" width="33.2" height="6.6" fill="#e0263a"/>
<rect x="427.7" y="1998.3" width="33.3" height="6.6" fill="#f39b26"/>
<path d="M391.0 1981.1C391.2 1980.9 392.2 1980.3 392.1 1979.8C392.0 1979.3 391.5 1978.8 390.5 1978.1C389.4 1977.4 387.3 1976.7 385.7 1975.5C384.0 1974.4 381.8 1972.7 380.4 1971.2C379.1 1969.8 378.2 1969.8 377.7 1967.0C377.2 1964.1 377.2 1958.2 377.3 1954.1C377.4 1950.1 378.1 1946.1 378.3 1942.8C378.6 1939.4 379.0 1937.5 379.0 1934.2C378.9 1930.9 378.2 1927.5 377.9 1922.8C377.7 1918.0 377.5 1911.6 377.3 1905.7C377.1 1899.8 377.0 1890.3 376.9 1887.2L375.6 1887.2C375.6 1890.3 375.4 1899.8 375.2 1905.7C375.0 1911.6 374.9 1918.0 374.6 1922.8C374.3 1927.5 373.6 1930.9 373.5 1934.2C373.5 1937.5 373.9 1939.4 374.2 1942.8C374.5 1946.1 375.1 1950.1 375.2 1954.1C375.3 1958.2 375.3 1964.1 374.8 1967.0C374.3 1969.8 373.4 1969.8 372.1 1971.2C370.8 1972.7 368.5 1974.4 366.9 1975.5C365.2 1976.7 363.1 1977.4 362.1 1978.1C361.0 1978.8 360.5 1979.3 360.4 1979.8C360.3 1980.3 361.3 1980.9 361.5 1981.1Z" fill="#bb80bd"/>
<path d="M424.8 1981.1C425.0 1980.9 425.9 1980.4 425.9 1979.8C425.9 1979.2 425.5 1978.5 424.6 1977.5C423.8 1976.6 422.3 1975.6 420.9 1974.1C419.5 1972.6 417.5 1970.3 416.3 1968.4C415.1 1966.5 414.3 1965.1 413.8 1962.7C413.3 1960.3 413.0 1957.5 413.4 1954.1C413.7 1950.8 415.2 1946.5 415.9 1942.8C416.6 1939.0 417.4 1934.7 417.5 1931.3C417.7 1928.0 417.2 1926.6 416.7 1922.8C416.2 1919.0 415.2 1913.3 414.6 1908.5C414.0 1903.8 413.8 1899.0 413.4 1894.3C412.9 1889.5 412.5 1884.8 412.1 1880.0C411.7 1875.3 411.3 1869.4 411.1 1865.8C410.8 1862.2 410.7 1859.9 410.6 1858.7L409.4 1858.7C409.3 1859.9 409.2 1862.2 409.0 1865.8C408.7 1869.4 408.3 1875.3 407.9 1880.0C407.5 1884.8 407.1 1889.5 406.7 1894.3C406.3 1899.0 406.0 1903.8 405.4 1908.5C404.9 1913.3 403.8 1919.0 403.3 1922.8C402.8 1926.6 402.4 1928.0 402.5 1931.3C402.6 1934.7 403.5 1939.0 404.2 1942.8C404.9 1946.5 406.3 1950.8 406.7 1954.1C407.0 1957.5 406.7 1960.3 406.3 1962.7C405.8 1965.1 404.9 1966.5 403.7 1968.4C402.6 1970.3 400.5 1972.6 399.2 1974.1C397.8 1975.6 396.2 1976.6 395.4 1977.5C394.6 1978.5 394.2 1979.2 394.1 1979.8C394.1 1980.4 395.1 1980.9 395.3 1981.1Z" fill="#bb80bd"/>
<path d="M445.2 1980.7C445.2 1978.1 445.0 1971.4 445.0 1965.5C445.0 1959.7 444.9 1951.3 445.0 1945.6C445.2 1939.9 445.4 1935.6 445.8 1931.3C446.3 1927.1 447.1 1923.8 447.9 1920.0C448.8 1916.2 449.7 1912.3 450.9 1908.5C452.0 1904.8 453.4 1900.9 454.6 1897.1C455.9 1893.3 457.5 1889.1 458.4 1885.8C459.2 1882.4 459.6 1880.1 459.6 1877.2C459.6 1874.3 459.4 1871.5 458.4 1868.6C457.4 1865.8 455.3 1862.9 453.8 1860.1C452.3 1857.2 450.4 1854.2 449.2 1851.5C448.0 1848.9 447.2 1846.2 446.7 1844.4C446.1 1842.7 446.0 1841.6 445.8 1841.0L441.7 1841.0C441.5 1841.6 441.4 1842.7 440.8 1844.4C440.3 1846.2 439.5 1848.9 438.3 1851.5C437.1 1854.2 435.3 1857.2 433.7 1860.1C432.2 1862.9 430.1 1865.8 429.1 1868.6C428.2 1871.5 427.9 1874.3 427.9 1877.2C427.9 1880.1 428.3 1882.4 429.1 1885.8C430.0 1889.1 431.6 1893.3 432.9 1897.1C434.2 1900.9 435.5 1904.8 436.7 1908.5C437.8 1912.3 438.7 1916.2 439.6 1920.0C440.4 1923.8 441.2 1927.1 441.7 1931.3C442.2 1935.6 442.4 1939.9 442.5 1945.6C442.6 1951.3 442.5 1959.7 442.5 1965.5C442.5 1971.4 442.3 1978.1 442.3 1980.7Z" fill="#bb80bd"/>
<text x="420.5" y="2012.0" font-size="29.0" text-anchor="end" transform="rotate(-90 420.5 2012.0)">Isg15</text>
<line x1="476.4" y1="1989.2" x2="583.2" y2="1989.2" stroke="#000" stroke-width="2.60"/>
<rect x="480.8" y="1998.3" width="33.4" height="6.6" fill="#5499e3"/>
<rect x="514.2" y="1998.3" width="33.2" height="6.6" fill="#e0263a"/>
<rect x="547.4" y="1998.3" width="33.3" height="6.6" fill="#f39b26"/>
<path d="M511.1 1981.1C511.3 1980.9 512.4 1980.4 512.3 1979.8C512.1 1979.2 511.2 1978.5 510.2 1977.5C509.2 1976.6 508.0 1975.6 506.4 1974.1C504.8 1972.6 502.0 1970.3 500.6 1968.4C499.1 1966.5 498.0 1964.6 497.7 1962.7C497.3 1960.8 497.7 1959.8 498.5 1957.0C499.3 1954.2 501.4 1948.9 502.3 1945.6C503.1 1942.3 503.7 1940.8 503.5 1937.0C503.3 1933.2 502.0 1927.5 501.2 1922.8C500.4 1918.0 499.5 1913.3 498.9 1908.5C498.3 1903.8 498.0 1898.8 497.7 1894.3C497.3 1889.8 496.8 1883.6 496.6 1881.5L495.4 1881.5C495.2 1883.6 494.7 1889.8 494.3 1894.3C493.9 1898.8 493.7 1903.8 493.1 1908.5C492.5 1913.3 491.5 1918.0 490.8 1922.8C490.0 1927.5 488.6 1933.2 488.5 1937.0C488.3 1940.8 488.9 1942.3 489.7 1945.6C490.6 1948.9 492.7 1954.2 493.5 1957.0C494.2 1959.8 494.7 1960.8 494.3 1962.7C494.0 1964.6 492.9 1966.5 491.4 1968.4C489.9 1970.3 487.2 1972.6 485.5 1974.1C483.9 1975.6 482.8 1976.6 481.8 1977.5C480.8 1978.5 479.9 1979.2 479.7 1979.8C479.5 1980.4 480.7 1980.9 480.8 1981.1Z" fill="#5888b4"/>
<path d="M539.1 1981.1C539.2 1980.9 539.9 1980.4 539.8 1979.8C539.7 1979.2 539.1 1978.5 538.5 1977.5C537.9 1976.6 537.2 1975.6 536.0 1974.1C534.8 1972.6 532.1 1970.8 531.4 1968.4C530.7 1966.0 531.1 1962.7 531.8 1959.8C532.6 1957.0 534.6 1954.1 536.0 1951.3C537.4 1948.5 539.1 1946.1 540.2 1942.8C541.2 1939.4 541.6 1934.7 542.3 1931.3C542.9 1928.0 543.3 1926.6 543.9 1922.8C544.6 1919.0 546.3 1913.3 546.0 1908.5C545.7 1903.8 544.1 1899.0 542.3 1894.3C540.4 1889.5 536.7 1883.8 535.0 1880.0C533.2 1876.2 532.6 1874.6 531.8 1871.5C531.1 1868.4 530.6 1863.2 530.4 1861.5L529.1 1861.5C528.9 1863.2 528.4 1868.4 527.7 1871.5C526.9 1874.6 526.3 1876.2 524.5 1880.0C522.8 1883.8 519.1 1889.5 517.2 1894.3C515.4 1899.0 513.7 1903.8 513.5 1908.5C513.2 1913.3 514.9 1919.0 515.5 1922.8C516.2 1926.6 516.6 1928.0 517.2 1931.3C517.8 1934.7 518.3 1939.4 519.3 1942.8C520.3 1946.1 522.1 1948.5 523.5 1951.3C524.9 1954.1 526.9 1957.0 527.7 1959.8C528.4 1962.7 528.8 1966.0 528.1 1968.4C527.4 1970.8 524.7 1972.6 523.5 1974.1C522.3 1975.6 521.6 1976.6 521.0 1977.5C520.3 1978.5 519.8 1979.2 519.7 1979.8C519.6 1980.4 520.3 1980.9 520.4 1981.1Z" fill="#5888b4"/>
<path d="M568.3 1981.1C568.4 1980.9 569.0 1981.0 568.7 1979.8C568.4 1978.6 566.9 1976.5 566.4 1974.1C566.0 1971.7 565.4 1969.3 566.0 1965.5C566.6 1961.8 568.3 1956.0 569.8 1951.3C571.3 1946.5 573.6 1941.8 575.0 1937.0C576.4 1932.3 577.4 1927.5 578.1 1922.8C578.8 1918.0 579.4 1913.3 579.4 1908.5C579.3 1903.8 578.4 1897.6 577.7 1894.3C577.0 1891.0 576.1 1890.0 575.2 1888.6C574.3 1887.2 572.7 1886.2 572.3 1885.8L554.7 1885.8C554.2 1886.2 552.7 1887.2 551.8 1888.6C550.9 1890.0 550.0 1891.0 549.3 1894.3C548.6 1897.6 547.7 1903.8 547.6 1908.5C547.6 1913.3 548.1 1918.0 548.9 1922.8C549.6 1927.5 550.6 1932.3 552.0 1937.0C553.4 1941.8 555.7 1946.5 557.2 1951.3C558.7 1956.0 560.4 1961.8 561.0 1965.5C561.5 1969.3 561.0 1971.7 560.6 1974.1C560.1 1976.5 558.6 1978.6 558.3 1979.8C557.9 1981.0 558.6 1980.9 558.6 1981.1Z" fill="#5888b4"/>
<text x="540.2" y="2012.0" font-size="29.0" text-anchor="end" transform="rotate(-90 540.2 2012.0)">Lst1</text>
<line x1="596.1" y1="1989.2" x2="702.9" y2="1989.2" stroke="#000" stroke-width="2.60"/>
<rect x="600.5" y="1998.3" width="33.4" height="6.6" fill="#5499e3"/>
<rect x="633.9" y="1998.3" width="33.2" height="6.6" fill="#e0263a"/>
<rect x="667.1" y="1998.3" width="33.3" height="6.6" fill="#f39b26"/>
<path d="M630.9 1981.1C631.1 1980.9 632.0 1980.2 632.0 1979.8C632.0 1979.4 631.7 1979.4 630.8 1978.9C629.8 1978.5 628.1 1977.8 626.2 1977.0C624.2 1976.1 620.4 1975.0 618.9 1974.1C617.3 1973.1 617.1 1975.0 616.8 1971.2C616.4 1967.5 616.6 1959.4 616.6 1951.3C616.5 1943.2 616.6 1929.9 616.6 1922.8C616.5 1915.7 616.4 1910.9 616.3 1908.5L615.1 1908.5C615.1 1910.9 614.9 1915.7 614.9 1922.8C614.8 1929.9 614.9 1943.2 614.9 1951.3C614.8 1959.4 615.1 1967.5 614.7 1971.2C614.3 1975.0 614.2 1973.1 612.6 1974.1C611.0 1975.0 607.3 1976.1 605.3 1977.0C603.3 1977.8 601.7 1978.5 600.7 1978.9C599.7 1979.4 599.5 1979.4 599.4 1979.8C599.4 1980.2 600.4 1980.9 600.6 1981.1Z" fill="#e8067c"/>
<path d="M664.2 1981.1C664.4 1980.9 665.4 1980.3 665.3 1979.8C665.3 1979.3 664.8 1978.8 664.1 1978.1C663.4 1977.4 662.3 1976.7 661.0 1975.5C659.6 1974.4 657.2 1972.9 655.7 1971.2C654.2 1969.6 652.8 1967.9 652.0 1965.5C651.2 1963.2 651.1 1960.3 650.9 1957.0C650.8 1953.7 650.7 1949.4 651.1 1945.6C651.6 1941.8 653.4 1937.5 653.6 1934.2C653.9 1930.9 652.8 1929.4 652.4 1925.6C652.0 1921.8 651.4 1916.6 651.1 1911.4C650.9 1906.2 650.9 1900.0 650.7 1894.3C650.5 1888.6 650.2 1880.0 650.1 1877.2L648.8 1877.2C648.7 1880.0 648.4 1888.6 648.2 1894.3C648.0 1900.0 648.1 1906.2 647.8 1911.4C647.5 1916.6 647.0 1921.8 646.5 1925.6C646.1 1929.4 645.1 1930.9 645.3 1934.2C645.5 1937.5 647.3 1941.8 647.8 1945.6C648.3 1949.4 648.1 1953.7 648.0 1957.0C647.9 1960.3 647.8 1963.2 647.0 1965.5C646.2 1967.9 644.7 1969.6 643.2 1971.2C641.7 1972.9 639.4 1974.4 638.0 1975.5C636.6 1976.7 635.6 1977.4 634.9 1978.1C634.1 1978.8 633.6 1979.3 633.6 1979.8C633.6 1980.3 634.5 1980.9 634.7 1981.1Z" fill="#e8067c"/>
<path d="M698.4 1981.1C698.6 1980.9 699.5 1980.4 699.5 1979.8C699.6 1979.2 699.1 1978.5 698.7 1977.5C698.2 1976.6 698.0 1976.1 696.8 1974.1C695.5 1972.1 692.7 1968.9 691.2 1965.5C689.6 1962.2 687.6 1957.9 687.4 1954.1C687.2 1950.3 689.0 1946.5 689.9 1942.8C690.8 1939.0 692.4 1934.7 692.8 1931.3C693.2 1928.0 692.9 1926.1 692.4 1922.8C691.9 1919.5 690.7 1914.5 689.9 1911.4C689.1 1908.3 688.3 1905.9 687.8 1904.3C687.3 1902.6 687.1 1901.9 687.0 1901.4L679.5 1901.4C679.3 1901.9 679.1 1902.6 678.6 1904.3C678.1 1905.9 677.3 1908.3 676.5 1911.4C675.8 1914.5 674.5 1919.5 674.0 1922.8C673.5 1926.1 673.2 1928.0 673.6 1931.3C674.0 1934.7 675.6 1939.0 676.5 1942.8C677.4 1946.5 679.3 1950.3 679.0 1954.1C678.8 1957.9 676.9 1962.2 675.3 1965.5C673.7 1968.9 670.9 1972.1 669.6 1974.1C668.4 1976.1 668.2 1976.6 667.8 1977.5C667.3 1978.5 666.9 1979.2 666.9 1979.8C667.0 1980.4 667.9 1980.9 668.1 1981.1Z" fill="#e8067c"/>
<text x="659.9" y="2012.0" font-size="29.0" text-anchor="end" transform="rotate(-90 659.9 2012.0)">H2-Q7</text>
<line x1="715.9" y1="1989.2" x2="822.6" y2="1989.2" stroke="#000" stroke-width="2.60"/>
<rect x="720.2" y="1998.3" width="33.4" height="6.6" fill="#5499e3"/>
<rect x="753.6" y="1998.3" width="33.2" height="6.6" fill="#e0263a"/>
<rect x="786.9" y="1998.3" width="33.3" height="6.6" fill="#f39b26"/>
<path d="M750.6 1981.1C750.8 1980.9 751.8 1980.2 751.7 1979.8C751.7 1979.4 751.5 1979.4 750.5 1978.9C749.5 1978.5 747.8 1978.0 745.9 1977.0C744.0 1975.9 740.7 1974.1 739.2 1972.7C737.7 1971.2 737.2 1972.0 736.7 1968.4C736.3 1964.8 736.5 1958.9 736.5 1951.3C736.5 1943.7 736.6 1931.6 736.5 1922.8C736.4 1914.0 736.1 1902.6 736.1 1898.6L734.8 1898.6C734.8 1902.6 734.5 1914.0 734.4 1922.8C734.3 1931.6 734.4 1943.7 734.4 1951.3C734.4 1958.9 734.6 1964.8 734.2 1968.4C733.7 1972.0 733.2 1971.2 731.7 1972.7C730.2 1974.1 726.9 1975.9 725.0 1977.0C723.1 1978.0 721.4 1978.5 720.4 1978.9C719.4 1979.4 719.2 1979.4 719.2 1979.8C719.1 1980.2 720.1 1980.9 720.3 1981.1Z" fill="#fbdc3e"/>
<path d="M784.0 1981.1C784.1 1980.9 785.2 1980.3 785.1 1979.8C785.0 1979.3 784.3 1978.8 783.4 1978.1C782.5 1977.4 781.2 1976.9 779.6 1975.5C778.0 1974.1 775.2 1972.0 773.8 1969.8C772.4 1967.7 771.8 1965.8 771.3 1962.7C770.8 1959.6 770.7 1956.0 770.9 1951.3C771.0 1946.5 772.1 1939.0 772.1 1934.2C772.2 1929.5 771.4 1929.5 771.1 1922.8C770.8 1916.1 770.7 1904.8 770.5 1894.3C770.2 1883.8 769.9 1865.8 769.8 1860.1L768.6 1860.1C768.5 1865.8 768.2 1883.8 767.9 1894.3C767.7 1904.8 767.6 1916.1 767.3 1922.8C767.0 1929.5 766.2 1929.5 766.3 1934.2C766.3 1939.0 767.4 1946.5 767.5 1951.3C767.7 1956.0 767.6 1959.6 767.1 1962.7C766.6 1965.8 766.0 1967.7 764.6 1969.8C763.2 1972.0 760.4 1974.1 758.8 1975.5C757.2 1976.9 755.9 1977.4 755.0 1978.1C754.1 1978.8 753.4 1979.3 753.3 1979.8C753.2 1980.3 754.3 1980.9 754.4 1981.1Z" fill="#fbdc3e"/>
<path d="M818.1 1981.1C818.3 1980.9 819.3 1980.4 819.2 1979.8C819.2 1979.2 818.5 1978.5 818.0 1977.5C817.4 1976.6 817.0 1976.1 815.9 1974.1C814.8 1972.1 812.6 1968.9 811.3 1965.5C810.0 1962.2 808.2 1957.9 808.0 1954.1C807.8 1950.3 809.4 1947.0 810.0 1942.8C810.7 1938.5 812.2 1932.8 812.1 1928.5C812.1 1924.2 810.5 1920.9 809.6 1917.1C808.8 1913.3 807.8 1909.5 807.1 1905.7C806.4 1901.9 806.0 1898.1 805.5 1894.3C804.9 1890.5 804.1 1884.8 803.8 1882.9L802.1 1882.9C801.8 1884.8 801.0 1890.5 800.4 1894.3C799.9 1898.1 799.5 1901.9 798.8 1905.7C798.1 1909.5 797.1 1913.3 796.3 1917.1C795.4 1920.9 793.8 1924.2 793.8 1928.5C793.7 1932.8 795.2 1938.5 795.9 1942.8C796.5 1947.0 798.1 1950.3 797.9 1954.1C797.7 1957.9 795.9 1962.2 794.6 1965.5C793.3 1968.9 791.1 1972.1 790.0 1974.1C788.9 1976.1 788.5 1976.6 787.9 1977.5C787.4 1978.5 786.7 1979.2 786.7 1979.8C786.6 1980.4 787.6 1980.9 787.8 1981.1Z" fill="#fbdc3e"/>
<text x="779.6" y="2012.0" font-size="29.0" text-anchor="end" transform="rotate(-90 779.6 2012.0)">Csf1</text>
<line x1="835.6" y1="1989.2" x2="942.4" y2="1989.2" stroke="#000" stroke-width="2.60"/>
<rect x="840.0" y="1998.3" width="33.4" height="6.6" fill="#5499e3"/>
<rect x="873.4" y="1998.3" width="33.2" height="6.6" fill="#e0263a"/>
<rect x="906.6" y="1998.3" width="33.3" height="6.6" fill="#f39b26"/>
<path d="M870.3 1981.1C870.5 1980.9 871.6 1980.3 871.5 1979.8C871.4 1979.3 870.8 1979.1 869.8 1978.4C868.8 1977.7 867.3 1976.7 865.6 1975.5C864.0 1974.3 861.2 1972.9 859.8 1971.2C858.3 1969.6 857.4 1968.9 856.9 1965.5C856.3 1962.2 856.6 1956.5 856.6 1951.3C856.7 1946.1 857.3 1939.9 857.3 1934.2C857.2 1928.5 856.7 1923.1 856.4 1917.1C856.2 1911.1 855.9 1901.2 855.8 1898.0L854.6 1898.0C854.4 1901.2 854.2 1911.1 853.9 1917.1C853.7 1923.1 853.1 1928.5 853.1 1934.2C853.1 1939.9 853.6 1946.1 853.7 1951.3C853.8 1956.5 854.0 1962.2 853.5 1965.5C853.0 1968.9 852.0 1969.6 850.6 1971.2C849.1 1972.9 846.4 1974.3 844.7 1975.5C843.1 1976.7 841.5 1977.7 840.6 1978.4C839.6 1979.1 839.0 1979.3 838.9 1979.8C838.8 1980.3 839.8 1980.9 840.0 1981.1Z" fill="#e868a6"/>
<path d="M903.7 1981.1C903.9 1980.9 904.9 1980.3 904.8 1979.8C904.7 1979.3 903.9 1978.8 903.1 1978.1C902.4 1977.4 901.8 1976.9 900.4 1975.5C899.0 1974.1 896.3 1972.0 894.8 1969.8C893.3 1967.7 892.1 1965.8 891.4 1962.7C890.8 1959.6 890.8 1954.6 891.0 1951.3C891.2 1948.0 892.2 1946.1 892.7 1942.8C893.2 1939.4 894.0 1935.6 893.9 1931.3C893.9 1927.1 892.8 1922.3 892.3 1917.1C891.8 1911.9 891.4 1905.2 891.0 1900.0C890.7 1894.8 890.4 1890.9 890.2 1885.8C889.9 1880.6 889.7 1872.0 889.6 1869.2L888.3 1869.2C888.2 1872.0 887.9 1880.6 887.7 1885.8C887.4 1890.9 887.2 1894.8 886.8 1900.0C886.5 1905.2 886.1 1911.9 885.6 1917.1C885.1 1922.3 884.0 1927.1 883.9 1931.3C883.8 1935.6 884.7 1939.4 885.2 1942.8C885.7 1946.1 886.6 1948.0 886.8 1951.3C887.1 1954.6 887.1 1959.6 886.4 1962.7C885.8 1965.8 884.6 1967.7 883.1 1969.8C881.6 1972.0 878.8 1974.1 877.4 1975.5C876.1 1976.9 875.5 1977.4 874.7 1978.1C874.0 1978.8 873.2 1979.3 873.1 1979.8C873.0 1980.3 874.0 1980.9 874.2 1981.1Z" fill="#e868a6"/>
<path d="M937.8 1981.1C938.0 1980.9 938.9 1980.4 939.0 1979.8C939.0 1979.2 938.5 1978.5 938.1 1977.5C937.8 1976.6 938.1 1976.1 936.9 1974.1C935.7 1972.1 932.6 1968.4 931.0 1965.5C929.4 1962.7 928.0 1960.3 927.3 1957.0C926.5 1953.7 926.4 1949.4 926.4 1945.6C926.4 1941.8 927.0 1938.0 927.3 1934.2C927.6 1930.4 928.0 1927.1 928.1 1922.8C928.2 1918.5 928.2 1912.3 928.1 1908.5C928.0 1904.8 927.6 1902.1 927.3 1900.0C927.0 1897.9 926.6 1896.7 926.4 1895.7C926.2 1894.8 926.1 1894.5 926.0 1894.3L919.3 1894.3C919.3 1894.5 919.1 1894.8 918.9 1895.7C918.7 1896.7 918.4 1897.9 918.1 1900.0C917.8 1902.1 917.4 1904.8 917.3 1908.5C917.1 1912.3 917.1 1918.5 917.3 1922.8C917.4 1927.1 917.8 1930.4 918.1 1934.2C918.4 1938.0 918.9 1941.8 918.9 1945.6C918.9 1949.4 918.9 1953.7 918.1 1957.0C917.3 1960.3 915.9 1962.7 914.3 1965.5C912.7 1968.4 909.7 1972.1 908.5 1974.1C907.3 1976.1 907.6 1976.6 907.2 1977.5C906.9 1978.5 906.3 1979.2 906.4 1979.8C906.4 1980.4 907.3 1980.9 907.5 1981.1Z" fill="#e868a6"/>
<text x="899.4" y="2012.0" font-size="29.0" text-anchor="end" transform="rotate(-90 899.4 2012.0)">Bcl2a1d</text>
<line x1="955.3" y1="1989.2" x2="1062.1" y2="1989.2" stroke="#000" stroke-width="2.60"/>
<rect x="959.7" y="1998.3" width="33.4" height="6.6" fill="#5499e3"/>
<rect x="993.1" y="1998.3" width="33.2" height="6.6" fill="#e0263a"/>
<rect x="1026.3" y="1998.3" width="33.3" height="6.6" fill="#f39b26"/>
<path d="M990.1 1981.1C990.2 1980.9 991.2 1980.2 991.2 1979.8C991.2 1979.4 990.7 1979.4 989.9 1978.9C989.1 1978.5 988.1 1978.0 986.4 1977.0C984.7 1975.9 981.1 1974.1 979.5 1972.7C977.9 1971.2 977.2 1972.0 976.6 1968.4C976.0 1964.8 976.1 1958.9 976.0 1951.3C975.8 1943.7 976.0 1932.2 976.0 1922.8C975.9 1913.4 975.6 1899.8 975.5 1895.2L974.3 1895.2C974.2 1899.8 973.9 1913.4 973.9 1922.8C973.8 1932.2 974.0 1943.7 973.9 1951.3C973.8 1958.9 973.8 1964.8 973.2 1968.4C972.6 1972.0 972.0 1971.2 970.3 1972.7C968.7 1974.1 965.2 1975.9 963.4 1977.0C961.7 1978.0 960.7 1978.5 959.9 1978.9C959.1 1979.4 958.6 1979.4 958.6 1979.8C958.6 1980.2 959.6 1980.9 959.8 1981.1Z" fill="#b5956d"/>
<path d="M1023.4 1981.1C1023.6 1980.9 1024.6 1980.3 1024.5 1979.8C1024.4 1979.3 1023.6 1978.8 1022.9 1978.1C1022.1 1977.4 1021.5 1976.9 1020.1 1975.5C1018.8 1974.1 1016.0 1972.0 1014.5 1969.8C1013.0 1967.7 1011.8 1965.8 1011.2 1962.7C1010.5 1959.6 1010.3 1956.0 1010.5 1951.3C1010.8 1946.5 1012.7 1939.0 1012.8 1934.2C1013.0 1929.5 1012.0 1927.5 1011.6 1922.8C1011.2 1918.0 1010.7 1912.7 1010.3 1905.7C1009.9 1898.7 1009.5 1885.0 1009.3 1880.9L1008.0 1880.9C1007.9 1885.0 1007.4 1898.7 1007.0 1905.7C1006.6 1912.7 1006.2 1918.0 1005.7 1922.8C1005.3 1927.5 1004.3 1929.5 1004.5 1934.2C1004.7 1939.0 1006.5 1946.5 1006.8 1951.3C1007.1 1956.0 1006.8 1959.6 1006.2 1962.7C1005.5 1965.8 1004.3 1967.7 1002.8 1969.8C1001.3 1972.0 998.6 1974.1 997.2 1975.5C995.8 1976.9 995.2 1977.4 994.5 1978.1C993.7 1978.8 992.9 1979.3 992.8 1979.8C992.7 1980.3 993.7 1980.9 993.9 1981.1Z" fill="#b5956d"/>
<path d="M1051.0 1981.1C1051.1 1980.9 1051.6 1980.4 1051.6 1979.8C1051.6 1979.2 1051.2 1978.5 1050.8 1977.5C1050.3 1976.6 1049.7 1975.9 1048.7 1974.1C1047.6 1972.3 1045.2 1969.8 1044.5 1967.0C1043.8 1964.1 1043.8 1960.1 1044.5 1957.0C1045.2 1953.9 1047.0 1951.8 1048.7 1948.5C1050.3 1945.1 1052.9 1941.3 1054.5 1937.0C1056.1 1932.8 1057.9 1927.1 1058.3 1922.8C1058.6 1918.5 1057.6 1915.2 1056.6 1911.4C1055.6 1907.6 1053.8 1903.8 1052.4 1900.0C1051.0 1896.2 1049.4 1892.4 1048.3 1888.6C1047.1 1884.8 1045.9 1880.0 1045.3 1877.2C1044.7 1874.4 1044.8 1872.8 1044.7 1871.5C1044.6 1870.2 1044.5 1869.8 1044.5 1869.5L1040.3 1869.5C1040.3 1869.8 1040.3 1870.2 1040.1 1871.5C1040.0 1872.8 1040.1 1874.4 1039.5 1877.2C1038.9 1880.0 1037.7 1884.8 1036.6 1888.6C1035.4 1892.4 1033.8 1896.2 1032.4 1900.0C1031.0 1903.8 1029.2 1907.6 1028.2 1911.4C1027.2 1915.2 1026.2 1918.5 1026.5 1922.8C1026.9 1927.1 1028.7 1932.8 1030.3 1937.0C1031.9 1941.3 1034.5 1945.1 1036.1 1948.5C1037.8 1951.8 1039.6 1953.9 1040.3 1957.0C1041.0 1960.1 1041.0 1964.1 1040.3 1967.0C1039.6 1969.8 1037.2 1972.3 1036.1 1974.1C1035.1 1975.9 1034.5 1976.6 1034.1 1977.5C1033.6 1978.5 1033.3 1979.2 1033.2 1979.8C1033.2 1980.4 1033.8 1980.9 1033.9 1981.1Z" fill="#b5956d"/>
<text x="1019.1" y="2012.0" font-size="29.0" text-anchor="end" transform="rotate(-90 1019.1 2012.0)">Rtp4</text>
<line x1="1075.0" y1="1989.2" x2="1181.8" y2="1989.2" stroke="#000" stroke-width="2.60"/>
<rect x="1079.4" y="1998.3" width="33.4" height="6.6" fill="#5499e3"/>
<rect x="1112.8" y="1998.3" width="33.2" height="6.6" fill="#e0263a"/>
<rect x="1146.0" y="1998.3" width="33.3" height="6.6" fill="#f39b26"/>
<path d="M1109.8 1981.1C1110.0 1980.9 1111.0 1980.3 1110.9 1979.8C1110.8 1979.3 1110.0 1978.8 1109.3 1978.1C1108.6 1977.4 1108.2 1976.9 1106.8 1975.5C1105.3 1974.1 1102.2 1972.0 1100.5 1969.8C1098.8 1967.7 1097.4 1965.3 1096.7 1962.7C1096.0 1960.1 1096.2 1957.0 1096.3 1954.1C1096.4 1951.3 1097.1 1948.7 1097.6 1945.6C1098.0 1942.5 1098.8 1939.0 1098.8 1935.6C1098.8 1932.3 1097.9 1929.2 1097.6 1925.6C1097.2 1922.1 1097.1 1918.0 1096.7 1914.2C1096.4 1910.5 1095.7 1904.8 1095.5 1902.8L1093.8 1902.8C1093.6 1904.8 1092.9 1910.5 1092.6 1914.2C1092.2 1918.0 1092.1 1922.1 1091.7 1925.6C1091.4 1929.2 1090.5 1932.3 1090.5 1935.6C1090.5 1939.0 1091.3 1942.5 1091.7 1945.6C1092.1 1948.7 1092.8 1951.3 1093.0 1954.1C1093.1 1957.0 1093.2 1960.1 1092.6 1962.7C1091.9 1965.3 1090.5 1967.7 1088.8 1969.8C1087.1 1972.0 1084.0 1974.1 1082.5 1975.5C1081.1 1976.9 1080.7 1977.4 1080.0 1978.1C1079.3 1978.8 1078.4 1979.3 1078.4 1979.8C1078.3 1980.3 1079.3 1980.9 1079.5 1981.1Z" fill="#d42eb4"/>
<path d="M1143.1 1981.1C1143.3 1980.9 1144.3 1980.3 1144.3 1979.8C1144.2 1979.3 1143.6 1978.8 1143.0 1978.1C1142.4 1977.4 1141.8 1976.9 1140.5 1975.5C1139.2 1974.1 1137.0 1972.0 1135.5 1969.8C1134.0 1967.7 1132.4 1965.3 1131.7 1962.7C1131.0 1960.1 1130.9 1957.5 1131.3 1954.1C1131.7 1950.8 1133.5 1946.5 1134.2 1942.8C1135.0 1939.0 1135.9 1935.1 1135.9 1931.3C1135.9 1927.5 1134.9 1924.2 1134.2 1920.0C1133.6 1915.7 1132.8 1910.5 1132.1 1905.7C1131.5 1901.0 1131.0 1897.1 1130.5 1891.5C1130.0 1885.8 1129.3 1875.3 1129.0 1872.1L1127.8 1872.1C1127.5 1875.3 1126.8 1885.8 1126.3 1891.5C1125.8 1897.1 1125.3 1901.0 1124.6 1905.7C1124.0 1910.5 1123.2 1915.7 1122.5 1920.0C1121.9 1924.2 1120.9 1927.5 1120.9 1931.3C1120.9 1935.1 1121.8 1939.0 1122.5 1942.8C1123.3 1946.5 1125.0 1950.8 1125.5 1954.1C1125.9 1957.5 1125.7 1960.1 1125.0 1962.7C1124.4 1965.3 1122.8 1967.7 1121.3 1969.8C1119.8 1972.0 1117.5 1974.1 1116.3 1975.5C1115.0 1976.9 1114.4 1977.4 1113.8 1978.1C1113.1 1978.8 1112.5 1979.3 1112.5 1979.8C1112.5 1980.3 1113.4 1980.9 1113.6 1981.1Z" fill="#d42eb4"/>
<path d="M1177.3 1981.1C1177.5 1980.9 1178.3 1980.4 1178.4 1979.8C1178.5 1979.2 1178.3 1978.5 1178.0 1977.5C1177.7 1976.6 1177.8 1976.1 1176.8 1974.1C1175.7 1972.1 1173.3 1968.4 1171.7 1965.5C1170.1 1962.7 1168.1 1959.8 1167.2 1957.0C1166.2 1954.2 1166.0 1951.8 1166.3 1948.5C1166.7 1945.1 1168.5 1940.8 1169.2 1937.0C1170.0 1933.2 1170.8 1929.4 1170.9 1925.6C1171.0 1921.8 1170.2 1917.6 1169.7 1914.2C1169.1 1910.9 1168.2 1908.1 1167.6 1905.7C1166.9 1903.3 1166.3 1901.3 1165.9 1900.0C1165.5 1898.7 1165.2 1898.3 1165.1 1898.0L1159.2 1898.0C1159.1 1898.3 1158.8 1898.7 1158.4 1900.0C1158.0 1901.3 1157.3 1903.3 1156.7 1905.7C1156.1 1908.1 1155.2 1910.9 1154.6 1914.2C1154.1 1917.6 1153.3 1921.8 1153.4 1925.6C1153.4 1929.4 1154.3 1933.2 1155.0 1937.0C1155.8 1940.8 1157.6 1945.1 1158.0 1948.5C1158.3 1951.8 1158.0 1954.2 1157.1 1957.0C1156.2 1959.8 1154.1 1962.7 1152.5 1965.5C1150.9 1968.4 1148.6 1972.1 1147.5 1974.1C1146.5 1976.1 1146.5 1976.6 1146.3 1977.5C1146.0 1978.5 1145.7 1979.2 1145.9 1979.8C1146.0 1980.4 1146.8 1980.9 1147.0 1981.1Z" fill="#d42eb4"/>
<text x="1138.8" y="2012.0" font-size="29.0" text-anchor="end" transform="rotate(-90 1138.8 2012.0)">Ctsz</text>
<line x1="1194.8" y1="1989.2" x2="1301.6" y2="1989.2" stroke="#000" stroke-width="2.60"/>
<rect x="1199.2" y="1998.3" width="33.4" height="6.6" fill="#5499e3"/>
<rect x="1232.6" y="1998.3" width="33.2" height="6.6" fill="#e0263a"/>
<rect x="1265.8" y="1998.3" width="33.3" height="6.6" fill="#f39b26"/>
<path d="M1228.2 1981.4C1228.3 1981.2 1229.1 1980.6 1229.2 1980.1C1229.3 1979.5 1229.3 1979.1 1228.6 1978.1C1227.8 1977.1 1226.3 1975.7 1224.8 1974.1C1223.3 1972.5 1221.0 1970.3 1219.6 1968.4C1218.2 1966.5 1216.1 1965.0 1216.2 1962.4C1216.4 1959.8 1219.0 1956.3 1220.6 1953.0C1222.2 1949.7 1224.5 1946.2 1225.9 1942.8C1227.2 1939.3 1228.2 1936.6 1229.0 1932.2C1229.7 1927.8 1230.3 1921.2 1230.3 1916.5C1230.3 1911.8 1229.9 1907.5 1229.0 1904.0C1228.1 1900.5 1226.4 1898.3 1224.8 1895.7C1223.2 1893.2 1220.9 1891.2 1219.6 1888.6C1218.2 1886.0 1217.3 1882.4 1216.7 1880.0C1216.0 1877.7 1215.9 1875.9 1215.6 1874.3C1215.4 1872.8 1215.3 1871.5 1215.2 1870.9L1213.5 1870.9C1213.5 1871.5 1213.4 1872.8 1213.1 1874.3C1212.9 1875.9 1212.7 1877.7 1212.1 1880.0C1211.4 1882.4 1210.5 1886.0 1209.1 1888.6C1207.8 1891.2 1205.5 1893.2 1203.9 1895.7C1202.4 1898.3 1200.7 1900.5 1199.8 1904.0C1198.8 1907.5 1198.4 1911.8 1198.4 1916.5C1198.4 1921.2 1199.0 1927.8 1199.8 1932.2C1200.5 1936.6 1201.5 1939.3 1202.9 1942.8C1204.3 1946.2 1206.5 1949.7 1208.1 1953.0C1209.7 1956.3 1212.3 1959.8 1212.5 1962.4C1212.7 1965.0 1210.6 1966.5 1209.1 1968.4C1207.7 1970.3 1205.4 1972.5 1203.9 1974.1C1202.4 1975.7 1200.9 1977.1 1200.2 1978.1C1199.4 1979.1 1199.5 1979.5 1199.5 1980.1C1199.6 1980.6 1200.4 1981.2 1200.6 1981.4Z" fill="#6dd0ee"/>
<path d="M1255.4 1981.4C1255.5 1981.2 1256.0 1980.6 1256.0 1980.1C1255.9 1979.5 1255.8 1979.3 1255.2 1978.1C1254.6 1976.9 1253.3 1974.6 1252.3 1972.7C1251.3 1970.7 1249.7 1969.7 1249.4 1966.4C1249.1 1963.1 1249.6 1957.0 1250.4 1953.0C1251.3 1949.1 1253.0 1946.2 1254.4 1942.8C1255.7 1939.3 1257.4 1935.7 1258.6 1932.2C1259.7 1928.7 1260.5 1925.4 1261.2 1921.9C1261.9 1918.5 1262.3 1914.9 1262.7 1911.4C1263.2 1907.9 1263.9 1904.3 1263.8 1900.9C1263.7 1897.4 1263.4 1894.1 1262.2 1890.6C1261.0 1887.1 1258.1 1883.2 1256.5 1880.0C1254.8 1876.9 1253.4 1874.3 1252.3 1871.5C1251.2 1868.7 1250.3 1865.4 1249.8 1863.0C1249.2 1860.5 1249.1 1857.7 1249.0 1856.7L1247.3 1856.7C1247.1 1857.7 1247.0 1860.5 1246.4 1863.0C1245.9 1865.4 1245.1 1868.7 1243.9 1871.5C1242.8 1874.3 1241.4 1876.9 1239.8 1880.0C1238.1 1883.2 1235.2 1887.1 1234.0 1890.6C1232.8 1894.1 1232.5 1897.4 1232.5 1900.9C1232.4 1904.3 1233.1 1907.9 1233.5 1911.4C1233.9 1914.9 1234.4 1918.5 1235.1 1921.9C1235.8 1925.4 1236.5 1928.7 1237.7 1932.2C1238.8 1935.7 1240.5 1939.3 1241.9 1942.8C1243.2 1946.2 1245.0 1949.1 1245.8 1953.0C1246.7 1957.0 1247.2 1963.1 1246.9 1966.4C1246.6 1969.7 1244.9 1970.7 1243.9 1972.7C1243.0 1974.6 1241.6 1976.9 1241.0 1978.1C1240.4 1979.3 1240.3 1979.5 1240.3 1980.1C1240.3 1980.6 1240.7 1981.2 1240.8 1981.4Z" fill="#6dd0ee"/>
<path d="M1284.5 1980.9C1284.4 1979.8 1283.8 1978.8 1283.7 1974.1C1283.7 1969.4 1283.7 1958.2 1284.2 1953.0C1284.6 1947.8 1285.6 1946.2 1286.6 1942.8C1287.6 1939.3 1289.0 1935.7 1290.2 1932.2C1291.4 1928.7 1292.8 1925.4 1293.9 1921.9C1294.9 1918.5 1295.9 1914.9 1296.5 1911.4C1297.1 1907.9 1297.4 1903.5 1297.5 1900.9C1297.7 1898.2 1298.2 1898.2 1297.5 1895.7C1296.8 1893.2 1294.7 1888.4 1293.4 1885.8C1292.0 1883.1 1290.6 1882.4 1289.2 1880.0C1287.8 1877.7 1285.9 1874.3 1285.0 1871.5C1284.1 1868.7 1284.1 1866.3 1283.7 1863.0C1283.4 1859.6 1283.1 1853.5 1282.9 1851.5L1280.8 1851.5C1280.7 1853.5 1280.3 1859.6 1280.0 1863.0C1279.6 1866.3 1279.6 1868.7 1278.7 1871.5C1277.8 1874.3 1276.0 1877.7 1274.6 1880.0C1273.2 1882.4 1271.8 1883.1 1270.4 1885.8C1269.0 1888.4 1266.9 1893.2 1266.2 1895.7C1265.5 1898.2 1266.0 1898.2 1266.2 1900.9C1266.4 1903.5 1266.6 1907.9 1267.3 1911.4C1267.9 1914.9 1268.8 1918.5 1269.9 1921.9C1270.9 1925.4 1272.3 1928.7 1273.5 1932.2C1274.7 1935.7 1276.2 1939.3 1277.2 1942.8C1278.2 1946.2 1279.1 1947.8 1279.6 1953.0C1280.0 1958.2 1280.0 1969.4 1280.0 1974.1C1279.9 1978.8 1279.4 1979.8 1279.3 1980.9Z" fill="#6dd0ee"/>
<text x="1258.6" y="2012.0" font-size="29.0" text-anchor="end" transform="rotate(-90 1258.6 2012.0)">H2-K1</text>
</g>
<g>
<line x1="117.2" y1="2118.0" x2="117.2" y2="2291.1" stroke="#000" stroke-width="2.60"/>
<line x1="110.0" y1="2280.6" x2="117.2" y2="2280.6" stroke="#000" stroke-width="2.20"/>
<text x="106.3" y="2290.3" font-size="27.0" text-anchor="end">0</text>
<line x1="110.0" y1="2228.0" x2="117.2" y2="2228.0" stroke="#000" stroke-width="2.20"/>
<text x="106.3" y="2237.7" font-size="27.0" text-anchor="end">2</text>
<line x1="110.0" y1="2175.4" x2="117.2" y2="2175.4" stroke="#000" stroke-width="2.20"/>
<text x="106.3" y="2185.1" font-size="27.0" text-anchor="end">4</text>
<line x1="110.0" y1="2122.8" x2="117.2" y2="2122.8" stroke="#000" stroke-width="2.20"/>
<text x="106.3" y="2132.5" font-size="27.0" text-anchor="end">6</text>
<text x="80.0" y="2203.0" font-size="30.5" text-anchor="middle" transform="rotate(-90 80.0 2203.0)">Expression</text>
<line x1="116.0" y1="2289.8" x2="224.0" y2="2289.8" stroke="#000" stroke-width="2.60"/>
<rect x="121.6" y="2298.2" width="33.4" height="6.6" fill="#5499e3"/>
<rect x="155.0" y="2298.2" width="33.2" height="6.6" fill="#e0263a"/>
<rect x="188.2" y="2298.2" width="33.3" height="6.6" fill="#f39b26"/>
<path d="M151.6 2281.8C151.8 2281.6 152.7 2280.9 152.8 2280.6C152.8 2280.3 152.2 2280.2 151.8 2279.8C151.3 2279.4 151.2 2278.9 150.1 2278.0C149.0 2277.0 146.9 2275.3 145.3 2274.0C143.7 2272.7 141.6 2271.6 140.4 2270.1C139.3 2268.5 138.7 2269.6 138.3 2264.8C137.8 2260.0 138.1 2249.5 138.0 2241.2C137.9 2232.8 137.9 2222.9 137.8 2214.8C137.6 2206.8 137.4 2196.7 137.3 2193.0L136.3 2193.0C136.2 2196.7 136.0 2206.8 135.8 2214.8C135.7 2222.9 135.7 2232.8 135.6 2241.2C135.5 2249.5 135.8 2260.0 135.3 2264.8C134.9 2269.6 134.3 2268.5 133.2 2270.1C132.0 2271.6 129.9 2272.7 128.3 2274.0C126.7 2275.3 124.6 2277.0 123.5 2278.0C122.4 2278.9 122.3 2279.4 121.8 2279.8C121.4 2280.2 120.8 2280.3 120.8 2280.6C120.9 2280.9 121.8 2281.6 122.0 2281.8Z" fill="#9a5ee6"/>
<path d="M184.9 2281.8C185.1 2281.6 186.1 2280.9 186.0 2280.6C186.0 2280.3 185.5 2280.3 184.6 2280.1C183.6 2279.9 182.1 2279.6 180.2 2279.3C178.4 2278.9 174.9 2278.4 173.5 2278.0C172.0 2277.5 171.9 2280.6 171.5 2276.7C171.2 2272.7 171.3 2264.2 171.3 2254.3C171.2 2244.4 171.2 2223.6 171.2 2217.5L169.9 2217.5C169.9 2223.6 169.9 2244.4 169.8 2254.3C169.8 2264.2 169.9 2272.7 169.6 2276.7C169.2 2280.6 169.1 2277.5 167.6 2278.0C166.2 2278.4 162.7 2278.9 160.9 2279.3C159.0 2279.6 157.5 2279.9 156.5 2280.1C155.6 2280.3 155.1 2280.3 155.1 2280.6C155.0 2280.9 156.0 2281.6 156.2 2281.8Z" fill="#9a5ee6"/>
<path d="M219.1 2281.8C219.3 2281.6 220.3 2280.9 220.3 2280.6C220.2 2280.3 219.7 2280.3 218.8 2280.1C218.0 2279.9 216.8 2279.7 215.2 2279.3C213.6 2278.8 210.7 2278.1 209.1 2277.4C207.6 2276.8 206.4 2277.4 205.8 2275.3C205.1 2273.2 205.4 2269.3 205.3 2264.8C205.1 2260.3 205.1 2251.2 205.0 2248.5L203.6 2248.5C203.5 2251.2 203.5 2260.3 203.3 2264.8C203.2 2269.3 203.5 2273.2 202.8 2275.3C202.2 2277.4 201.0 2276.8 199.5 2277.4C197.9 2278.1 195.0 2278.8 193.4 2279.3C191.8 2279.7 190.6 2279.9 189.8 2280.1C188.9 2280.3 188.4 2280.3 188.3 2280.6C188.3 2280.9 189.3 2281.6 189.5 2281.8Z" fill="#9a5ee6"/>
<text x="181.0" y="2313.0" font-size="29.0" text-anchor="end" transform="rotate(-90 181.0 2313.0)">Prok2</text>
<line x1="236.9" y1="2289.8" x2="343.7" y2="2289.8" stroke="#000" stroke-width="2.60"/>
<rect x="241.3" y="2298.2" width="33.4" height="6.6" fill="#5499e3"/>
<rect x="274.7" y="2298.2" width="33.2" height="6.6" fill="#e0263a"/>
<rect x="307.9" y="2298.2" width="33.3" height="6.6" fill="#f39b26"/>
<path d="M271.4 2281.8C271.6 2281.6 272.5 2281.1 272.5 2280.6C272.5 2280.1 272.0 2279.7 271.5 2279.0C271.1 2278.4 271.1 2278.1 269.8 2276.7C268.5 2275.2 265.5 2272.3 263.8 2270.1C262.1 2267.9 260.3 2266.1 259.4 2263.5C258.6 2260.9 258.8 2260.2 258.7 2254.3C258.6 2248.4 258.9 2236.8 258.9 2228.0C258.9 2219.2 258.9 2209.6 258.7 2201.7C258.5 2193.8 258.0 2187.1 257.7 2180.7C257.5 2174.2 257.1 2165.8 257.0 2162.8L256.0 2162.8C255.9 2165.8 255.6 2174.2 255.3 2180.7C255.0 2187.1 254.6 2193.8 254.4 2201.7C254.2 2209.6 254.1 2219.2 254.1 2228.0C254.1 2236.8 254.4 2248.4 254.4 2254.3C254.3 2260.2 254.5 2260.9 253.6 2263.5C252.8 2266.1 251.0 2267.9 249.3 2270.1C247.5 2272.3 244.5 2275.2 243.2 2276.7C241.9 2278.1 242.0 2278.4 241.5 2279.0C241.1 2279.7 240.5 2280.1 240.6 2280.6C240.6 2281.1 241.5 2281.6 241.7 2281.8Z" fill="#a9a9a9"/>
<path d="M304.7 2281.8C304.9 2281.6 305.7 2281.0 305.8 2280.6C305.8 2280.2 305.3 2280.0 304.8 2279.5C304.3 2279.1 304.3 2279.1 302.9 2278.0C301.4 2276.8 298.1 2274.5 296.3 2272.7C294.6 2271.0 293.1 2270.5 292.2 2267.4C291.4 2264.4 291.4 2265.3 291.2 2254.3C291.1 2243.3 291.3 2215.3 291.2 2201.7C291.2 2188.1 290.9 2177.6 290.9 2172.8L289.7 2172.8C289.6 2177.6 289.4 2188.1 289.3 2201.7C289.3 2215.3 289.5 2243.3 289.3 2254.3C289.2 2265.3 289.2 2264.4 288.3 2267.4C287.5 2270.5 286.0 2271.0 284.2 2272.7C282.5 2274.5 279.1 2276.8 277.7 2278.0C276.3 2279.1 276.3 2279.1 275.8 2279.5C275.3 2280.0 274.8 2280.2 274.8 2280.6C274.8 2281.0 275.7 2281.6 275.9 2281.8Z" fill="#a9a9a9"/>
<path d="M338.9 2281.8C339.1 2281.6 340.0 2281.1 340.0 2280.6C340.0 2280.1 339.5 2279.4 339.0 2278.5C338.6 2277.6 338.5 2277.2 337.3 2275.3C336.1 2273.5 333.4 2270.1 331.8 2267.4C330.2 2264.8 328.5 2262.6 327.7 2259.6C326.8 2256.5 326.7 2254.3 326.4 2249.0C326.2 2243.8 326.3 2235.9 326.2 2228.0C326.1 2220.1 326.0 2207.0 326.0 2201.7C325.9 2196.4 326.0 2197.3 326.0 2196.4L322.1 2196.4C322.1 2197.3 322.1 2196.4 322.1 2201.7C322.1 2207.0 321.9 2220.1 321.9 2228.0C321.8 2235.9 321.9 2243.8 321.6 2249.0C321.4 2254.3 321.3 2256.5 320.4 2259.6C319.5 2262.6 317.9 2264.8 316.3 2267.4C314.7 2270.1 311.9 2273.5 310.7 2275.3C309.5 2277.2 309.5 2277.6 309.0 2278.5C308.6 2279.4 308.0 2280.1 308.1 2280.6C308.1 2281.1 309.0 2281.6 309.2 2281.8Z" fill="#a9a9a9"/>
<text x="300.7" y="2313.0" font-size="29.0" text-anchor="end" transform="rotate(-90 300.7 2313.0)">Hilpda</text>
<line x1="356.7" y1="2289.8" x2="463.5" y2="2289.8" stroke="#000" stroke-width="2.60"/>
<rect x="361.1" y="2298.2" width="33.4" height="6.6" fill="#5499e3"/>
<rect x="394.5" y="2298.2" width="33.2" height="6.6" fill="#e0263a"/>
<rect x="427.7" y="2298.2" width="33.3" height="6.6" fill="#f39b26"/>
<path d="M378.7 2281.4C378.6 2279.1 378.5 2272.0 378.4 2267.4C378.4 2262.9 378.3 2258.7 378.4 2254.3C378.6 2249.9 378.7 2245.5 379.2 2241.2C379.6 2236.8 380.0 2232.4 381.1 2228.0C382.1 2223.6 383.8 2218.8 385.4 2214.8C387.1 2210.9 389.6 2207.4 390.8 2204.3C391.9 2201.3 392.3 2199.1 392.2 2196.4C392.1 2193.8 391.7 2191.2 390.3 2188.5C388.8 2185.9 385.4 2183.3 383.5 2180.7C381.6 2178.0 379.8 2175.5 378.7 2172.8C377.6 2170.1 377.3 2165.8 377.0 2164.4L375.5 2164.4C375.3 2165.8 374.9 2170.1 373.8 2172.8C372.8 2175.5 370.9 2178.0 369.0 2180.7C367.1 2183.3 363.7 2185.9 362.2 2188.5C360.8 2191.2 360.4 2193.8 360.3 2196.4C360.2 2199.1 360.6 2201.3 361.8 2204.3C362.9 2207.4 365.5 2210.9 367.1 2214.8C368.7 2218.8 370.4 2223.6 371.4 2228.0C372.5 2232.4 372.9 2236.8 373.4 2241.2C373.8 2245.5 374.0 2249.9 374.1 2254.3C374.2 2258.7 374.1 2262.9 374.1 2267.4C374.0 2272.0 373.9 2279.1 373.8 2281.4Z" fill="#f9b9c6"/>
<path d="M416.8 2281.8C416.8 2281.6 417.3 2281.5 417.3 2280.6C417.2 2279.7 417.1 2278.2 416.3 2276.7C415.5 2275.1 413.0 2273.8 412.4 2271.4C411.9 2269.0 412.7 2265.0 412.9 2262.2C413.2 2259.3 413.2 2257.4 413.9 2254.3C414.6 2251.2 416.5 2247.3 417.3 2243.8C418.1 2240.3 417.9 2236.3 418.7 2233.3C419.5 2230.2 421.0 2228.4 422.1 2225.4C423.2 2222.3 425.2 2217.9 425.5 2214.8C425.8 2211.8 425.2 2209.6 424.0 2207.0C422.9 2204.3 420.6 2202.1 418.7 2199.1C416.9 2196.0 414.2 2191.9 412.9 2188.5C411.6 2185.2 411.1 2180.7 410.7 2179.1L409.3 2179.1C408.9 2180.7 408.4 2185.2 407.1 2188.5C405.8 2191.9 403.2 2196.0 401.3 2199.1C399.5 2202.1 397.1 2204.3 396.0 2207.0C394.9 2209.6 394.2 2211.8 394.5 2214.8C394.9 2217.9 396.8 2222.3 397.9 2225.4C399.0 2228.4 400.5 2230.2 401.3 2233.3C402.1 2236.3 402.0 2240.3 402.8 2243.8C403.6 2247.3 405.4 2251.2 406.1 2254.3C406.9 2257.4 406.9 2259.3 407.1 2262.2C407.4 2265.0 408.2 2269.0 407.6 2271.4C407.0 2273.8 404.5 2275.1 403.7 2276.7C402.9 2278.2 402.8 2279.7 402.8 2280.6C402.7 2281.5 403.2 2281.6 403.3 2281.8Z" fill="#f9b9c6"/>
<path d="M452.3 2281.8C452.4 2281.6 453.2 2282.1 452.9 2280.6C452.7 2279.1 452.0 2275.6 451.0 2272.7C450.0 2269.9 447.3 2266.6 447.1 2263.5C447.0 2260.4 448.8 2257.6 450.0 2254.3C451.3 2251.0 453.5 2247.3 454.9 2243.8C456.3 2240.3 457.5 2236.8 458.3 2233.3C459.1 2229.8 459.6 2226.2 459.7 2222.7C459.8 2219.2 459.4 2215.7 458.8 2212.2C458.1 2208.7 456.9 2204.8 455.8 2201.7C454.8 2198.6 453.5 2195.8 452.5 2193.8C451.4 2191.8 450.0 2190.5 449.6 2189.9L438.0 2189.9C437.5 2190.5 436.1 2191.8 435.1 2193.8C434.0 2195.8 432.7 2198.6 431.7 2201.7C430.6 2204.8 429.4 2208.7 428.8 2212.2C428.1 2215.7 427.7 2219.2 427.8 2222.7C427.9 2226.2 428.4 2229.8 429.3 2233.3C430.1 2236.8 431.3 2240.3 432.6 2243.8C434.0 2247.3 436.2 2251.0 437.5 2254.3C438.8 2257.6 440.5 2260.4 440.4 2263.5C440.2 2266.6 437.5 2269.9 436.5 2272.7C435.5 2275.6 434.8 2279.1 434.6 2280.6C434.4 2282.1 435.1 2281.6 435.2 2281.8Z" fill="#f9b9c6"/>
<text x="420.5" y="2313.0" font-size="29.0" text-anchor="end" transform="rotate(-90 420.5 2313.0)">Alox5ap</text>
<line x1="476.4" y1="2289.8" x2="583.2" y2="2289.8" stroke="#000" stroke-width="2.60"/>
<rect x="480.8" y="2298.2" width="33.4" height="6.6" fill="#5499e3"/>
<rect x="514.2" y="2298.2" width="33.2" height="6.6" fill="#e0263a"/>
<rect x="547.4" y="2298.2" width="33.3" height="6.6" fill="#f39b26"/>
<path d="M503.4 2281.8C503.5 2281.6 503.9 2281.0 503.9 2280.6C503.9 2280.2 503.8 2279.9 503.5 2279.3C503.2 2278.6 503.2 2278.0 502.3 2276.7C501.3 2275.3 498.8 2273.8 498.1 2271.4C497.3 2269.0 497.5 2265.0 497.9 2262.2C498.2 2259.3 498.9 2257.8 500.2 2254.3C501.4 2250.8 503.8 2245.5 505.4 2241.2C507.0 2236.8 508.6 2232.4 509.8 2228.0C510.9 2223.6 512.1 2218.4 512.3 2214.8C512.4 2211.3 511.9 2210.0 510.6 2207.0C509.3 2203.9 506.3 2199.5 504.3 2196.4C502.4 2193.4 500.2 2191.2 499.1 2188.5C498.0 2185.9 498.1 2183.5 497.7 2180.7C497.2 2177.8 496.8 2173.0 496.6 2171.5L495.4 2171.5C495.2 2173.0 494.7 2177.8 494.3 2180.7C493.9 2183.5 494.0 2185.9 492.9 2188.5C491.7 2191.2 489.6 2193.4 487.6 2196.4C485.7 2199.5 482.7 2203.9 481.4 2207.0C480.1 2210.0 479.6 2211.3 479.7 2214.8C479.8 2218.4 481.1 2223.6 482.2 2228.0C483.4 2232.4 485.0 2236.8 486.6 2241.2C488.2 2245.5 490.6 2250.8 491.8 2254.3C493.1 2257.8 493.8 2259.3 494.1 2262.2C494.5 2265.0 494.6 2269.0 493.9 2271.4C493.2 2273.8 490.6 2275.3 489.7 2276.7C488.8 2278.0 488.8 2278.6 488.5 2279.3C488.2 2279.9 488.0 2280.2 488.1 2280.6C488.1 2281.0 488.5 2281.6 488.6 2281.8Z" fill="#b3ae1a"/>
<path d="M544.5 2281.8C544.7 2281.6 545.6 2281.1 545.6 2280.6C545.6 2280.1 545.1 2279.7 544.4 2279.0C543.6 2278.4 542.8 2278.1 541.2 2276.7C539.7 2275.2 536.5 2272.5 535.0 2270.1C533.5 2267.7 532.5 2264.8 532.2 2262.2C532.0 2259.6 532.5 2257.4 533.5 2254.3C534.5 2251.2 537.1 2246.8 538.1 2243.8C539.1 2240.7 539.3 2239.0 539.3 2235.9C539.4 2232.8 539.1 2228.9 538.5 2225.4C538.0 2221.9 536.8 2218.4 536.0 2214.8C535.2 2211.3 534.3 2207.8 533.5 2204.3C532.7 2200.8 531.9 2198.2 531.4 2193.8C530.9 2189.4 530.5 2180.7 530.4 2178.0L529.1 2178.0C528.9 2180.7 528.6 2189.4 528.1 2193.8C527.5 2198.2 526.7 2200.8 526.0 2204.3C525.2 2207.8 524.3 2211.3 523.5 2214.8C522.6 2218.4 521.5 2221.9 521.0 2225.4C520.4 2228.9 520.1 2232.8 520.1 2235.9C520.2 2239.0 520.4 2240.7 521.4 2243.8C522.4 2246.8 525.0 2251.2 526.0 2254.3C527.0 2257.4 527.5 2259.6 527.2 2262.2C527.0 2264.8 526.0 2267.7 524.5 2270.1C523.0 2272.5 519.8 2275.2 518.3 2276.7C516.7 2278.1 515.9 2278.4 515.1 2279.0C514.4 2279.7 513.9 2280.1 513.9 2280.6C513.8 2281.1 514.8 2281.6 515.0 2281.8Z" fill="#b3ae1a"/>
<path d="M578.2 2281.8C578.4 2281.6 579.2 2281.1 579.4 2280.6C579.5 2280.1 579.2 2279.4 578.9 2278.5C578.7 2277.6 578.9 2277.2 578.1 2275.3C577.3 2273.5 575.0 2270.1 573.9 2267.4C572.8 2264.8 571.3 2262.6 571.4 2259.6C571.6 2256.5 573.9 2252.5 575.0 2249.0C576.0 2245.5 577.2 2241.6 577.7 2238.5C578.2 2235.5 578.4 2233.7 578.1 2230.6C577.8 2227.6 576.9 2223.6 576.0 2220.1C575.2 2216.6 574.1 2213.1 573.1 2209.6C572.1 2206.1 571.0 2202.6 570.2 2199.1C569.3 2195.6 568.6 2191.0 568.1 2188.5C567.6 2186.1 567.4 2185.3 567.2 2184.6L559.7 2184.6C559.6 2185.3 559.4 2186.1 558.9 2188.5C558.4 2191.0 557.6 2195.6 556.8 2199.1C556.0 2202.6 554.9 2206.1 553.9 2209.6C552.9 2213.1 551.8 2216.6 551.0 2220.1C550.1 2223.6 549.2 2227.6 548.9 2230.6C548.6 2233.7 548.8 2235.5 549.3 2238.5C549.8 2241.6 551.0 2245.5 552.0 2249.0C553.0 2252.5 555.4 2256.5 555.6 2259.6C555.7 2262.6 554.2 2264.8 553.0 2267.4C551.9 2270.1 549.7 2273.5 548.9 2275.3C548.0 2277.2 548.2 2277.6 548.0 2278.5C547.8 2279.4 547.5 2280.1 547.6 2280.6C547.7 2281.1 548.5 2281.6 548.7 2281.8Z" fill="#b3ae1a"/>
<text x="540.2" y="2313.0" font-size="29.0" text-anchor="end" transform="rotate(-90 540.2 2313.0)">Tspo</text>
<line x1="596.1" y1="2289.8" x2="702.9" y2="2289.8" stroke="#000" stroke-width="2.60"/>
<rect x="600.5" y="2298.2" width="33.4" height="6.6" fill="#5499e3"/>
<rect x="633.9" y="2298.2" width="33.2" height="6.6" fill="#e0263a"/>
<rect x="667.1" y="2298.2" width="33.3" height="6.6" fill="#f39b26"/>
<path d="M625.0 2281.8C625.2 2281.6 625.8 2281.1 625.7 2280.6C625.7 2280.1 625.4 2279.7 624.9 2279.0C624.5 2278.4 624.1 2278.1 623.0 2276.7C621.9 2275.2 619.1 2272.5 618.2 2270.1C617.4 2267.7 617.4 2264.8 617.8 2262.2C618.3 2259.6 619.6 2257.8 620.9 2254.3C622.3 2250.8 624.5 2245.5 625.7 2241.2C627.0 2236.8 627.8 2232.4 628.7 2228.0C629.5 2223.6 630.2 2218.8 630.8 2214.8C631.3 2210.9 632.8 2207.8 632.0 2204.3C631.2 2200.8 628.1 2197.3 626.2 2193.8C624.2 2190.3 621.7 2186.4 620.3 2183.3C618.9 2180.2 618.5 2178.9 617.8 2175.4C617.1 2171.9 616.6 2164.4 616.3 2162.2L615.1 2162.2C614.8 2164.4 614.3 2171.9 613.6 2175.4C613.0 2178.9 612.5 2180.2 611.1 2183.3C609.7 2186.4 607.2 2190.3 605.3 2193.8C603.3 2197.3 600.2 2200.8 599.4 2204.3C598.7 2207.8 600.1 2210.9 600.7 2214.8C601.2 2218.8 601.9 2223.6 602.8 2228.0C603.6 2232.4 604.4 2236.8 605.7 2241.2C607.0 2245.5 609.2 2250.8 610.5 2254.3C611.8 2257.8 613.2 2259.6 613.6 2262.2C614.1 2264.8 614.1 2267.7 613.2 2270.1C612.3 2272.5 609.5 2275.2 608.4 2276.7C607.3 2278.1 607.0 2278.4 606.5 2279.0C606.1 2279.7 605.7 2280.1 605.7 2280.6C605.7 2281.1 606.3 2281.6 606.4 2281.8Z" fill="#4e97e6"/>
<path d="M664.2 2281.8C664.4 2281.6 665.4 2281.1 665.3 2280.6C665.3 2280.1 664.8 2279.7 664.1 2279.0C663.4 2278.4 662.5 2277.9 661.0 2276.7C659.4 2275.4 656.3 2273.4 654.7 2271.4C653.1 2269.4 652.0 2267.2 651.6 2264.8C651.1 2262.4 651.3 2260.0 652.0 2256.9C652.6 2253.9 654.5 2249.9 655.3 2246.4C656.2 2242.9 656.9 2239.8 657.0 2235.9C657.1 2231.9 656.2 2227.1 655.7 2222.7C655.2 2218.4 654.6 2214.0 654.1 2209.6C653.5 2205.2 653.0 2201.1 652.4 2196.4C651.8 2191.8 650.7 2184.2 650.3 2181.7L648.6 2181.7C648.3 2184.2 647.2 2191.8 646.5 2196.4C645.9 2201.1 645.4 2205.2 644.9 2209.6C644.3 2214.0 643.7 2218.4 643.2 2222.7C642.7 2227.1 641.9 2231.9 642.0 2235.9C642.0 2239.8 642.8 2242.9 643.6 2246.4C644.5 2249.9 646.3 2253.9 647.0 2256.9C647.6 2260.0 647.8 2262.4 647.4 2264.8C646.9 2267.2 645.8 2269.4 644.2 2271.4C642.7 2273.4 639.6 2275.4 638.0 2276.7C636.4 2277.9 635.6 2278.4 634.9 2279.0C634.1 2279.7 633.6 2280.1 633.6 2280.6C633.6 2281.1 634.5 2281.6 634.7 2281.8Z" fill="#4e97e6"/>
<path d="M698.4 2281.8C698.6 2281.6 699.4 2281.1 699.5 2280.6C699.6 2280.1 699.4 2279.4 699.1 2278.5C698.7 2277.6 698.5 2277.2 697.4 2275.3C696.4 2273.5 693.9 2270.1 692.8 2267.4C691.7 2264.8 690.8 2262.6 690.7 2259.6C690.7 2256.5 691.9 2252.5 692.4 2249.0C693.0 2245.5 693.7 2242.0 694.1 2238.5C694.5 2235.0 694.8 2231.5 694.9 2228.0C695.0 2224.5 694.8 2221.0 694.5 2217.5C694.1 2214.0 693.6 2210.5 692.8 2207.0C692.1 2203.5 690.7 2199.2 689.9 2196.4C689.1 2193.7 688.3 2192.0 687.8 2190.7C687.3 2189.3 687.1 2188.9 687.0 2188.5L679.5 2188.5C679.3 2188.9 679.1 2189.3 678.6 2190.7C678.1 2192.0 677.4 2193.7 676.5 2196.4C675.7 2199.2 674.4 2203.5 673.6 2207.0C672.8 2210.5 672.3 2214.0 671.9 2217.5C671.6 2221.0 671.5 2224.5 671.5 2228.0C671.6 2231.5 671.9 2235.0 672.4 2238.5C672.8 2242.0 673.5 2245.5 674.0 2249.0C674.6 2252.5 675.8 2256.5 675.7 2259.6C675.6 2262.6 674.7 2264.8 673.6 2267.4C672.5 2270.1 670.1 2273.5 669.0 2275.3C668.0 2277.2 667.7 2277.6 667.4 2278.5C667.0 2279.4 666.8 2280.1 666.9 2280.6C667.1 2281.1 667.9 2281.6 668.1 2281.8Z" fill="#4e97e6"/>
<text x="659.9" y="2313.0" font-size="29.0" text-anchor="end" transform="rotate(-90 659.9 2313.0)">Anxa1</text>
<line x1="715.9" y1="2289.8" x2="822.6" y2="2289.8" stroke="#000" stroke-width="2.60"/>
<rect x="720.2" y="2298.2" width="33.4" height="6.6" fill="#5499e3"/>
<rect x="753.6" y="2298.2" width="33.2" height="6.6" fill="#e0263a"/>
<rect x="786.9" y="2298.2" width="33.3" height="6.6" fill="#f39b26"/>
<path d="M750.6 2281.8C750.8 2281.6 751.8 2281.1 751.7 2280.6C751.7 2280.1 751.1 2279.7 750.5 2279.0C749.9 2278.4 749.4 2278.1 748.0 2276.7C746.6 2275.2 743.5 2272.5 742.1 2270.1C740.7 2267.7 739.8 2264.8 739.6 2262.2C739.5 2259.6 740.5 2257.8 741.3 2254.3C742.1 2250.8 743.6 2245.5 744.2 2241.2C744.8 2236.8 744.9 2232.4 745.1 2228.0C745.2 2223.6 745.3 2219.2 745.1 2214.8C744.8 2210.5 744.1 2206.1 743.4 2201.7C742.7 2197.3 741.6 2192.9 740.7 2188.5C739.8 2184.2 738.7 2180.2 738.0 2175.4C737.2 2170.6 736.6 2162.2 736.3 2159.6L734.6 2159.6C734.3 2162.2 733.7 2170.6 732.9 2175.4C732.2 2180.2 731.1 2184.2 730.2 2188.5C729.3 2192.9 728.2 2197.3 727.5 2201.7C726.8 2206.1 726.1 2210.5 725.8 2214.8C725.6 2219.2 725.7 2223.6 725.8 2228.0C726.0 2232.4 726.1 2236.8 726.7 2241.2C727.3 2245.5 728.8 2250.8 729.6 2254.3C730.4 2257.8 731.4 2259.6 731.3 2262.2C731.1 2264.8 730.2 2267.7 728.8 2270.1C727.4 2272.5 724.3 2275.2 722.9 2276.7C721.5 2278.1 721.0 2278.4 720.4 2279.0C719.8 2279.7 719.2 2280.1 719.2 2280.6C719.1 2281.1 720.1 2281.6 720.3 2281.8Z" fill="#e2252c"/>
<path d="M784.0 2281.8C784.1 2281.6 785.1 2281.1 785.1 2280.6C785.0 2280.1 784.5 2279.7 783.8 2279.0C783.1 2278.4 782.1 2277.9 780.7 2276.7C779.2 2275.4 776.5 2273.4 775.0 2271.4C773.6 2269.4 772.3 2267.7 771.7 2264.8C771.1 2262.0 771.1 2258.2 771.3 2254.3C771.4 2250.4 772.5 2245.1 772.5 2241.2C772.6 2237.2 772.0 2235.0 771.7 2230.6C771.4 2226.2 771.1 2220.5 770.9 2214.8C770.7 2209.2 770.6 2203.8 770.5 2196.4C770.3 2189.1 769.9 2175.0 769.8 2170.7L768.6 2170.7C768.5 2175.0 768.1 2189.1 767.9 2196.4C767.8 2203.8 767.7 2209.2 767.5 2214.8C767.3 2220.5 767.0 2226.2 766.7 2230.6C766.4 2235.0 765.8 2237.2 765.9 2241.2C765.9 2245.1 767.0 2250.4 767.1 2254.3C767.3 2258.2 767.3 2262.0 766.7 2264.8C766.1 2267.7 764.8 2269.4 763.4 2271.4C761.9 2273.4 759.2 2275.4 757.7 2276.7C756.3 2277.9 755.3 2278.4 754.6 2279.0C753.9 2279.7 753.4 2280.1 753.3 2280.6C753.3 2281.1 754.3 2281.6 754.4 2281.8Z" fill="#e2252c"/>
<path d="M818.1 2281.8C818.3 2281.6 819.3 2281.1 819.2 2280.6C819.2 2280.1 818.6 2279.7 818.0 2279.0C817.4 2278.4 816.7 2278.1 815.5 2276.7C814.2 2275.2 811.9 2272.5 810.5 2270.1C809.1 2267.7 807.9 2264.8 807.1 2262.2C806.4 2259.6 805.8 2257.8 805.9 2254.3C805.9 2250.8 807.2 2245.5 807.5 2241.2C807.9 2236.8 808.1 2232.4 808.0 2228.0C807.8 2223.6 807.1 2218.8 806.7 2214.8C806.3 2210.9 805.7 2207.5 805.5 2204.3C805.2 2201.2 805.1 2197.3 805.0 2195.9L800.9 2195.9C800.8 2197.3 800.7 2201.2 800.4 2204.3C800.2 2207.5 799.6 2210.9 799.2 2214.8C798.8 2218.8 798.1 2223.6 797.9 2228.0C797.8 2232.4 798.0 2236.8 798.4 2241.2C798.7 2245.5 800.0 2250.8 800.0 2254.3C800.1 2257.8 799.5 2259.6 798.8 2262.2C798.0 2264.8 796.8 2267.7 795.4 2270.1C794.0 2272.5 791.7 2275.2 790.4 2276.7C789.2 2278.1 788.5 2278.4 787.9 2279.0C787.3 2279.7 786.7 2280.1 786.7 2280.6C786.6 2281.1 787.6 2281.6 787.8 2281.8Z" fill="#e2252c"/>
<text x="779.6" y="2313.0" font-size="29.0" text-anchor="end" transform="rotate(-90 779.6 2313.0)">Id1</text>
<line x1="835.6" y1="2289.8" x2="942.4" y2="2289.8" stroke="#000" stroke-width="2.60"/>
<rect x="840.0" y="2298.2" width="33.4" height="6.6" fill="#5499e3"/>
<rect x="873.4" y="2298.2" width="33.2" height="6.6" fill="#e0263a"/>
<rect x="906.6" y="2298.2" width="33.3" height="6.6" fill="#f39b26"/>
<path d="M870.3 2281.8C870.5 2281.6 871.4 2281.1 871.5 2280.6C871.5 2280.1 871.2 2279.7 870.6 2279.0C870.1 2278.4 869.4 2278.1 868.1 2276.7C866.8 2275.2 864.2 2272.5 862.7 2270.1C861.2 2267.7 859.1 2264.8 858.9 2262.2C858.7 2259.6 860.3 2257.4 861.4 2254.3C862.6 2251.2 864.6 2247.3 865.6 2243.8C866.6 2240.3 867.0 2236.8 867.3 2233.3C867.6 2229.8 867.4 2226.2 867.3 2222.7C867.2 2219.2 867.2 2215.7 866.9 2212.2C866.6 2208.7 866.5 2205.2 865.6 2201.7C864.8 2198.2 863.1 2194.7 861.9 2191.2C860.6 2187.7 859.1 2184.8 858.1 2180.7C857.1 2176.5 856.4 2168.6 856.0 2166.2L854.3 2166.2C854.0 2168.6 853.2 2176.5 852.3 2180.7C851.3 2184.8 849.8 2187.7 848.5 2191.2C847.2 2194.7 845.6 2198.2 844.7 2201.7C843.9 2205.2 843.8 2208.7 843.5 2212.2C843.2 2215.7 843.1 2219.2 843.1 2222.7C843.0 2226.2 842.8 2229.8 843.1 2233.3C843.3 2236.8 843.8 2240.3 844.7 2243.8C845.7 2247.3 847.8 2251.2 848.9 2254.3C850.0 2257.4 851.6 2259.6 851.4 2262.2C851.2 2264.8 849.2 2267.7 847.7 2270.1C846.1 2272.5 843.6 2275.2 842.2 2276.7C840.9 2278.1 840.3 2278.4 839.7 2279.0C839.2 2279.7 838.8 2280.1 838.9 2280.6C838.9 2281.1 839.8 2281.6 840.0 2281.8Z" fill="#f39a1e"/>
<path d="M903.7 2281.8C903.9 2281.6 904.8 2281.0 904.8 2280.6C904.8 2280.2 904.3 2279.8 903.5 2279.3C902.8 2278.8 902.0 2278.5 900.4 2277.4C898.8 2276.3 895.7 2274.4 894.2 2272.7C892.6 2271.0 891.6 2270.1 891.0 2267.4C890.4 2264.8 890.5 2260.4 890.6 2256.9C890.7 2253.4 891.1 2249.9 891.4 2246.4C891.8 2242.9 892.7 2239.4 892.7 2235.9C892.7 2232.4 891.8 2229.3 891.4 2225.4C891.1 2221.4 890.9 2218.5 890.6 2212.2C890.3 2206.0 889.7 2191.8 889.6 2187.8L888.3 2187.8C888.1 2191.8 887.6 2206.0 887.3 2212.2C886.9 2218.5 886.8 2221.4 886.4 2225.4C886.1 2229.3 885.2 2232.4 885.2 2235.9C885.2 2239.4 886.1 2242.9 886.4 2246.4C886.8 2249.9 887.2 2253.4 887.3 2256.9C887.3 2260.4 887.4 2264.8 886.8 2267.4C886.3 2270.1 885.3 2271.0 883.7 2272.7C882.1 2274.4 879.0 2276.3 877.4 2277.4C875.9 2278.5 875.0 2278.8 874.3 2279.3C873.6 2279.8 873.1 2280.2 873.1 2280.6C873.0 2281.0 874.0 2281.6 874.2 2281.8Z" fill="#f39a1e"/>
<path d="M937.8 2281.8C938.0 2281.6 939.0 2281.1 939.0 2280.6C938.9 2280.1 938.3 2279.7 937.7 2279.0C937.1 2278.4 936.5 2278.1 935.2 2276.7C933.9 2275.2 931.3 2272.5 929.8 2270.1C928.2 2267.7 926.7 2264.8 926.0 2262.2C925.3 2259.6 925.3 2257.4 925.6 2254.3C926.0 2251.2 927.5 2247.3 928.1 2243.8C928.7 2240.3 929.4 2236.8 929.4 2233.3C929.4 2229.8 928.7 2226.2 928.1 2222.7C927.5 2219.2 926.2 2215.7 925.6 2212.2C925.0 2208.7 924.7 2206.1 924.4 2201.7C924.0 2197.3 923.9 2191.9 923.7 2185.9C923.6 2179.9 923.4 2169.0 923.3 2165.7L922.1 2165.7C922.0 2169.0 921.8 2179.9 921.6 2185.9C921.5 2191.9 921.3 2197.3 921.0 2201.7C920.7 2206.1 920.4 2208.7 919.8 2212.2C919.1 2215.7 917.9 2219.2 917.3 2222.7C916.6 2226.2 916.0 2229.8 916.0 2233.3C916.0 2236.8 916.6 2240.3 917.3 2243.8C917.9 2247.3 919.4 2251.2 919.8 2254.3C920.1 2257.4 920.0 2259.6 919.3 2262.2C918.6 2264.8 917.1 2267.7 915.6 2270.1C914.0 2272.5 911.5 2275.2 910.2 2276.7C908.8 2278.1 908.3 2278.4 907.6 2279.0C907.0 2279.7 906.4 2280.1 906.4 2280.6C906.4 2281.1 907.3 2281.6 907.5 2281.8Z" fill="#f39a1e"/>
<text x="899.4" y="2313.0" font-size="29.0" text-anchor="end" transform="rotate(-90 899.4 2313.0)">Mmp8</text>
<line x1="955.3" y1="2289.8" x2="1062.1" y2="2289.8" stroke="#000" stroke-width="2.60"/>
<rect x="959.7" y="2298.2" width="33.4" height="6.6" fill="#5499e3"/>
<rect x="993.1" y="2298.2" width="33.2" height="6.6" fill="#e0263a"/>
<rect x="1026.3" y="2298.2" width="33.3" height="6.6" fill="#f39b26"/>
<path d="M990.1 2281.8C990.2 2281.6 991.1 2281.1 991.2 2280.6C991.2 2280.1 990.9 2279.7 990.4 2279.0C989.8 2278.4 989.2 2278.1 987.9 2276.7C986.5 2275.2 984.0 2272.5 982.4 2270.1C980.8 2267.7 978.7 2264.8 978.3 2262.2C977.8 2259.6 979.2 2257.4 979.9 2254.3C980.6 2251.2 981.8 2247.3 982.4 2243.8C983.1 2240.3 983.4 2236.8 983.7 2233.3C984.0 2229.8 984.2 2226.2 984.1 2222.7C984.0 2219.2 983.7 2215.7 983.3 2212.2C982.8 2208.7 982.3 2205.6 981.6 2201.7C980.9 2197.8 979.9 2192.9 979.1 2188.5C978.3 2184.2 977.5 2179.1 977.0 2175.4C976.5 2171.7 976.5 2167.7 976.4 2166.2L973.4 2166.2C973.3 2167.7 973.3 2171.7 972.8 2175.4C972.4 2179.1 971.5 2184.2 970.7 2188.5C970.0 2192.9 968.9 2197.8 968.2 2201.7C967.5 2205.6 967.0 2208.7 966.6 2212.2C966.1 2215.7 965.8 2219.2 965.7 2222.7C965.7 2226.2 965.9 2229.8 966.1 2233.3C966.4 2236.8 966.8 2240.3 967.4 2243.8C968.0 2247.3 969.2 2251.2 969.9 2254.3C970.6 2257.4 972.0 2259.6 971.6 2262.2C971.2 2264.8 969.0 2267.7 967.4 2270.1C965.8 2272.5 963.3 2275.2 962.0 2276.7C960.6 2278.1 960.0 2278.4 959.5 2279.0C958.9 2279.7 958.6 2280.1 958.6 2280.6C958.7 2281.1 959.6 2281.6 959.8 2281.8Z" fill="#2cb5a0"/>
<path d="M1023.0 2281.8C1023.2 2281.6 1024.1 2281.0 1024.1 2280.6C1024.1 2280.2 1023.5 2280.0 1022.9 2279.5C1022.2 2279.1 1021.6 2278.9 1020.1 2278.0C1018.6 2277.0 1015.5 2275.6 1013.9 2274.0C1012.2 2272.5 1011.0 2271.6 1010.3 2268.8C1009.7 2265.9 1009.8 2260.7 1009.9 2256.9C1010.1 2253.2 1010.7 2249.9 1011.2 2246.4C1011.6 2242.9 1012.3 2239.4 1012.4 2235.9C1012.5 2232.4 1011.9 2229.3 1011.6 2225.4C1011.3 2221.4 1010.9 2218.8 1010.5 2212.2C1010.2 2205.6 1009.5 2190.3 1009.3 2185.9L1008.0 2185.9C1007.8 2190.3 1007.2 2205.6 1006.8 2212.2C1006.4 2218.8 1006.0 2221.4 1005.7 2225.4C1005.4 2229.3 1004.8 2232.4 1004.9 2235.9C1005.0 2239.4 1005.7 2242.9 1006.2 2246.4C1006.6 2249.9 1007.3 2253.2 1007.4 2256.9C1007.5 2260.7 1007.7 2265.9 1007.0 2268.8C1006.3 2271.6 1005.1 2272.5 1003.4 2274.0C1001.8 2275.6 998.7 2277.0 997.2 2278.0C995.7 2278.9 995.1 2279.1 994.5 2279.5C993.8 2280.0 993.2 2280.2 993.2 2280.6C993.2 2281.0 994.1 2281.6 994.3 2281.8Z" fill="#2cb5a0"/>
<path d="M1057.6 2281.8C1057.7 2281.6 1058.6 2281.1 1058.7 2280.6C1058.8 2280.1 1058.7 2279.7 1058.3 2279.0C1057.9 2278.4 1057.3 2278.1 1056.2 2276.7C1055.1 2275.2 1053.0 2272.5 1051.6 2270.1C1050.2 2267.7 1048.5 2264.8 1047.8 2262.2C1047.1 2259.6 1047.1 2257.4 1047.4 2254.3C1047.8 2251.2 1049.3 2247.3 1049.9 2243.8C1050.6 2240.3 1051.2 2236.8 1051.2 2233.3C1051.2 2229.8 1050.4 2226.2 1049.9 2222.7C1049.4 2219.2 1048.8 2215.7 1048.3 2212.2C1047.7 2208.7 1047.1 2205.2 1046.6 2201.7C1046.1 2198.2 1045.7 2194.2 1045.3 2191.2C1045.0 2188.1 1044.6 2184.6 1044.5 2183.3L1040.3 2183.3C1040.2 2184.6 1039.8 2188.1 1039.5 2191.2C1039.1 2194.2 1038.7 2198.2 1038.2 2201.7C1037.7 2205.2 1037.1 2208.7 1036.6 2212.2C1036.0 2215.7 1035.4 2219.2 1034.9 2222.7C1034.4 2226.2 1033.6 2229.8 1033.6 2233.3C1033.6 2236.8 1034.3 2240.3 1034.9 2243.8C1035.5 2247.3 1037.1 2251.2 1037.4 2254.3C1037.7 2257.4 1037.7 2259.6 1037.0 2262.2C1036.3 2264.8 1034.6 2267.7 1033.2 2270.1C1031.8 2272.5 1029.7 2275.2 1028.6 2276.7C1027.5 2278.1 1027.0 2278.4 1026.5 2279.0C1026.1 2279.7 1026.0 2280.1 1026.1 2280.6C1026.2 2281.1 1027.1 2281.6 1027.3 2281.8Z" fill="#2cb5a0"/>
<text x="1019.1" y="2313.0" font-size="29.0" text-anchor="end" transform="rotate(-90 1019.1 2313.0)">Ifitm6</text>
<line x1="1075.0" y1="2289.8" x2="1181.8" y2="2289.8" stroke="#000" stroke-width="2.60"/>
<rect x="1079.4" y="2298.2" width="33.4" height="6.6" fill="#5499e3"/>
<rect x="1112.8" y="2298.2" width="33.2" height="6.6" fill="#e0263a"/>
<rect x="1146.0" y="2298.2" width="33.3" height="6.6" fill="#f39b26"/>
<path d="M1097.1 2281.4C1097.1 2280.2 1096.9 2275.7 1096.7 2274.0C1096.5 2272.4 1095.8 2274.7 1095.9 2271.4C1096.0 2268.1 1096.7 2259.3 1097.1 2254.3C1097.6 2249.3 1097.9 2245.5 1098.4 2241.2C1098.9 2236.8 1099.4 2232.4 1100.1 2228.0C1100.7 2223.6 1101.3 2219.2 1102.2 2214.8C1103.0 2210.5 1104.0 2206.1 1105.1 2201.7C1106.1 2197.3 1107.5 2192.9 1108.4 2188.5C1109.3 2184.2 1110.2 2179.3 1110.5 2175.4C1110.9 2171.5 1110.9 2168.4 1110.5 2164.9C1110.2 2161.4 1109.7 2157.9 1108.4 2154.4C1107.2 2150.9 1104.7 2146.9 1103.0 2143.8C1101.3 2140.8 1099.7 2138.9 1098.4 2135.9C1097.1 2133.0 1096.0 2127.8 1095.5 2126.2L1093.8 2126.2C1093.3 2127.8 1092.1 2133.0 1090.9 2135.9C1089.6 2138.9 1088.0 2140.8 1086.3 2143.8C1084.6 2146.9 1082.1 2150.9 1080.9 2154.4C1079.6 2157.9 1079.1 2161.4 1078.8 2164.9C1078.4 2168.4 1078.4 2171.5 1078.8 2175.4C1079.1 2179.3 1080.0 2184.2 1080.9 2188.5C1081.8 2192.9 1083.2 2197.3 1084.2 2201.7C1085.2 2206.1 1086.3 2210.5 1087.1 2214.8C1088.0 2219.2 1088.6 2223.6 1089.2 2228.0C1089.8 2232.4 1090.4 2236.8 1090.9 2241.2C1091.4 2245.5 1091.7 2249.3 1092.1 2254.3C1092.6 2259.3 1093.3 2268.1 1093.4 2271.4C1093.5 2274.7 1092.8 2272.4 1092.6 2274.0C1092.3 2275.7 1092.2 2280.2 1092.1 2281.4Z" fill="#dcb876"/>
<path d="M1143.1 2281.8C1143.3 2281.6 1144.2 2281.1 1144.3 2280.6C1144.3 2280.1 1144.3 2279.8 1143.4 2278.5C1142.5 2277.2 1140.4 2275.0 1138.8 2272.7C1137.3 2270.4 1135.5 2267.4 1134.2 2264.8C1133.0 2262.2 1131.4 2260.0 1131.3 2256.9C1131.2 2253.9 1133.1 2251.2 1133.8 2246.4C1134.5 2241.6 1135.4 2235.5 1135.5 2228.0C1135.6 2220.5 1135.1 2210.5 1134.7 2201.7C1134.2 2192.9 1133.3 2184.2 1132.6 2175.4C1131.8 2166.6 1130.7 2155.5 1130.1 2149.1C1129.5 2142.7 1129.2 2139.2 1129.0 2137.3L1127.8 2137.3C1127.6 2139.2 1127.3 2142.7 1126.7 2149.1C1126.1 2155.5 1125.0 2166.6 1124.2 2175.4C1123.4 2184.2 1122.6 2192.9 1122.1 2201.7C1121.6 2210.5 1121.2 2220.5 1121.3 2228.0C1121.4 2235.5 1122.3 2241.6 1123.0 2246.4C1123.7 2251.2 1125.5 2253.9 1125.5 2256.9C1125.4 2260.0 1123.8 2262.2 1122.5 2264.8C1121.3 2267.4 1119.5 2270.4 1117.9 2272.7C1116.4 2275.0 1114.3 2277.2 1113.4 2278.5C1112.5 2279.8 1112.5 2280.1 1112.5 2280.6C1112.6 2281.1 1113.4 2281.6 1113.6 2281.8Z" fill="#dcb876"/>
<path d="M1177.3 2281.8C1177.5 2281.6 1178.3 2281.1 1178.4 2280.6C1178.5 2280.1 1178.5 2279.8 1178.0 2278.5C1177.5 2277.2 1176.6 2275.4 1175.5 2272.7C1174.4 2270.0 1172.2 2265.3 1171.3 2262.2C1170.4 2259.1 1170.1 2260.0 1170.1 2254.3C1170.0 2248.6 1170.8 2236.8 1170.9 2228.0C1171.0 2219.2 1170.8 2210.5 1170.5 2201.7C1170.1 2192.9 1169.3 2181.5 1168.8 2175.4C1168.3 2169.3 1167.8 2167.3 1167.6 2164.9C1167.3 2162.5 1167.2 2161.6 1167.2 2160.9L1157.1 2160.9C1157.1 2161.6 1157.0 2162.5 1156.7 2164.9C1156.4 2167.3 1155.9 2169.3 1155.5 2175.4C1155.0 2181.5 1154.1 2192.9 1153.8 2201.7C1153.4 2210.5 1153.3 2219.2 1153.4 2228.0C1153.4 2236.8 1154.3 2248.6 1154.2 2254.3C1154.1 2260.0 1153.9 2259.1 1153.0 2262.2C1152.0 2265.3 1149.9 2270.0 1148.8 2272.7C1147.7 2275.4 1146.8 2277.2 1146.3 2278.5C1145.8 2279.8 1145.7 2280.1 1145.9 2280.6C1146.0 2281.1 1146.8 2281.6 1147.0 2281.8Z" fill="#dcb876"/>
<text x="1138.8" y="2313.0" font-size="29.0" text-anchor="end" transform="rotate(-90 1138.8 2313.0)">Wfdc17</text>
<line x1="1194.8" y1="2289.8" x2="1301.6" y2="2289.8" stroke="#000" stroke-width="2.60"/>
<rect x="1199.2" y="2298.2" width="33.4" height="6.6" fill="#5499e3"/>
<rect x="1232.6" y="2298.2" width="33.2" height="6.6" fill="#e0263a"/>
<rect x="1265.8" y="2298.2" width="33.3" height="6.6" fill="#f39b26"/>
<path d="M1229.1 2281.8C1229.3 2281.6 1230.2 2281.1 1230.2 2280.6C1230.3 2280.1 1229.8 2279.7 1229.4 2279.0C1229.0 2278.4 1228.8 2277.9 1227.7 2276.7C1226.6 2275.4 1224.3 2273.4 1222.7 2271.4C1221.1 2269.4 1219.1 2267.2 1218.1 2264.8C1217.2 2262.4 1216.8 2260.9 1216.9 2256.9C1216.9 2253.0 1218.3 2246.0 1218.5 2241.2C1218.8 2236.3 1218.3 2232.4 1218.1 2228.0C1218.0 2223.6 1217.9 2219.2 1217.7 2214.8C1217.5 2210.5 1217.3 2206.1 1217.1 2201.7C1216.9 2197.3 1216.7 2192.9 1216.5 2188.5C1216.2 2184.2 1216.1 2181.3 1215.8 2175.4C1215.6 2169.5 1215.1 2156.8 1215.0 2153.0L1213.7 2153.0C1213.6 2156.8 1213.2 2169.5 1212.9 2175.4C1212.7 2181.3 1212.5 2184.2 1212.3 2188.5C1212.1 2192.9 1211.9 2197.3 1211.7 2201.7C1211.4 2206.1 1211.2 2210.5 1211.0 2214.8C1210.9 2219.2 1210.8 2223.6 1210.6 2228.0C1210.5 2232.4 1210.0 2236.3 1210.2 2241.2C1210.4 2246.0 1211.8 2253.0 1211.9 2256.9C1211.9 2260.9 1211.6 2262.4 1210.6 2264.8C1209.6 2267.2 1207.6 2269.4 1206.0 2271.4C1204.4 2273.4 1202.1 2275.4 1201.0 2276.7C1199.9 2277.9 1199.8 2278.4 1199.3 2279.0C1198.9 2279.7 1198.5 2280.1 1198.5 2280.6C1198.5 2281.1 1199.4 2281.6 1199.6 2281.8Z" fill="#c6a9d0"/>
<path d="M1262.5 2281.8C1262.7 2281.6 1263.7 2280.9 1263.6 2280.6C1263.5 2280.3 1262.7 2280.3 1261.9 2280.1C1261.1 2279.9 1260.5 2279.7 1258.6 2279.3C1256.6 2278.8 1251.8 2278.1 1250.2 2277.4C1248.6 2276.8 1249.2 2279.2 1249.0 2275.3C1248.7 2271.5 1248.9 2268.5 1248.9 2254.3C1248.8 2240.1 1248.8 2201.0 1248.7 2190.4L1247.5 2190.4C1247.5 2201.0 1247.4 2240.1 1247.4 2254.3C1247.4 2268.5 1247.5 2271.5 1247.3 2275.3C1247.1 2279.2 1247.6 2276.8 1246.0 2277.4C1244.4 2278.1 1239.6 2278.8 1237.7 2279.3C1235.7 2279.7 1235.2 2279.9 1234.3 2280.1C1233.5 2280.3 1232.8 2280.3 1232.7 2280.6C1232.6 2280.9 1233.6 2281.6 1233.7 2281.8Z" fill="#c6a9d0"/>
<path d="M1296.6 2281.8C1296.8 2281.6 1297.8 2280.9 1297.7 2280.6C1297.6 2280.3 1296.9 2280.3 1296.1 2280.1C1295.2 2279.9 1294.7 2279.8 1292.7 2279.3C1290.8 2278.8 1286.0 2277.8 1284.4 2277.2C1282.7 2276.5 1283.0 2277.4 1282.7 2275.3C1282.4 2273.3 1282.6 2269.2 1282.6 2264.8C1282.6 2260.4 1282.5 2251.7 1282.5 2249.0L1281.2 2249.0C1281.2 2251.7 1281.2 2260.4 1281.1 2264.8C1281.1 2269.2 1281.3 2273.3 1281.0 2275.3C1280.7 2277.4 1281.0 2276.5 1279.4 2277.2C1277.7 2277.8 1273.0 2278.8 1271.0 2279.3C1269.1 2279.8 1268.5 2279.9 1267.7 2280.1C1266.8 2280.3 1266.1 2280.3 1266.0 2280.6C1265.9 2280.9 1266.9 2281.6 1267.1 2281.8Z" fill="#c6a9d0"/>
<text x="1258.6" y="2313.0" font-size="29.0" text-anchor="end" transform="rotate(-90 1258.6 2313.0)">Ngp</text>
</g>
<rect x="454.5" y="1791.4" width="32.8" height="6.4" fill="#5499e3"/>
<text x="494.8" y="1803.2" font-size="29.8">gMDSC5</text>
<rect x="636.5" y="1791.4" width="32.8" height="6.4" fill="#e0263a"/>
<text x="677.5" y="1803.2" font-size="29.8">gMDSC6</text>
<rect x="807.8" y="1791.4" width="32.8" height="6.4" fill="#f39b26"/>
<text x="851.8" y="1803.2" font-size="29.8">gMDSC7</text>
</svg></div></body></html>
